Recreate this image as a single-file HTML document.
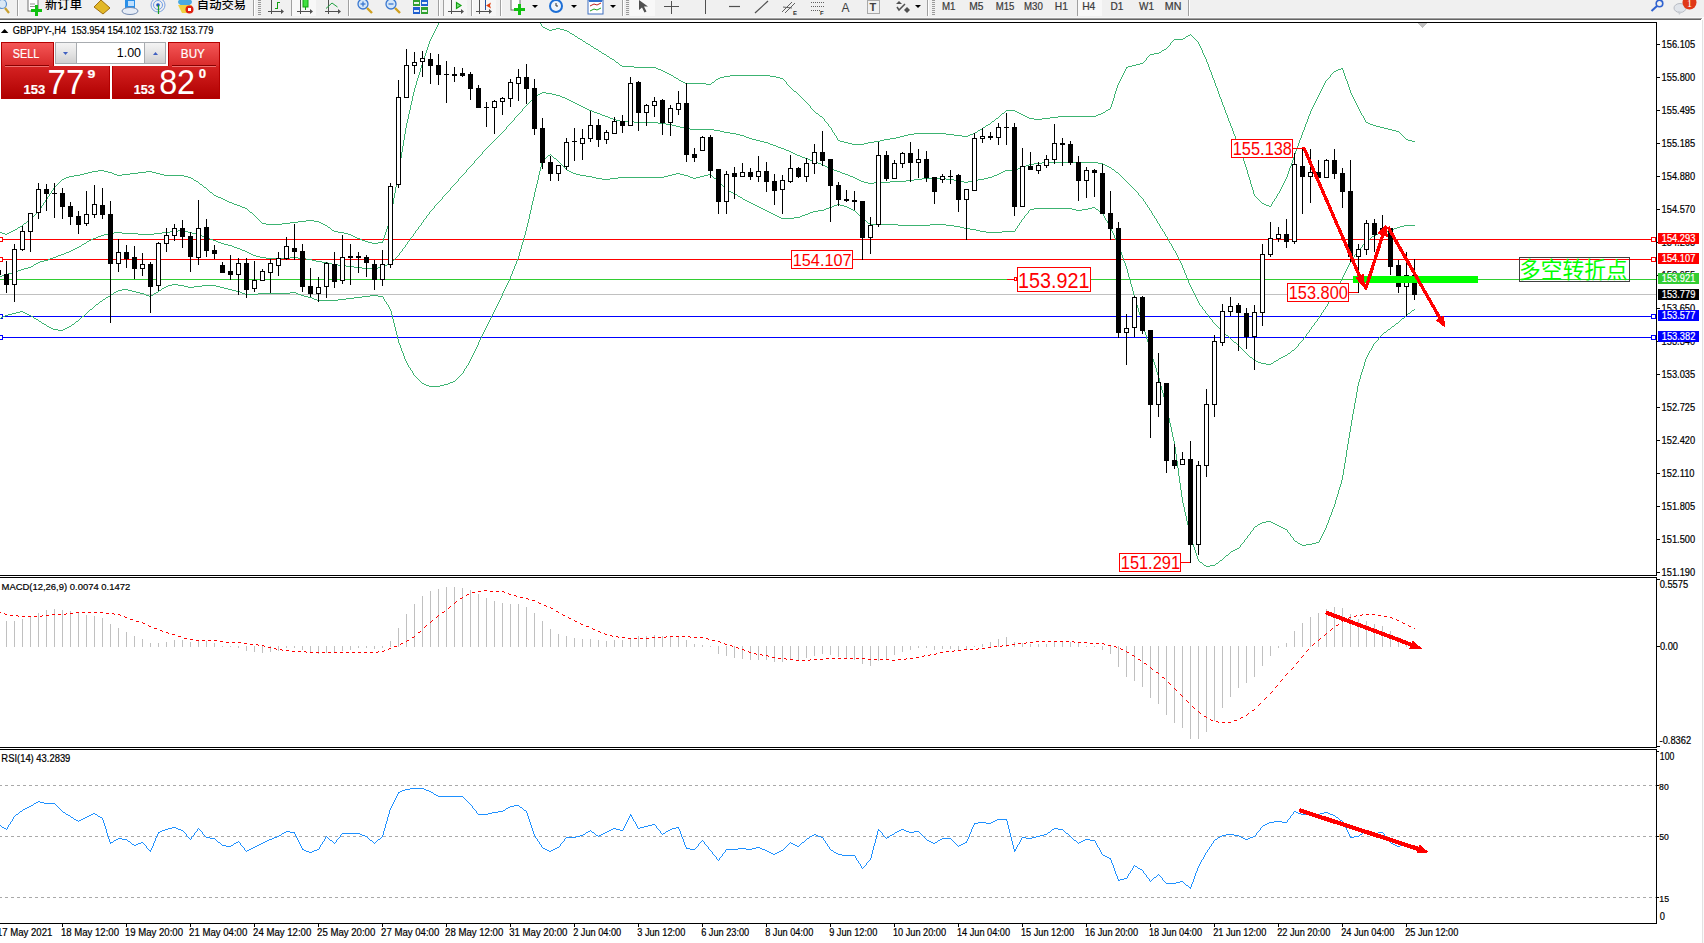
<!DOCTYPE html>
<html><head><meta charset="utf-8"><title>GBPJPY H4</title>
<style>html,body{margin:0;padding:0;background:#fff;width:1704px;height:943px;overflow:hidden}</style>
</head><body>
<svg width="1704" height="943" viewBox="0 0 1704 943" style="display:block">
<rect x="0" y="0" width="1704" height="943" fill="#ffffff"/>
<defs><clipPath id="cm"><rect x="0" y="23" width="1656" height="552"/></clipPath><clipPath id="cmacd"><rect x="0" y="578" width="1656" height="169"/></clipPath><clipPath id="crsi"><rect x="0" y="750" width="1656" height="173"/></clipPath></defs>
<g clip-path="url(#cm)" shape-rendering="crispEdges">
<rect x="0" y="239" width="1656" height="1" fill="#ff0000"/>
<rect x="0" y="259" width="1656" height="1" fill="#ff0000"/>
<rect x="0" y="279" width="1656" height="1" fill="#32cd32"/>
<rect x="0" y="294" width="1656" height="1" fill="#c0c0c0"/>
<rect x="0" y="316" width="1656" height="1" fill="#0000ff"/>
<rect x="0" y="337" width="1656" height="1" fill="#0000ff"/>
<rect x="-2.5" y="237.5" width="5" height="4" fill="#fff" stroke="#ff0000" stroke-width="1"/>
<rect x="-2.5" y="257.5" width="5" height="4" fill="#fff" stroke="#ff0000" stroke-width="1"/>
<rect x="-2.5" y="314.5" width="5" height="4" fill="#fff" stroke="#0000ff" stroke-width="1"/>
<rect x="-2.5" y="335.5" width="5" height="4" fill="#fff" stroke="#0000ff" stroke-width="1"/>
<rect x="1651.5" y="237.5" width="4" height="4" fill="#fff" stroke="#ff0000" stroke-width="1"/>
<rect x="1651.5" y="257.5" width="4" height="4" fill="#fff" stroke="#ff0000" stroke-width="1"/>
<rect x="1651.5" y="314.5" width="4" height="4" fill="#fff" stroke="#0000ff" stroke-width="1"/>
<rect x="1651.5" y="335.5" width="4" height="4" fill="#fff" stroke="#0000ff" stroke-width="1"/>
<polygon points="1418,23 1427,23 1422.5,28" fill="#c0c0c0"/>
<path d="M438 23h1v1h-1zM540 23h1v1h-1zM438 24h1v1h-1zM541 24h1v1h-1zM437 25h1v1h-1zM541 25h1v1h-1zM437 26h1v1h-1zM542 26h1v1h-1zM436 27h1v1h-1zM543 27h2v1h-2zM436 28h1v1h-1zM545 28h2v1h-2zM556 28h4v1h-4zM435 29h1v1h-1zM547 29h2v1h-2zM552 29h4v1h-4zM560 29h4v1h-4zM435 30h1v1h-1zM549 30h3v1h-3zM564 30h3v1h-3zM434 31h1v1h-1zM567 31h2v1h-2zM434 32h1v1h-1zM569 32h1v1h-1zM433 33h1v1h-1zM570 33h2v1h-2zM433 34h1v1h-1zM572 34h2v1h-2zM1190 34h1v1h-1zM432 35h1v1h-1zM574 35h1v1h-1zM1188 35h2v1h-2zM1191 35h1v1h-1zM432 36h1v1h-1zM575 36h2v1h-2zM1186 36h2v1h-2zM1192 36h1v1h-1zM431 37h1v1h-1zM577 37h1v1h-1zM1185 37h1v1h-1zM1193 37h1v1h-1zM431 38h1v1h-1zM578 38h2v1h-2zM1183 38h2v1h-2zM1194 38h1v1h-1zM430 39h1v1h-1zM580 39h2v1h-2zM1174 39h9v1h-9zM1195 39h1v1h-1zM430 40h1v1h-1zM582 40h1v1h-1zM1173 40h1v1h-1zM1196 40h1v1h-1zM429 41h1v1h-1zM583 41h2v1h-2zM1172 41h1v1h-1zM1197 41h1v1h-1zM429 42h1v1h-1zM585 42h1v1h-1zM1171 42h1v1h-1zM1198 42h1v1h-1zM429 43h1v1h-1zM586 43h2v1h-2zM1170 43h1v1h-1zM1198 43h1v1h-1zM428 44h1v1h-1zM588 44h2v1h-2zM1170 44h1v1h-1zM1199 44h1v1h-1zM428 45h1v1h-1zM590 45h1v1h-1zM1169 45h1v1h-1zM1199 45h1v1h-1zM428 46h1v1h-1zM591 46h2v1h-2zM1168 46h1v1h-1zM1200 46h1v1h-1zM427 47h1v1h-1zM593 47h1v1h-1zM1167 47h1v1h-1zM1200 47h1v1h-1zM427 48h1v1h-1zM594 48h2v1h-2zM1166 48h1v1h-1zM1201 48h1v1h-1zM427 49h1v1h-1zM596 49h2v1h-2zM1164 49h2v1h-2zM1201 49h1v1h-1zM426 50h1v1h-1zM598 50h1v1h-1zM1162 50h2v1h-2zM1202 50h1v1h-1zM426 51h1v1h-1zM599 51h2v1h-2zM1161 51h1v1h-1zM1202 51h1v1h-1zM426 52h1v1h-1zM601 52h1v1h-1zM1159 52h2v1h-2zM1202 52h1v1h-1zM425 53h1v1h-1zM602 53h2v1h-2zM1154 53h5v1h-5zM1203 53h1v1h-1zM425 54h1v1h-1zM604 54h2v1h-2zM1150 54h4v1h-4zM1203 54h1v1h-1zM425 55h1v1h-1zM606 55h1v1h-1zM1149 55h1v1h-1zM1204 55h1v1h-1zM424 56h1v1h-1zM607 56h2v1h-2zM1148 56h1v1h-1zM1204 56h1v1h-1zM424 57h1v1h-1zM609 57h1v1h-1zM1147 57h1v1h-1zM1205 57h1v1h-1zM424 58h1v1h-1zM610 58h2v1h-2zM1146 58h1v1h-1zM1205 58h1v1h-1zM423 59h1v1h-1zM612 59h2v1h-2zM1146 59h1v1h-1zM1206 59h1v1h-1zM423 60h1v1h-1zM614 60h1v1h-1zM1145 60h1v1h-1zM1206 60h1v1h-1zM423 61h1v1h-1zM615 61h1v1h-1zM1144 61h1v1h-1zM1206 61h1v1h-1zM422 62h1v1h-1zM616 62h2v1h-2zM1143 62h1v1h-1zM1207 62h1v1h-1zM422 63h1v1h-1zM618 63h1v1h-1zM1140 63h3v1h-3zM1207 63h1v1h-1zM422 64h1v1h-1zM619 64h1v1h-1zM1136 64h4v1h-4zM1208 64h1v1h-1zM421 65h1v1h-1zM620 65h2v1h-2zM1132 65h4v1h-4zM1208 65h1v1h-1zM421 66h1v1h-1zM622 66h12v1h-12zM1128 66h4v1h-4zM1208 66h1v1h-1zM421 67h1v1h-1zM634 67h22v1h-22zM1126 67h2v1h-2zM1209 67h1v1h-1zM420 68h1v1h-1zM656 68h2v1h-2zM1126 68h1v1h-1zM1209 68h1v1h-1zM1341 68h2v1h-2zM420 69h1v1h-1zM658 69h3v1h-3zM1125 69h1v1h-1zM1209 69h1v1h-1zM1338 69h3v1h-3zM1342 69h1v1h-1zM420 70h1v1h-1zM661 70h2v1h-2zM1125 70h1v1h-1zM1210 70h1v1h-1zM1336 70h2v1h-2zM1343 70h1v1h-1zM420 71h1v1h-1zM663 71h2v1h-2zM1124 71h1v1h-1zM1210 71h1v1h-1zM1334 71h2v1h-2zM1343 71h1v1h-1zM419 72h1v1h-1zM665 72h2v1h-2zM1124 72h1v1h-1zM1211 72h1v1h-1zM1333 72h1v1h-1zM1343 72h1v1h-1zM419 73h1v1h-1zM667 73h2v1h-2zM1123 73h1v1h-1zM1211 73h1v1h-1zM1332 73h1v1h-1zM1344 73h1v1h-1zM419 74h1v1h-1zM669 74h2v1h-2zM1123 74h1v1h-1zM1211 74h1v1h-1zM1331 74h1v1h-1zM1344 74h1v1h-1zM418 75h1v1h-1zM671 75h2v1h-2zM730 75h40v1h-40zM1122 75h1v1h-1zM1212 75h1v1h-1zM1330 75h1v1h-1zM1344 75h1v1h-1zM418 76h1v1h-1zM673 76h1v1h-1zM724 76h6v1h-6zM770 76h6v1h-6zM1122 76h1v1h-1zM1212 76h1v1h-1zM1330 76h1v1h-1zM1345 76h1v1h-1zM418 77h1v1h-1zM674 77h2v1h-2zM720 77h4v1h-4zM776 77h4v1h-4zM1121 77h1v1h-1zM1212 77h1v1h-1zM1329 77h1v1h-1zM1345 77h1v1h-1zM417 78h1v1h-1zM676 78h2v1h-2zM718 78h2v1h-2zM780 78h3v1h-3zM1121 78h1v1h-1zM1213 78h1v1h-1zM1328 78h1v1h-1zM1345 78h1v1h-1zM417 79h1v1h-1zM678 79h1v1h-1zM716 79h2v1h-2zM783 79h1v1h-1zM1120 79h1v1h-1zM1213 79h1v1h-1zM1327 79h1v1h-1zM1346 79h1v1h-1zM417 80h1v1h-1zM679 80h2v1h-2zM715 80h1v1h-1zM784 80h1v1h-1zM1120 80h1v1h-1zM1214 80h1v1h-1zM1326 80h1v1h-1zM1346 80h1v1h-1zM416 81h1v1h-1zM681 81h2v1h-2zM714 81h1v1h-1zM785 81h1v1h-1zM1119 81h1v1h-1zM1214 81h1v1h-1zM1325 81h1v1h-1zM1347 81h1v1h-1zM416 82h1v1h-1zM683 82h2v1h-2zM712 82h2v1h-2zM786 82h1v1h-1zM1119 82h1v1h-1zM1214 82h1v1h-1zM1325 82h1v1h-1zM1347 82h1v1h-1zM416 83h1v1h-1zM685 83h21v1h-21zM711 83h1v1h-1zM786 83h1v1h-1zM1118 83h1v1h-1zM1215 83h1v1h-1zM1324 83h1v1h-1zM1347 83h1v1h-1zM416 84h1v1h-1zM706 84h5v1h-5zM787 84h1v1h-1zM1118 84h1v1h-1zM1215 84h1v1h-1zM1324 84h1v1h-1zM1348 84h1v1h-1zM415 85h1v1h-1zM788 85h1v1h-1zM1117 85h1v1h-1zM1215 85h1v1h-1zM1323 85h1v1h-1zM1348 85h1v1h-1zM415 86h1v1h-1zM789 86h1v1h-1zM1117 86h1v1h-1zM1216 86h1v1h-1zM1323 86h1v1h-1zM1348 86h1v1h-1zM415 87h1v1h-1zM790 87h1v1h-1zM1117 87h1v1h-1zM1216 87h1v1h-1zM1322 87h1v1h-1zM1349 87h1v1h-1zM414 88h1v1h-1zM791 88h1v1h-1zM1116 88h1v1h-1zM1217 88h1v1h-1zM1322 88h1v1h-1zM1349 88h1v1h-1zM414 89h1v1h-1zM792 89h1v1h-1zM1116 89h1v1h-1zM1217 89h1v1h-1zM1321 89h1v1h-1zM1349 89h1v1h-1zM414 90h1v1h-1zM793 90h1v1h-1zM1116 90h1v1h-1zM1217 90h1v1h-1zM1321 90h1v1h-1zM1350 90h1v1h-1zM414 91h1v1h-1zM794 91h2v1h-2zM1115 91h1v1h-1zM1218 91h1v1h-1zM1320 91h1v1h-1zM1350 91h1v1h-1zM413 92h1v1h-1zM796 92h1v1h-1zM1115 92h1v1h-1zM1218 92h1v1h-1zM1320 92h1v1h-1zM1350 92h1v1h-1zM413 93h1v1h-1zM797 93h1v1h-1zM1115 93h1v1h-1zM1218 93h1v1h-1zM1319 93h1v1h-1zM1351 93h1v1h-1zM413 94h1v1h-1zM798 94h1v1h-1zM1114 94h1v1h-1zM1219 94h1v1h-1zM1319 94h1v1h-1zM1351 94h1v1h-1zM413 95h1v1h-1zM799 95h1v1h-1zM1114 95h1v1h-1zM1219 95h1v1h-1zM1318 95h1v1h-1zM1352 95h1v1h-1zM412 96h1v1h-1zM800 96h1v1h-1zM1114 96h1v1h-1zM1219 96h1v1h-1zM1318 96h1v1h-1zM1352 96h1v1h-1zM412 97h1v1h-1zM801 97h1v1h-1zM1114 97h1v1h-1zM1220 97h1v1h-1zM1317 97h1v1h-1zM1353 97h1v1h-1zM412 98h1v1h-1zM802 98h1v1h-1zM1113 98h1v1h-1zM1220 98h1v1h-1zM1317 98h1v1h-1zM1353 98h1v1h-1zM412 99h1v1h-1zM803 99h1v1h-1zM1113 99h1v1h-1zM1221 99h1v1h-1zM1316 99h1v1h-1zM1354 99h1v1h-1zM412 100h1v1h-1zM804 100h1v1h-1zM1113 100h1v1h-1zM1221 100h1v1h-1zM1316 100h1v1h-1zM1354 100h1v1h-1zM411 101h1v1h-1zM805 101h1v1h-1zM1112 101h1v1h-1zM1221 101h1v1h-1zM1315 101h1v1h-1zM1355 101h1v1h-1zM411 102h1v1h-1zM806 102h1v1h-1zM1112 102h1v1h-1zM1222 102h1v1h-1zM1315 102h1v1h-1zM1355 102h1v1h-1zM411 103h1v1h-1zM807 103h1v1h-1zM1112 103h1v1h-1zM1222 103h1v1h-1zM1314 103h1v1h-1zM1356 103h1v1h-1zM411 104h1v1h-1zM808 104h1v1h-1zM1111 104h1v1h-1zM1222 104h1v1h-1zM1314 104h1v1h-1zM1356 104h1v1h-1zM410 105h1v1h-1zM809 105h1v1h-1zM1111 105h1v1h-1zM1223 105h1v1h-1zM1313 105h1v1h-1zM1357 105h1v1h-1zM410 106h1v1h-1zM810 106h1v1h-1zM1111 106h1v1h-1zM1223 106h1v1h-1zM1313 106h1v1h-1zM1357 106h1v1h-1zM410 107h1v1h-1zM810 107h1v1h-1zM1110 107h1v1h-1zM1224 107h1v1h-1zM1312 107h1v1h-1zM1358 107h1v1h-1zM410 108h1v1h-1zM811 108h1v1h-1zM1110 108h1v1h-1zM1224 108h1v1h-1zM1312 108h1v1h-1zM1358 108h1v1h-1zM410 109h1v1h-1zM812 109h1v1h-1zM1108 109h2v1h-2zM1224 109h1v1h-1zM1311 109h1v1h-1zM1359 109h1v1h-1zM409 110h1v1h-1zM813 110h1v1h-1zM1006 110h9v1h-9zM1106 110h2v1h-2zM1225 110h1v1h-1zM1311 110h1v1h-1zM1359 110h1v1h-1zM409 111h1v1h-1zM814 111h1v1h-1zM1005 111h1v1h-1zM1015 111h2v1h-2zM1105 111h1v1h-1zM1225 111h1v1h-1zM1310 111h1v1h-1zM1360 111h1v1h-1zM409 112h1v1h-1zM815 112h1v1h-1zM1004 112h1v1h-1zM1017 112h2v1h-2zM1103 112h2v1h-2zM1225 112h1v1h-1zM1310 112h1v1h-1zM1360 112h1v1h-1zM409 113h1v1h-1zM816 113h2v1h-2zM1002 113h2v1h-2zM1019 113h2v1h-2zM1101 113h2v1h-2zM1226 113h1v1h-1zM1310 113h1v1h-1zM1361 113h1v1h-1zM408 114h1v1h-1zM818 114h1v1h-1zM1001 114h1v1h-1zM1021 114h2v1h-2zM1098 114h3v1h-3zM1226 114h1v1h-1zM1309 114h1v1h-1zM1361 114h1v1h-1zM408 115h1v1h-1zM819 115h1v1h-1zM1000 115h1v1h-1zM1023 115h2v1h-2zM1096 115h2v1h-2zM1227 115h1v1h-1zM1309 115h1v1h-1zM1362 115h1v1h-1zM408 116h1v1h-1zM820 116h2v1h-2zM999 116h1v1h-1zM1025 116h2v1h-2zM1058 116h38v1h-38zM1227 116h1v1h-1zM1308 116h1v1h-1zM1363 116h1v1h-1zM408 117h1v1h-1zM822 117h1v1h-1zM998 117h1v1h-1zM1027 117h2v1h-2zM1050 117h8v1h-8zM1227 117h1v1h-1zM1308 117h1v1h-1zM1363 117h1v1h-1zM408 118h1v1h-1zM823 118h1v1h-1zM996 118h2v1h-2zM1029 118h5v1h-5zM1042 118h8v1h-8zM1228 118h1v1h-1zM1308 118h1v1h-1zM1364 118h1v1h-1zM407 119h1v1h-1zM824 119h1v1h-1zM995 119h1v1h-1zM1034 119h8v1h-8zM1228 119h1v1h-1zM1307 119h1v1h-1zM1364 119h1v1h-1zM407 120h1v1h-1zM824 120h1v1h-1zM994 120h1v1h-1zM1228 120h1v1h-1zM1307 120h1v1h-1zM1365 120h1v1h-1zM407 121h1v1h-1zM825 121h1v1h-1zM992 121h2v1h-2zM1229 121h1v1h-1zM1307 121h1v1h-1zM1365 121h1v1h-1zM407 122h1v1h-1zM826 122h1v1h-1zM991 122h1v1h-1zM1229 122h1v1h-1zM1306 122h1v1h-1zM1366 122h2v1h-2zM406 123h1v1h-1zM827 123h1v1h-1zM990 123h1v1h-1zM1230 123h1v1h-1zM1306 123h1v1h-1zM1368 123h2v1h-2zM406 124h1v1h-1zM828 124h1v1h-1zM988 124h2v1h-2zM1230 124h1v1h-1zM1305 124h1v1h-1zM1370 124h3v1h-3zM406 125h1v1h-1zM828 125h1v1h-1zM986 125h2v1h-2zM1230 125h1v1h-1zM1305 125h1v1h-1zM1373 125h3v1h-3zM406 126h1v1h-1zM829 126h1v1h-1zM985 126h1v1h-1zM1231 126h1v1h-1zM1305 126h1v1h-1zM1376 126h4v1h-4zM406 127h1v1h-1zM830 127h1v1h-1zM983 127h2v1h-2zM1231 127h1v1h-1zM1304 127h1v1h-1zM1380 127h4v1h-4zM405 128h1v1h-1zM831 128h1v1h-1zM982 128h1v1h-1zM1232 128h1v1h-1zM1304 128h1v1h-1zM1384 128h4v1h-4zM405 129h1v1h-1zM831 129h1v1h-1zM980 129h2v1h-2zM1232 129h1v1h-1zM1304 129h1v1h-1zM1388 129h4v1h-4zM405 130h1v1h-1zM832 130h1v1h-1zM978 130h2v1h-2zM1232 130h1v1h-1zM1303 130h1v1h-1zM1392 130h4v1h-4zM405 131h1v1h-1zM832 131h1v1h-1zM977 131h1v1h-1zM1233 131h1v1h-1zM1303 131h1v1h-1zM1396 131h3v1h-3zM405 132h1v1h-1zM833 132h1v1h-1zM975 132h2v1h-2zM1233 132h1v1h-1zM1302 132h1v1h-1zM1399 132h1v1h-1zM405 133h1v1h-1zM834 133h1v1h-1zM914 133h32v1h-32zM973 133h2v1h-2zM1233 133h1v1h-1zM1302 133h1v1h-1zM1400 133h1v1h-1zM404 134h1v1h-1zM834 134h1v1h-1zM908 134h6v1h-6zM946 134h8v1h-8zM970 134h3v1h-3zM1234 134h1v1h-1zM1302 134h1v1h-1zM1401 134h1v1h-1zM404 135h1v1h-1zM835 135h1v1h-1zM904 135h4v1h-4zM954 135h8v1h-8zM968 135h2v1h-2zM1234 135h1v1h-1zM1301 135h1v1h-1zM1402 135h1v1h-1zM404 136h1v1h-1zM836 136h1v1h-1zM900 136h4v1h-4zM962 136h6v1h-6zM1235 136h1v1h-1zM1301 136h1v1h-1zM1403 136h1v1h-1zM404 137h1v1h-1zM836 137h1v1h-1zM896 137h4v1h-4zM1235 137h1v1h-1zM1301 137h1v1h-1zM1404 137h1v1h-1zM404 138h1v1h-1zM837 138h1v1h-1zM890 138h6v1h-6zM1235 138h1v1h-1zM1300 138h1v1h-1zM1405 138h1v1h-1zM404 139h1v1h-1zM837 139h1v1h-1zM884 139h6v1h-6zM1236 139h1v1h-1zM1300 139h1v1h-1zM1406 139h2v1h-2zM403 140h1v1h-1zM838 140h2v1h-2zM880 140h4v1h-4zM1236 140h1v1h-1zM1299 140h1v1h-1zM1408 140h4v1h-4zM403 141h1v1h-1zM840 141h4v1h-4zM874 141h6v1h-6zM1236 141h1v1h-1zM1299 141h1v1h-1zM1412 141h3v1h-3zM403 142h1v1h-1zM844 142h4v1h-4zM868 142h6v1h-6zM1237 142h1v1h-1zM1299 142h1v1h-1zM403 143h1v1h-1zM848 143h4v1h-4zM864 143h4v1h-4zM1237 143h1v1h-1zM1298 143h1v1h-1zM403 144h1v1h-1zM852 144h12v1h-12zM1238 144h1v1h-1zM1298 144h1v1h-1zM403 145h1v1h-1zM1238 145h1v1h-1zM1298 145h1v1h-1zM402 146h1v1h-1zM1238 146h1v1h-1zM1297 146h1v1h-1zM402 147h1v1h-1zM1239 147h1v1h-1zM1297 147h1v1h-1zM402 148h1v1h-1zM1239 148h1v1h-1zM1297 148h1v1h-1zM402 149h1v1h-1zM1239 149h1v1h-1zM1296 149h1v1h-1zM402 150h1v1h-1zM1240 150h1v1h-1zM1296 150h1v1h-1zM402 151h1v1h-1zM1240 151h1v1h-1zM1295 151h1v1h-1zM401 152h1v1h-1zM1240 152h1v1h-1zM1295 152h1v1h-1zM401 153h1v1h-1zM1241 153h1v1h-1zM1295 153h1v1h-1zM401 154h1v1h-1zM1241 154h1v1h-1zM1294 154h1v1h-1zM401 155h1v1h-1zM1241 155h1v1h-1zM1294 155h1v1h-1zM401 156h1v1h-1zM1242 156h1v1h-1zM1294 156h1v1h-1zM401 157h1v1h-1zM1242 157h1v1h-1zM1293 157h1v1h-1zM400 158h1v1h-1zM1243 158h1v1h-1zM1293 158h1v1h-1zM400 159h1v1h-1zM1243 159h1v1h-1zM1293 159h1v1h-1zM400 160h1v1h-1zM1243 160h1v1h-1zM1292 160h1v1h-1zM400 161h1v1h-1zM1244 161h1v1h-1zM1292 161h1v1h-1zM400 162h1v1h-1zM1244 162h1v1h-1zM1292 162h1v1h-1zM400 163h1v1h-1zM1244 163h1v1h-1zM1291 163h1v1h-1zM399 164h1v1h-1zM1245 164h1v1h-1zM1291 164h1v1h-1zM399 165h1v1h-1zM1245 165h1v1h-1zM1291 165h1v1h-1zM399 166h1v1h-1zM1245 166h1v1h-1zM1290 166h1v1h-1zM399 167h1v1h-1zM1246 167h1v1h-1zM1290 167h1v1h-1zM399 168h1v1h-1zM1246 168h1v1h-1zM1289 168h1v1h-1zM399 169h1v1h-1zM1246 169h1v1h-1zM1289 169h1v1h-1zM98 170h6v1h-6zM398 170h1v1h-1zM1247 170h1v1h-1zM1289 170h1v1h-1zM92 171h6v1h-6zM104 171h4v1h-4zM146 171h6v1h-6zM398 171h1v1h-1zM1247 171h1v1h-1zM1288 171h1v1h-1zM88 172h4v1h-4zM108 172h4v1h-4zM138 172h8v1h-8zM152 172h4v1h-4zM398 172h1v1h-1zM1247 172h1v1h-1zM1288 172h1v1h-1zM84 173h4v1h-4zM112 173h2v1h-2zM130 173h8v1h-8zM156 173h4v1h-4zM398 173h1v1h-1zM1247 173h1v1h-1zM1288 173h1v1h-1zM80 174h4v1h-4zM114 174h3v1h-3zM122 174h8v1h-8zM160 174h4v1h-4zM398 174h1v1h-1zM1248 174h1v1h-1zM1287 174h1v1h-1zM74 175h6v1h-6zM117 175h5v1h-5zM164 175h20v1h-20zM397 175h1v1h-1zM1248 175h1v1h-1zM1287 175h1v1h-1zM69 176h5v1h-5zM184 176h4v1h-4zM397 176h1v1h-1zM1248 176h1v1h-1zM1287 176h1v1h-1zM66 177h3v1h-3zM188 177h3v1h-3zM397 177h1v1h-1zM1249 177h1v1h-1zM1286 177h1v1h-1zM64 178h2v1h-2zM191 178h2v1h-2zM397 178h1v1h-1zM1249 178h1v1h-1zM1286 178h1v1h-1zM62 179h2v1h-2zM193 179h1v1h-1zM397 179h1v1h-1zM1249 179h1v1h-1zM1285 179h1v1h-1zM61 180h1v1h-1zM194 180h2v1h-2zM397 180h1v1h-1zM1250 180h1v1h-1zM1285 180h1v1h-1zM60 181h1v1h-1zM196 181h2v1h-2zM396 181h1v1h-1zM1250 181h1v1h-1zM1284 181h1v1h-1zM59 182h1v1h-1zM198 182h1v1h-1zM396 182h1v1h-1zM1250 182h1v1h-1zM1284 182h1v1h-1zM58 183h1v1h-1zM199 183h1v1h-1zM396 183h1v1h-1zM1250 183h1v1h-1zM1283 183h1v1h-1zM57 184h1v1h-1zM200 184h2v1h-2zM396 184h1v1h-1zM1251 184h1v1h-1zM1283 184h1v1h-1zM56 185h1v1h-1zM202 185h1v1h-1zM396 185h1v1h-1zM1251 185h1v1h-1zM1282 185h1v1h-1zM55 186h1v1h-1zM203 186h1v1h-1zM396 186h1v1h-1zM1251 186h1v1h-1zM1282 186h1v1h-1zM54 187h1v1h-1zM204 187h2v1h-2zM395 187h1v1h-1zM1252 187h1v1h-1zM1281 187h1v1h-1zM53 188h1v1h-1zM206 188h1v1h-1zM395 188h1v1h-1zM1252 188h1v1h-1zM1281 188h1v1h-1zM53 189h1v1h-1zM207 189h1v1h-1zM395 189h1v1h-1zM1252 189h1v1h-1zM1280 189h1v1h-1zM52 190h1v1h-1zM208 190h1v1h-1zM395 190h1v1h-1zM1253 190h1v1h-1zM1280 190h1v1h-1zM51 191h1v1h-1zM209 191h1v1h-1zM395 191h1v1h-1zM1253 191h1v1h-1zM1279 191h1v1h-1zM51 192h1v1h-1zM210 192h2v1h-2zM395 192h1v1h-1zM1253 192h1v1h-1zM1279 192h1v1h-1zM50 193h1v1h-1zM212 193h1v1h-1zM394 193h1v1h-1zM1253 193h1v1h-1zM1278 193h1v1h-1zM49 194h1v1h-1zM213 194h1v1h-1zM394 194h1v1h-1zM1254 194h1v1h-1zM1277 194h1v1h-1zM49 195h1v1h-1zM214 195h2v1h-2zM394 195h1v1h-1zM1254 195h1v1h-1zM1277 195h1v1h-1zM48 196h1v1h-1zM216 196h2v1h-2zM394 196h1v1h-1zM1255 196h1v1h-1zM1276 196h1v1h-1zM47 197h1v1h-1zM218 197h3v1h-3zM394 197h1v1h-1zM1256 197h1v1h-1zM1276 197h1v1h-1zM47 198h1v1h-1zM221 198h2v1h-2zM393 198h1v1h-1zM1257 198h1v1h-1zM1275 198h1v1h-1zM46 199h1v1h-1zM223 199h2v1h-2zM393 199h1v1h-1zM1258 199h1v1h-1zM1274 199h1v1h-1zM45 200h1v1h-1zM225 200h2v1h-2zM393 200h1v1h-1zM1259 200h1v1h-1zM1274 200h1v1h-1zM45 201h1v1h-1zM227 201h2v1h-2zM393 201h1v1h-1zM1260 201h1v1h-1zM1273 201h1v1h-1zM44 202h1v1h-1zM229 202h3v1h-3zM393 202h1v1h-1zM1261 202h1v1h-1zM1272 202h1v1h-1zM43 203h1v1h-1zM232 203h2v1h-2zM393 203h1v1h-1zM1262 203h2v1h-2zM1272 203h1v1h-1zM43 204h1v1h-1zM234 204h3v1h-3zM392 204h1v1h-1zM1264 204h2v1h-2zM1271 204h1v1h-1zM42 205h1v1h-1zM237 205h3v1h-3zM392 205h1v1h-1zM1266 205h3v1h-3zM1271 205h1v1h-1zM41 206h1v1h-1zM240 206h2v1h-2zM392 206h1v1h-1zM1269 206h2v1h-2zM41 207h1v1h-1zM242 207h3v1h-3zM392 207h1v1h-1zM40 208h1v1h-1zM245 208h2v1h-2zM392 208h1v1h-1zM39 209h1v1h-1zM247 209h1v1h-1zM392 209h1v1h-1zM39 210h1v1h-1zM248 210h1v1h-1zM391 210h1v1h-1zM38 211h1v1h-1zM249 211h1v1h-1zM391 211h1v1h-1zM37 212h1v1h-1zM250 212h2v1h-2zM391 212h1v1h-1zM36 213h1v1h-1zM252 213h1v1h-1zM391 213h1v1h-1zM35 214h1v1h-1zM253 214h1v1h-1zM391 214h1v1h-1zM34 215h1v1h-1zM254 215h1v1h-1zM391 215h1v1h-1zM33 216h1v1h-1zM255 216h1v1h-1zM390 216h1v1h-1zM32 217h1v1h-1zM256 217h1v1h-1zM390 217h1v1h-1zM31 218h1v1h-1zM257 218h1v1h-1zM390 218h1v1h-1zM30 219h1v1h-1zM258 219h1v1h-1zM390 219h1v1h-1zM28 220h2v1h-2zM259 220h1v1h-1zM306 220h8v1h-8zM389 220h1v1h-1zM27 221h1v1h-1zM260 221h1v1h-1zM298 221h8v1h-8zM314 221h5v1h-5zM389 221h1v1h-1zM26 222h1v1h-1zM261 222h1v1h-1zM290 222h8v1h-8zM319 222h2v1h-2zM389 222h1v1h-1zM24 223h2v1h-2zM262 223h4v1h-4zM282 223h8v1h-8zM321 223h2v1h-2zM388 223h1v1h-1zM23 224h1v1h-1zM266 224h16v1h-16zM323 224h2v1h-2zM388 224h1v1h-1zM22 225h1v1h-1zM325 225h2v1h-2zM388 225h1v1h-1zM20 226h2v1h-2zM327 226h1v1h-1zM387 226h1v1h-1zM18 227h2v1h-2zM328 227h2v1h-2zM387 227h1v1h-1zM17 228h1v1h-1zM330 228h1v1h-1zM387 228h1v1h-1zM15 229h2v1h-2zM331 229h1v1h-1zM386 229h1v1h-1zM13 230h2v1h-2zM332 230h2v1h-2zM386 230h1v1h-1zM11 231h2v1h-2zM334 231h4v1h-4zM386 231h1v1h-1zM0 232h2v1h-2zM9 232h2v1h-2zM338 232h6v1h-6zM385 232h1v1h-1zM2 233h3v1h-3zM7 233h2v1h-2zM344 233h4v1h-4zM385 233h1v1h-1zM5 234h2v1h-2zM348 234h3v1h-3zM385 234h1v1h-1zM351 235h2v1h-2zM384 235h1v1h-1zM353 236h2v1h-2zM384 236h1v1h-1zM355 237h2v1h-2zM384 237h1v1h-1zM357 238h3v1h-3zM383 238h1v1h-1zM360 239h2v1h-2zM383 239h1v1h-1zM362 240h3v1h-3zM383 240h1v1h-1zM365 241h3v1h-3zM382 241h1v1h-1zM368 242h4v1h-4zM378 242h5v1h-5zM372 243h6v1h-6zM542 92h4v1h-4zM540 93h2v1h-2zM546 93h6v1h-6zM538 94h2v1h-2zM552 94h4v1h-4zM537 95h1v1h-1zM556 95h4v1h-4zM535 96h2v1h-2zM560 96h2v1h-2zM534 97h1v1h-1zM562 97h3v1h-3zM533 98h1v1h-1zM565 98h2v1h-2zM532 99h1v1h-1zM567 99h2v1h-2zM531 100h1v1h-1zM569 100h2v1h-2zM530 101h1v1h-1zM571 101h2v1h-2zM529 102h1v1h-1zM573 102h2v1h-2zM528 103h1v1h-1zM575 103h2v1h-2zM527 104h1v1h-1zM577 104h2v1h-2zM526 105h1v1h-1zM579 105h2v1h-2zM525 106h1v1h-1zM581 106h2v1h-2zM524 107h1v1h-1zM583 107h2v1h-2zM523 108h1v1h-1zM585 108h2v1h-2zM522 109h1v1h-1zM587 109h2v1h-2zM522 110h1v1h-1zM589 110h3v1h-3zM521 111h1v1h-1zM592 111h2v1h-2zM520 112h1v1h-1zM594 112h3v1h-3zM519 113h1v1h-1zM597 113h3v1h-3zM518 114h1v1h-1zM600 114h2v1h-2zM517 115h1v1h-1zM602 115h3v1h-3zM516 116h1v1h-1zM605 116h3v1h-3zM515 117h1v1h-1zM608 117h2v1h-2zM514 118h1v1h-1zM610 118h3v1h-3zM514 119h1v1h-1zM613 119h3v1h-3zM513 120h1v1h-1zM616 120h4v1h-4zM512 121h1v1h-1zM620 121h14v1h-14zM511 122h1v1h-1zM634 122h24v1h-24zM510 123h1v1h-1zM658 123h8v1h-8zM509 124h1v1h-1zM666 124h6v1h-6zM508 125h1v1h-1zM672 125h4v1h-4zM507 126h1v1h-1zM676 126h4v1h-4zM506 127h1v1h-1zM680 127h4v1h-4zM506 128h1v1h-1zM684 128h6v1h-6zM505 129h1v1h-1zM690 129h24v1h-24zM504 130h1v1h-1zM714 130h6v1h-6zM503 131h1v1h-1zM720 131h4v1h-4zM502 132h1v1h-1zM724 132h6v1h-6zM501 133h1v1h-1zM730 133h6v1h-6zM500 134h1v1h-1zM736 134h4v1h-4zM499 135h1v1h-1zM740 135h4v1h-4zM498 136h1v1h-1zM744 136h2v1h-2zM497 137h1v1h-1zM746 137h3v1h-3zM496 138h1v1h-1zM749 138h3v1h-3zM495 139h1v1h-1zM752 139h4v1h-4zM494 140h1v1h-1zM756 140h4v1h-4zM493 141h1v1h-1zM760 141h4v1h-4zM492 142h1v1h-1zM764 142h4v1h-4zM491 143h1v1h-1zM768 143h2v1h-2zM490 144h1v1h-1zM770 144h3v1h-3zM489 145h1v1h-1zM773 145h3v1h-3zM488 146h1v1h-1zM776 146h2v1h-2zM487 147h1v1h-1zM778 147h3v1h-3zM486 148h1v1h-1zM781 148h3v1h-3zM485 149h1v1h-1zM784 149h2v1h-2zM484 150h1v1h-1zM786 150h3v1h-3zM483 151h1v1h-1zM789 151h2v1h-2zM482 152h1v1h-1zM791 152h2v1h-2zM482 153h1v1h-1zM793 153h2v1h-2zM481 154h1v1h-1zM795 154h2v1h-2zM480 155h1v1h-1zM797 155h3v1h-3zM479 156h1v1h-1zM800 156h2v1h-2zM478 157h1v1h-1zM802 157h3v1h-3zM477 158h1v1h-1zM805 158h3v1h-3zM476 159h1v1h-1zM808 159h2v1h-2zM475 160h1v1h-1zM810 160h3v1h-3zM474 161h1v1h-1zM813 161h3v1h-3zM474 162h1v1h-1zM816 162h2v1h-2zM1042 162h56v1h-56zM473 163h1v1h-1zM818 163h3v1h-3zM1034 163h8v1h-8zM1098 163h5v1h-5zM472 164h1v1h-1zM821 164h2v1h-2zM1029 164h5v1h-5zM1103 164h2v1h-2zM471 165h1v1h-1zM823 165h2v1h-2zM1026 165h3v1h-3zM1105 165h2v1h-2zM470 166h1v1h-1zM825 166h2v1h-2zM1024 166h2v1h-2zM1107 166h2v1h-2zM469 167h1v1h-1zM827 167h2v1h-2zM1021 167h3v1h-3zM1109 167h2v1h-2zM468 168h1v1h-1zM829 168h3v1h-3zM1018 168h3v1h-3zM1111 168h1v1h-1zM467 169h1v1h-1zM832 169h2v1h-2zM1016 169h2v1h-2zM1112 169h2v1h-2zM466 170h1v1h-1zM834 170h3v1h-3zM1005 170h11v1h-11zM1114 170h1v1h-1zM466 171h1v1h-1zM837 171h3v1h-3zM1003 171h2v1h-2zM1115 171h1v1h-1zM465 172h1v1h-1zM840 172h2v1h-2zM1001 172h2v1h-2zM1116 172h2v1h-2zM464 173h1v1h-1zM842 173h3v1h-3zM999 173h2v1h-2zM1118 173h1v1h-1zM463 174h1v1h-1zM845 174h3v1h-3zM997 174h2v1h-2zM1119 174h1v1h-1zM462 175h1v1h-1zM848 175h2v1h-2zM994 175h3v1h-3zM1120 175h1v1h-1zM461 176h1v1h-1zM850 176h3v1h-3zM992 176h2v1h-2zM1121 176h1v1h-1zM460 177h1v1h-1zM853 177h2v1h-2zM988 177h4v1h-4zM1122 177h1v1h-1zM459 178h1v1h-1zM855 178h2v1h-2zM922 178h24v1h-24zM984 178h4v1h-4zM1123 178h1v1h-1zM458 179h1v1h-1zM857 179h2v1h-2zM914 179h8v1h-8zM946 179h8v1h-8zM978 179h6v1h-6zM1124 179h1v1h-1zM458 180h1v1h-1zM859 180h2v1h-2zM906 180h8v1h-8zM954 180h6v1h-6zM972 180h6v1h-6zM1125 180h1v1h-1zM457 181h1v1h-1zM861 181h3v1h-3zM890 181h16v1h-16zM960 181h4v1h-4zM968 181h4v1h-4zM1126 181h1v1h-1zM456 182h1v1h-1zM864 182h4v1h-4zM874 182h16v1h-16zM964 182h4v1h-4zM1127 182h1v1h-1zM455 183h1v1h-1zM868 183h6v1h-6zM1128 183h1v1h-1zM454 184h1v1h-1zM1129 184h1v1h-1zM453 185h1v1h-1zM1130 185h1v1h-1zM452 186h1v1h-1zM1131 186h1v1h-1zM451 187h1v1h-1zM1132 187h1v1h-1zM450 188h1v1h-1zM1133 188h1v1h-1zM450 189h1v1h-1zM1134 189h1v1h-1zM449 190h1v1h-1zM1135 190h1v1h-1zM448 191h1v1h-1zM1136 191h1v1h-1zM447 192h1v1h-1zM1137 192h1v1h-1zM446 193h1v1h-1zM1138 193h1v1h-1zM445 194h1v1h-1zM1138 194h1v1h-1zM444 195h1v1h-1zM1139 195h1v1h-1zM443 196h1v1h-1zM1140 196h1v1h-1zM442 197h1v1h-1zM1141 197h1v1h-1zM442 198h1v1h-1zM1142 198h1v1h-1zM441 199h1v1h-1zM1143 199h1v1h-1zM440 200h1v1h-1zM1143 200h1v1h-1zM439 201h1v1h-1zM1144 201h1v1h-1zM438 202h1v1h-1zM1145 202h1v1h-1zM437 203h1v1h-1zM1145 203h1v1h-1zM436 204h1v1h-1zM1146 204h1v1h-1zM435 205h1v1h-1zM1147 205h1v1h-1zM434 206h1v1h-1zM1147 206h1v1h-1zM434 207h1v1h-1zM1148 207h1v1h-1zM433 208h1v1h-1zM1149 208h1v1h-1zM432 209h1v1h-1zM1149 209h1v1h-1zM431 210h1v1h-1zM1150 210h1v1h-1zM430 211h1v1h-1zM1151 211h1v1h-1zM429 212h1v1h-1zM1151 212h1v1h-1zM429 213h1v1h-1zM1152 213h1v1h-1zM428 214h1v1h-1zM1152 214h1v1h-1zM427 215h1v1h-1zM1153 215h1v1h-1zM426 216h1v1h-1zM1154 216h1v1h-1zM426 217h1v1h-1zM1154 217h1v1h-1zM425 218h1v1h-1zM1155 218h1v1h-1zM424 219h1v1h-1zM1156 219h1v1h-1zM423 220h1v1h-1zM1156 220h1v1h-1zM423 221h1v1h-1zM1157 221h1v1h-1zM422 222h1v1h-1zM1157 222h1v1h-1zM421 223h1v1h-1zM1158 223h1v1h-1zM421 224h1v1h-1zM1159 224h1v1h-1zM420 225h1v1h-1zM1159 225h1v1h-1zM1404 225h11v1h-11zM419 226h1v1h-1zM1160 226h1v1h-1zM1400 226h4v1h-4zM418 227h1v1h-1zM1160 227h1v1h-1zM1397 227h3v1h-3zM418 228h1v1h-1zM1161 228h1v1h-1zM1394 228h3v1h-3zM417 229h1v1h-1zM1162 229h1v1h-1zM1392 229h2v1h-2zM178 230h6v1h-6zM416 230h1v1h-1zM1162 230h1v1h-1zM1388 230h4v1h-4zM170 231h8v1h-8zM184 231h4v1h-4zM415 231h1v1h-1zM1163 231h1v1h-1zM1384 231h4v1h-4zM114 232h8v1h-8zM162 232h8v1h-8zM188 232h4v1h-4zM415 232h1v1h-1zM1164 232h1v1h-1zM1381 232h3v1h-3zM108 233h6v1h-6zM122 233h16v1h-16zM154 233h8v1h-8zM192 233h4v1h-4zM414 233h1v1h-1zM1164 233h1v1h-1zM1378 233h3v1h-3zM104 234h4v1h-4zM138 234h16v1h-16zM196 234h4v1h-4zM413 234h1v1h-1zM1165 234h1v1h-1zM1376 234h2v1h-2zM101 235h3v1h-3zM200 235h2v1h-2zM413 235h1v1h-1zM1165 235h1v1h-1zM1374 235h2v1h-2zM98 236h3v1h-3zM202 236h3v1h-3zM412 236h1v1h-1zM1166 236h1v1h-1zM1372 236h2v1h-2zM96 237h2v1h-2zM205 237h3v1h-3zM411 237h1v1h-1zM1167 237h1v1h-1zM1371 237h1v1h-1zM93 238h3v1h-3zM208 238h2v1h-2zM410 238h1v1h-1zM1167 238h1v1h-1zM1370 238h1v1h-1zM91 239h2v1h-2zM210 239h3v1h-3zM410 239h1v1h-1zM1168 239h1v1h-1zM1368 239h2v1h-2zM89 240h2v1h-2zM213 240h3v1h-3zM409 240h1v1h-1zM1168 240h1v1h-1zM1367 240h1v1h-1zM87 241h2v1h-2zM216 241h2v1h-2zM408 241h1v1h-1zM1169 241h1v1h-1zM1366 241h1v1h-1zM86 242h1v1h-1zM218 242h3v1h-3zM407 242h1v1h-1zM1169 242h1v1h-1zM1365 242h1v1h-1zM84 243h2v1h-2zM221 243h3v1h-3zM407 243h1v1h-1zM1170 243h1v1h-1zM1364 243h1v1h-1zM82 244h2v1h-2zM224 244h4v1h-4zM406 244h1v1h-1zM1171 244h1v1h-1zM1363 244h1v1h-1zM81 245h1v1h-1zM228 245h4v1h-4zM405 245h1v1h-1zM1171 245h1v1h-1zM1362 245h1v1h-1zM79 246h2v1h-2zM232 246h2v1h-2zM405 246h1v1h-1zM1172 246h1v1h-1zM1362 246h1v1h-1zM77 247h2v1h-2zM234 247h3v1h-3zM404 247h1v1h-1zM1172 247h1v1h-1zM1361 247h1v1h-1zM75 248h2v1h-2zM237 248h3v1h-3zM403 248h1v1h-1zM1173 248h1v1h-1zM1360 248h1v1h-1zM73 249h2v1h-2zM240 249h2v1h-2zM402 249h1v1h-1zM1173 249h1v1h-1zM1359 249h1v1h-1zM71 250h2v1h-2zM242 250h3v1h-3zM402 250h1v1h-1zM1174 250h1v1h-1zM1358 250h1v1h-1zM69 251h2v1h-2zM245 251h2v1h-2zM401 251h1v1h-1zM1175 251h1v1h-1zM1357 251h1v1h-1zM66 252h3v1h-3zM247 252h2v1h-2zM400 252h1v1h-1zM1175 252h1v1h-1zM1357 252h1v1h-1zM64 253h2v1h-2zM249 253h2v1h-2zM399 253h1v1h-1zM1176 253h1v1h-1zM1356 253h1v1h-1zM61 254h3v1h-3zM251 254h2v1h-2zM399 254h1v1h-1zM1176 254h1v1h-1zM1355 254h1v1h-1zM58 255h3v1h-3zM253 255h3v1h-3zM398 255h1v1h-1zM1177 255h1v1h-1zM1354 255h1v1h-1zM56 256h2v1h-2zM256 256h4v1h-4zM397 256h1v1h-1zM1177 256h1v1h-1zM1354 256h1v1h-1zM53 257h3v1h-3zM260 257h6v1h-6zM290 257h8v1h-8zM396 257h1v1h-1zM1178 257h1v1h-1zM1353 257h1v1h-1zM50 258h3v1h-3zM266 258h24v1h-24zM298 258h8v1h-8zM395 258h1v1h-1zM1178 258h1v1h-1zM1352 258h1v1h-1zM48 259h2v1h-2zM306 259h6v1h-6zM394 259h1v1h-1zM1179 259h1v1h-1zM1351 259h1v1h-1zM44 260h4v1h-4zM312 260h4v1h-4zM393 260h1v1h-1zM1179 260h1v1h-1zM1351 260h1v1h-1zM40 261h4v1h-4zM316 261h6v1h-6zM392 261h1v1h-1zM1180 261h1v1h-1zM1350 261h1v1h-1zM38 262h2v1h-2zM322 262h6v1h-6zM391 262h1v1h-1zM1180 262h1v1h-1zM1350 262h1v1h-1zM36 263h2v1h-2zM328 263h4v1h-4zM389 263h2v1h-2zM1181 263h1v1h-1zM1349 263h1v1h-1zM34 264h2v1h-2zM332 264h6v1h-6zM387 264h2v1h-2zM1181 264h1v1h-1zM1349 264h1v1h-1zM33 265h1v1h-1zM338 265h8v1h-8zM385 265h2v1h-2zM1182 265h1v1h-1zM1348 265h1v1h-1zM31 266h2v1h-2zM346 266h8v1h-8zM383 266h2v1h-2zM1182 266h1v1h-1zM1348 266h1v1h-1zM28 267h3v1h-3zM354 267h8v1h-8zM378 267h5v1h-5zM1182 267h1v1h-1zM1347 267h1v1h-1zM24 268h4v1h-4zM362 268h16v1h-16zM1183 268h1v1h-1zM1347 268h1v1h-1zM21 269h3v1h-3zM1183 269h1v1h-1zM1346 269h1v1h-1zM18 270h3v1h-3zM1184 270h1v1h-1zM1346 270h1v1h-1zM16 271h2v1h-2zM1184 271h1v1h-1zM1345 271h1v1h-1zM12 272h4v1h-4zM1184 272h1v1h-1zM1345 272h1v1h-1zM8 273h4v1h-4zM1185 273h1v1h-1zM1344 273h1v1h-1zM5 274h3v1h-3zM1185 274h1v1h-1zM1344 274h1v1h-1zM2 275h3v1h-3zM1186 275h1v1h-1zM1343 275h1v1h-1zM0 276h2v1h-2zM1186 276h1v1h-1zM1343 276h1v1h-1zM1186 277h1v1h-1zM1342 277h1v1h-1zM1187 278h1v1h-1zM1342 278h1v1h-1zM1187 279h1v1h-1zM1341 279h1v1h-1zM1188 280h1v1h-1zM1341 280h1v1h-1zM1188 281h1v1h-1zM1340 281h1v1h-1zM1188 282h1v1h-1zM1340 282h1v1h-1zM1189 283h1v1h-1zM1339 283h1v1h-1zM1189 284h1v1h-1zM1339 284h1v1h-1zM1190 285h1v1h-1zM1338 285h1v1h-1zM1190 286h1v1h-1zM1338 286h1v1h-1zM1191 287h1v1h-1zM1337 287h1v1h-1zM1191 288h1v1h-1zM1337 288h1v1h-1zM1192 289h1v1h-1zM1336 289h1v1h-1zM1192 290h1v1h-1zM1336 290h1v1h-1zM1193 291h1v1h-1zM1335 291h1v1h-1zM1193 292h1v1h-1zM1335 292h1v1h-1zM1194 293h1v1h-1zM1334 293h1v1h-1zM1194 294h1v1h-1zM1333 294h1v1h-1zM1195 295h1v1h-1zM1333 295h1v1h-1zM1195 296h1v1h-1zM1332 296h1v1h-1zM1196 297h1v1h-1zM1332 297h1v1h-1zM1196 298h1v1h-1zM1331 298h1v1h-1zM1197 299h1v1h-1zM1330 299h1v1h-1zM1197 300h1v1h-1zM1330 300h1v1h-1zM1198 301h1v1h-1zM1329 301h1v1h-1zM1198 302h1v1h-1zM1328 302h1v1h-1zM1199 303h1v1h-1zM1328 303h1v1h-1zM1199 304h1v1h-1zM1327 304h1v1h-1zM1200 305h1v1h-1zM1327 305h1v1h-1zM1201 306h1v1h-1zM1326 306h1v1h-1zM1202 307h1v1h-1zM1325 307h1v1h-1zM1202 308h1v1h-1zM1325 308h1v1h-1zM1203 309h1v1h-1zM1324 309h1v1h-1zM1204 310h1v1h-1zM1323 310h1v1h-1zM1205 311h1v1h-1zM1323 311h1v1h-1zM1205 312h1v1h-1zM1322 312h1v1h-1zM1206 313h1v1h-1zM1321 313h1v1h-1zM1207 314h1v1h-1zM1321 314h1v1h-1zM1208 315h1v1h-1zM1320 315h1v1h-1zM1208 316h1v1h-1zM1319 316h1v1h-1zM1209 317h1v1h-1zM1319 317h1v1h-1zM1210 318h1v1h-1zM1318 318h1v1h-1zM1211 319h1v1h-1zM1317 319h1v1h-1zM1212 320h1v1h-1zM1317 320h1v1h-1zM1212 321h1v1h-1zM1316 321h1v1h-1zM1213 322h1v1h-1zM1315 322h1v1h-1zM1214 323h1v1h-1zM1314 323h1v1h-1zM1215 324h1v1h-1zM1314 324h1v1h-1zM1216 325h1v1h-1zM1313 325h1v1h-1zM1217 326h1v1h-1zM1312 326h1v1h-1zM1218 327h1v1h-1zM1311 327h1v1h-1zM1219 328h1v1h-1zM1311 328h1v1h-1zM1220 329h1v1h-1zM1310 329h1v1h-1zM1221 330h1v1h-1zM1309 330h1v1h-1zM1222 331h1v1h-1zM1309 331h1v1h-1zM1223 332h1v1h-1zM1308 332h1v1h-1zM1224 333h1v1h-1zM1307 333h1v1h-1zM1225 334h1v1h-1zM1306 334h1v1h-1zM1226 335h2v1h-2zM1306 335h1v1h-1zM1228 336h1v1h-1zM1305 336h1v1h-1zM1229 337h1v1h-1zM1304 337h1v1h-1zM1230 338h1v1h-1zM1303 338h1v1h-1zM1231 339h1v1h-1zM1303 339h1v1h-1zM1232 340h1v1h-1zM1302 340h1v1h-1zM1233 341h1v1h-1zM1301 341h1v1h-1zM1234 342h2v1h-2zM1300 342h1v1h-1zM1236 343h1v1h-1zM1299 343h1v1h-1zM1237 344h1v1h-1zM1298 344h1v1h-1zM1238 345h1v1h-1zM1298 345h1v1h-1zM1239 346h1v1h-1zM1297 346h1v1h-1zM1240 347h1v1h-1zM1296 347h1v1h-1zM1241 348h1v1h-1zM1295 348h1v1h-1zM1242 349h1v1h-1zM1294 349h1v1h-1zM1243 350h1v1h-1zM1292 350h2v1h-2zM1244 351h1v1h-1zM1291 351h1v1h-1zM1245 352h1v1h-1zM1290 352h1v1h-1zM1246 353h1v1h-1zM1288 353h2v1h-2zM1247 354h1v1h-1zM1287 354h1v1h-1zM1248 355h1v1h-1zM1285 355h2v1h-2zM1249 356h1v1h-1zM1283 356h2v1h-2zM1250 357h2v1h-2zM1281 357h2v1h-2zM1252 358h1v1h-1zM1279 358h2v1h-2zM1253 359h1v1h-1zM1278 359h1v1h-1zM1254 360h2v1h-2zM1276 360h2v1h-2zM1256 361h2v1h-2zM1274 361h2v1h-2zM1258 362h3v1h-3zM1273 362h1v1h-1zM1261 363h5v1h-5zM1271 363h2v1h-2zM1266 364h5v1h-5zM550 154h1v1h-1zM548 155h2v1h-2zM551 155h1v1h-1zM547 156h1v1h-1zM552 156h1v1h-1zM546 157h1v1h-1zM553 157h1v1h-1zM544 158h2v1h-2zM554 158h2v1h-2zM543 159h1v1h-1zM556 159h1v1h-1zM542 160h1v1h-1zM557 160h1v1h-1zM542 161h1v1h-1zM558 161h1v1h-1zM542 162h1v1h-1zM559 162h1v1h-1zM541 163h1v1h-1zM560 163h1v1h-1zM541 164h1v1h-1zM561 164h1v1h-1zM541 165h1v1h-1zM562 165h1v1h-1zM541 166h1v1h-1zM563 166h1v1h-1zM540 167h1v1h-1zM564 167h1v1h-1zM540 168h1v1h-1zM565 168h1v1h-1zM540 169h1v1h-1zM566 169h1v1h-1zM540 170h1v1h-1zM567 170h2v1h-2zM539 171h1v1h-1zM569 171h2v1h-2zM539 172h1v1h-1zM571 172h2v1h-2zM539 173h1v1h-1zM573 173h3v1h-3zM676 173h4v1h-4zM539 174h1v1h-1zM576 174h4v1h-4zM672 174h4v1h-4zM680 174h4v1h-4zM708 174h3v1h-3zM538 175h1v1h-1zM580 175h6v1h-6zM668 175h4v1h-4zM684 175h4v1h-4zM704 175h4v1h-4zM711 175h1v1h-1zM538 176h1v1h-1zM586 176h6v1h-6zM664 176h4v1h-4zM688 176h2v1h-2zM700 176h4v1h-4zM712 176h1v1h-1zM538 177h1v1h-1zM592 177h4v1h-4zM618 177h46v1h-46zM690 177h3v1h-3zM696 177h4v1h-4zM713 177h1v1h-1zM538 178h1v1h-1zM596 178h6v1h-6zM610 178h8v1h-8zM693 178h3v1h-3zM714 178h2v1h-2zM538 179h1v1h-1zM602 179h8v1h-8zM716 179h1v1h-1zM537 180h1v1h-1zM717 180h1v1h-1zM537 181h1v1h-1zM718 181h1v1h-1zM537 182h1v1h-1zM719 182h1v1h-1zM537 183h1v1h-1zM720 183h1v1h-1zM536 184h1v1h-1zM721 184h1v1h-1zM536 185h1v1h-1zM722 185h1v1h-1zM536 186h1v1h-1zM723 186h1v1h-1zM536 187h1v1h-1zM724 187h1v1h-1zM535 188h1v1h-1zM725 188h1v1h-1zM535 189h1v1h-1zM726 189h1v1h-1zM535 190h1v1h-1zM727 190h2v1h-2zM535 191h1v1h-1zM729 191h2v1h-2zM534 192h1v1h-1zM731 192h2v1h-2zM534 193h1v1h-1zM733 193h2v1h-2zM534 194h1v1h-1zM735 194h2v1h-2zM534 195h1v1h-1zM737 195h1v1h-1zM534 196h1v1h-1zM738 196h2v1h-2zM533 197h1v1h-1zM740 197h2v1h-2zM533 198h1v1h-1zM742 198h1v1h-1zM533 199h1v1h-1zM743 199h2v1h-2zM533 200h1v1h-1zM745 200h2v1h-2zM532 201h1v1h-1zM747 201h2v1h-2zM532 202h1v1h-1zM749 202h2v1h-2zM532 203h1v1h-1zM751 203h2v1h-2zM532 204h1v1h-1zM753 204h2v1h-2zM837 204h3v1h-3zM531 205h1v1h-1zM755 205h2v1h-2zM834 205h3v1h-3zM840 205h4v1h-4zM531 206h1v1h-1zM757 206h2v1h-2zM832 206h2v1h-2zM844 206h3v1h-3zM531 207h1v1h-1zM759 207h2v1h-2zM829 207h3v1h-3zM847 207h2v1h-2zM1092 207h3v1h-3zM531 208h1v1h-1zM761 208h2v1h-2zM826 208h3v1h-3zM849 208h2v1h-2zM1034 208h38v1h-38zM1088 208h4v1h-4zM1095 208h1v1h-1zM531 209h1v1h-1zM763 209h2v1h-2zM824 209h2v1h-2zM851 209h2v1h-2zM1030 209h4v1h-4zM1072 209h4v1h-4zM1082 209h6v1h-6zM1096 209h2v1h-2zM530 210h1v1h-1zM765 210h2v1h-2zM818 210h6v1h-6zM853 210h2v1h-2zM1029 210h1v1h-1zM1076 210h6v1h-6zM1098 210h1v1h-1zM530 211h1v1h-1zM767 211h2v1h-2zM813 211h5v1h-5zM855 211h1v1h-1zM1028 211h1v1h-1zM1099 211h1v1h-1zM530 212h1v1h-1zM769 212h2v1h-2zM810 212h3v1h-3zM856 212h1v1h-1zM1028 212h1v1h-1zM1100 212h2v1h-2zM530 213h1v1h-1zM771 213h2v1h-2zM808 213h2v1h-2zM857 213h1v1h-1zM1027 213h1v1h-1zM1102 213h1v1h-1zM529 214h1v1h-1zM773 214h2v1h-2zM805 214h3v1h-3zM858 214h1v1h-1zM1026 214h1v1h-1zM1103 214h1v1h-1zM529 215h1v1h-1zM775 215h2v1h-2zM802 215h3v1h-3zM859 215h1v1h-1zM1025 215h1v1h-1zM1103 215h1v1h-1zM529 216h1v1h-1zM777 216h2v1h-2zM800 216h2v1h-2zM860 216h1v1h-1zM1024 216h1v1h-1zM1104 216h1v1h-1zM529 217h1v1h-1zM779 217h2v1h-2zM794 217h6v1h-6zM861 217h1v1h-1zM1024 217h1v1h-1zM1104 217h1v1h-1zM529 218h1v1h-1zM781 218h13v1h-13zM862 218h1v1h-1zM1023 218h1v1h-1zM1105 218h1v1h-1zM528 219h1v1h-1zM863 219h1v1h-1zM1022 219h1v1h-1zM1105 219h1v1h-1zM528 220h1v1h-1zM864 220h2v1h-2zM1021 220h1v1h-1zM1106 220h1v1h-1zM528 221h1v1h-1zM866 221h1v1h-1zM1021 221h1v1h-1zM1107 221h1v1h-1zM528 222h1v1h-1zM867 222h1v1h-1zM1020 222h1v1h-1zM1107 222h1v1h-1zM527 223h1v1h-1zM868 223h2v1h-2zM1019 223h1v1h-1zM1108 223h1v1h-1zM527 224h1v1h-1zM870 224h28v1h-28zM930 224h16v1h-16zM1019 224h1v1h-1zM1108 224h1v1h-1zM527 225h1v1h-1zM898 225h32v1h-32zM946 225h8v1h-8zM1018 225h1v1h-1zM1109 225h1v1h-1zM527 226h1v1h-1zM954 226h6v1h-6zM1017 226h1v1h-1zM1109 226h1v1h-1zM526 227h1v1h-1zM960 227h4v1h-4zM1017 227h1v1h-1zM1110 227h1v1h-1zM526 228h1v1h-1zM964 228h6v1h-6zM1016 228h1v1h-1zM1110 228h1v1h-1zM526 229h1v1h-1zM970 229h6v1h-6zM1015 229h1v1h-1zM1111 229h1v1h-1zM526 230h1v1h-1zM976 230h4v1h-4zM1015 230h1v1h-1zM1111 230h1v1h-1zM525 231h1v1h-1zM980 231h6v1h-6zM1002 231h13v1h-13zM1112 231h1v1h-1zM525 232h1v1h-1zM986 232h16v1h-16zM1112 232h1v1h-1zM525 233h1v1h-1zM1113 233h1v1h-1zM525 234h1v1h-1zM1113 234h1v1h-1zM524 235h1v1h-1zM1114 235h1v1h-1zM524 236h1v1h-1zM1114 236h1v1h-1zM524 237h1v1h-1zM1114 237h1v1h-1zM523 238h1v1h-1zM1115 238h1v1h-1zM523 239h1v1h-1zM1115 239h1v1h-1zM523 240h1v1h-1zM1116 240h1v1h-1zM523 241h1v1h-1zM1116 241h1v1h-1zM522 242h1v1h-1zM1117 242h1v1h-1zM522 243h1v1h-1zM1117 243h1v1h-1zM522 244h1v1h-1zM1118 244h1v1h-1zM521 245h1v1h-1zM1118 245h1v1h-1zM521 246h1v1h-1zM1118 246h1v1h-1zM521 247h1v1h-1zM1119 247h1v1h-1zM521 248h1v1h-1zM1119 248h1v1h-1zM520 249h1v1h-1zM1119 249h1v1h-1zM520 250h1v1h-1zM1120 250h1v1h-1zM520 251h1v1h-1zM1120 251h1v1h-1zM519 252h1v1h-1zM1121 252h1v1h-1zM519 253h1v1h-1zM1121 253h1v1h-1zM519 254h1v1h-1zM1121 254h1v1h-1zM519 255h1v1h-1zM1122 255h1v1h-1zM518 256h1v1h-1zM1122 256h1v1h-1zM518 257h1v1h-1zM1122 257h1v1h-1zM518 258h1v1h-1zM1123 258h1v1h-1zM517 259h1v1h-1zM1123 259h1v1h-1zM517 260h1v1h-1zM1123 260h1v1h-1zM516 261h1v1h-1zM1124 261h1v1h-1zM516 262h1v1h-1zM1124 262h1v1h-1zM516 263h1v1h-1zM1125 263h1v1h-1zM515 264h1v1h-1zM1125 264h1v1h-1zM515 265h1v1h-1zM1125 265h1v1h-1zM514 266h1v1h-1zM1126 266h1v1h-1zM514 267h1v1h-1zM1126 267h1v1h-1zM514 268h1v1h-1zM1126 268h1v1h-1zM513 269h1v1h-1zM1127 269h1v1h-1zM513 270h1v1h-1zM1127 270h1v1h-1zM512 271h1v1h-1zM1127 271h1v1h-1zM512 272h1v1h-1zM1127 272h1v1h-1zM512 273h1v1h-1zM1128 273h1v1h-1zM511 274h1v1h-1zM1128 274h1v1h-1zM511 275h1v1h-1zM1128 275h1v1h-1zM510 276h1v1h-1zM1128 276h1v1h-1zM510 277h1v1h-1zM1129 277h1v1h-1zM510 278h1v1h-1zM1129 278h1v1h-1zM509 279h1v1h-1zM1129 279h1v1h-1zM509 280h1v1h-1zM1130 280h1v1h-1zM508 281h1v1h-1zM1130 281h1v1h-1zM508 282h1v1h-1zM1130 282h1v1h-1zM507 283h1v1h-1zM1130 283h1v1h-1zM172 284h6v1h-6zM507 284h1v1h-1zM1131 284h1v1h-1zM168 285h4v1h-4zM178 285h6v1h-6zM202 285h14v1h-14zM506 285h1v1h-1zM1131 285h1v1h-1zM166 286h2v1h-2zM184 286h4v1h-4zM194 286h8v1h-8zM216 286h4v1h-4zM506 286h1v1h-1zM1131 286h1v1h-1zM164 287h2v1h-2zM188 287h6v1h-6zM220 287h4v1h-4zM505 287h1v1h-1zM1132 287h1v1h-1zM162 288h2v1h-2zM224 288h4v1h-4zM505 288h1v1h-1zM1132 288h1v1h-1zM122 289h6v1h-6zM161 289h1v1h-1zM228 289h4v1h-4zM504 289h1v1h-1zM1132 289h1v1h-1zM118 290h4v1h-4zM128 290h4v1h-4zM159 290h2v1h-2zM232 290h4v1h-4zM504 290h1v1h-1zM1132 290h1v1h-1zM116 291h2v1h-2zM132 291h4v1h-4zM158 291h1v1h-1zM236 291h4v1h-4zM503 291h1v1h-1zM1133 291h1v1h-1zM114 292h2v1h-2zM136 292h4v1h-4zM156 292h2v1h-2zM240 292h2v1h-2zM290 292h6v1h-6zM503 292h1v1h-1zM1133 292h1v1h-1zM113 293h1v1h-1zM140 293h4v1h-4zM154 293h2v1h-2zM242 293h3v1h-3zM258 293h32v1h-32zM296 293h2v1h-2zM502 293h1v1h-1zM1133 293h1v1h-1zM111 294h2v1h-2zM144 294h2v1h-2zM153 294h1v1h-1zM245 294h13v1h-13zM298 294h3v1h-3zM502 294h1v1h-1zM1133 294h1v1h-1zM110 295h1v1h-1zM146 295h3v1h-3zM151 295h2v1h-2zM301 295h3v1h-3zM370 295h8v1h-8zM502 295h1v1h-1zM1134 295h1v1h-1zM108 296h2v1h-2zM149 296h2v1h-2zM304 296h4v1h-4zM362 296h8v1h-8zM378 296h5v1h-5zM501 296h1v1h-1zM1134 296h1v1h-1zM106 297h2v1h-2zM308 297h4v1h-4zM354 297h8v1h-8zM383 297h1v1h-1zM501 297h1v1h-1zM1134 297h1v1h-1zM105 298h1v1h-1zM312 298h2v1h-2zM346 298h8v1h-8zM383 298h1v1h-1zM500 298h1v1h-1zM1135 298h1v1h-1zM103 299h2v1h-2zM314 299h3v1h-3zM338 299h8v1h-8zM384 299h1v1h-1zM500 299h1v1h-1zM1135 299h1v1h-1zM102 300h1v1h-1zM317 300h21v1h-21zM384 300h1v1h-1zM499 300h1v1h-1zM1135 300h1v1h-1zM100 301h2v1h-2zM385 301h1v1h-1zM499 301h1v1h-1zM1135 301h1v1h-1zM99 302h1v1h-1zM386 302h1v1h-1zM498 302h1v1h-1zM1136 302h1v1h-1zM98 303h1v1h-1zM386 303h1v1h-1zM498 303h1v1h-1zM1136 303h1v1h-1zM96 304h2v1h-2zM387 304h1v1h-1zM497 304h1v1h-1zM1136 304h1v1h-1zM95 305h1v1h-1zM388 305h1v1h-1zM497 305h1v1h-1zM1137 305h1v1h-1zM94 306h1v1h-1zM388 306h1v1h-1zM496 306h1v1h-1zM1137 306h1v1h-1zM93 307h1v1h-1zM389 307h1v1h-1zM496 307h1v1h-1zM1137 307h1v1h-1zM92 308h1v1h-1zM389 308h1v1h-1zM495 308h1v1h-1zM1138 308h1v1h-1zM90 309h2v1h-2zM390 309h1v1h-1zM495 309h1v1h-1zM1138 309h1v1h-1zM1414 309h1v1h-1zM89 310h1v1h-1zM390 310h1v1h-1zM494 310h1v1h-1zM1138 310h1v1h-1zM1412 310h2v1h-2zM20 311h3v1h-3zM88 311h1v1h-1zM391 311h1v1h-1zM494 311h1v1h-1zM1138 311h1v1h-1zM1411 311h1v1h-1zM16 312h4v1h-4zM23 312h2v1h-2zM87 312h1v1h-1zM391 312h1v1h-1zM493 312h1v1h-1zM1139 312h1v1h-1zM1410 312h1v1h-1zM12 313h4v1h-4zM25 313h2v1h-2zM86 313h1v1h-1zM391 313h1v1h-1zM493 313h1v1h-1zM1139 313h1v1h-1zM1408 313h2v1h-2zM8 314h4v1h-4zM27 314h2v1h-2zM85 314h1v1h-1zM391 314h1v1h-1zM492 314h1v1h-1zM1139 314h1v1h-1zM1407 314h1v1h-1zM5 315h3v1h-3zM29 315h2v1h-2zM84 315h1v1h-1zM392 315h1v1h-1zM492 315h1v1h-1zM1140 315h1v1h-1zM1406 315h1v1h-1zM3 316h2v1h-2zM31 316h2v1h-2zM82 316h2v1h-2zM392 316h1v1h-1zM491 316h1v1h-1zM1140 316h1v1h-1zM1405 316h1v1h-1zM1 317h2v1h-2zM33 317h1v1h-1zM81 317h1v1h-1zM392 317h1v1h-1zM491 317h1v1h-1zM1140 317h1v1h-1zM1404 317h1v1h-1zM0 318h1v1h-1zM34 318h2v1h-2zM80 318h1v1h-1zM392 318h1v1h-1zM490 318h1v1h-1zM1141 318h1v1h-1zM1402 318h2v1h-2zM36 319h2v1h-2zM79 319h1v1h-1zM393 319h1v1h-1zM490 319h1v1h-1zM1141 319h1v1h-1zM1401 319h1v1h-1zM38 320h1v1h-1zM78 320h1v1h-1zM393 320h1v1h-1zM489 320h1v1h-1zM1141 320h1v1h-1zM1400 320h1v1h-1zM39 321h2v1h-2zM76 321h2v1h-2zM393 321h1v1h-1zM489 321h1v1h-1zM1141 321h1v1h-1zM1399 321h1v1h-1zM41 322h1v1h-1zM75 322h1v1h-1zM393 322h1v1h-1zM488 322h1v1h-1zM1142 322h1v1h-1zM1398 322h1v1h-1zM42 323h2v1h-2zM74 323h1v1h-1zM394 323h1v1h-1zM488 323h1v1h-1zM1142 323h1v1h-1zM1396 323h2v1h-2zM44 324h2v1h-2zM72 324h2v1h-2zM394 324h1v1h-1zM487 324h1v1h-1zM1142 324h1v1h-1zM1395 324h1v1h-1zM46 325h1v1h-1zM71 325h1v1h-1zM394 325h1v1h-1zM487 325h1v1h-1zM1143 325h1v1h-1zM1394 325h1v1h-1zM47 326h2v1h-2zM69 326h2v1h-2zM394 326h1v1h-1zM486 326h1v1h-1zM1143 326h1v1h-1zM1392 326h2v1h-2zM49 327h2v1h-2zM67 327h2v1h-2zM395 327h1v1h-1zM486 327h1v1h-1zM1143 327h1v1h-1zM1391 327h1v1h-1zM51 328h2v1h-2zM65 328h2v1h-2zM395 328h1v1h-1zM485 328h1v1h-1zM1143 328h1v1h-1zM1390 328h1v1h-1zM53 329h5v1h-5zM63 329h2v1h-2zM395 329h1v1h-1zM485 329h1v1h-1zM1144 329h1v1h-1zM1388 329h2v1h-2zM58 330h5v1h-5zM395 330h1v1h-1zM484 330h1v1h-1zM1144 330h1v1h-1zM1387 330h1v1h-1zM396 331h1v1h-1zM484 331h1v1h-1zM1144 331h1v1h-1zM1386 331h1v1h-1zM396 332h1v1h-1zM483 332h1v1h-1zM1145 332h1v1h-1zM1384 332h2v1h-2zM396 333h1v1h-1zM483 333h1v1h-1zM1145 333h1v1h-1zM1383 333h1v1h-1zM396 334h1v1h-1zM482 334h1v1h-1zM1145 334h1v1h-1zM1382 334h1v1h-1zM397 335h1v1h-1zM482 335h1v1h-1zM1146 335h1v1h-1zM1381 335h1v1h-1zM397 336h1v1h-1zM481 336h1v1h-1zM1146 336h1v1h-1zM1380 336h1v1h-1zM397 337h1v1h-1zM481 337h1v1h-1zM1146 337h1v1h-1zM1379 337h1v1h-1zM397 338h1v1h-1zM480 338h1v1h-1zM1146 338h1v1h-1zM1378 338h1v1h-1zM398 339h1v1h-1zM480 339h1v1h-1zM1147 339h1v1h-1zM1378 339h1v1h-1zM398 340h1v1h-1zM479 340h1v1h-1zM1147 340h1v1h-1zM1377 340h1v1h-1zM398 341h1v1h-1zM479 341h1v1h-1zM1147 341h1v1h-1zM1376 341h1v1h-1zM398 342h1v1h-1zM478 342h1v1h-1zM1148 342h1v1h-1zM1375 342h1v1h-1zM399 343h1v1h-1zM478 343h1v1h-1zM1148 343h1v1h-1zM1374 343h1v1h-1zM399 344h1v1h-1zM478 344h1v1h-1zM1148 344h1v1h-1zM1373 344h1v1h-1zM400 345h1v1h-1zM477 345h1v1h-1zM1149 345h1v1h-1zM1373 345h1v1h-1zM400 346h1v1h-1zM477 346h1v1h-1zM1149 346h1v1h-1zM1372 346h1v1h-1zM400 347h1v1h-1zM476 347h1v1h-1zM1149 347h1v1h-1zM1372 347h1v1h-1zM401 348h1v1h-1zM476 348h1v1h-1zM1149 348h1v1h-1zM1371 348h1v1h-1zM401 349h1v1h-1zM475 349h1v1h-1zM1150 349h1v1h-1zM1371 349h1v1h-1zM401 350h1v1h-1zM475 350h1v1h-1zM1150 350h1v1h-1zM1370 350h1v1h-1zM402 351h1v1h-1zM474 351h1v1h-1zM1150 351h1v1h-1zM1369 351h1v1h-1zM402 352h1v1h-1zM474 352h1v1h-1zM1151 352h1v1h-1zM1369 352h1v1h-1zM403 353h1v1h-1zM473 353h1v1h-1zM1151 353h1v1h-1zM1368 353h1v1h-1zM403 354h1v1h-1zM473 354h1v1h-1zM1151 354h1v1h-1zM1368 354h1v1h-1zM403 355h1v1h-1zM472 355h1v1h-1zM1152 355h1v1h-1zM1367 355h1v1h-1zM404 356h1v1h-1zM472 356h1v1h-1zM1152 356h1v1h-1zM1367 356h1v1h-1zM404 357h1v1h-1zM471 357h1v1h-1zM1152 357h1v1h-1zM1366 357h1v1h-1zM404 358h1v1h-1zM471 358h1v1h-1zM1152 358h1v1h-1zM1366 358h1v1h-1zM405 359h1v1h-1zM470 359h1v1h-1zM1153 359h1v1h-1zM1365 359h1v1h-1zM405 360h1v1h-1zM470 360h1v1h-1zM1153 360h1v1h-1zM1365 360h1v1h-1zM406 361h1v1h-1zM469 361h1v1h-1zM1153 361h1v1h-1zM1365 361h1v1h-1zM406 362h1v1h-1zM469 362h1v1h-1zM1154 362h1v1h-1zM1364 362h1v1h-1zM407 363h1v1h-1zM468 363h1v1h-1zM1154 363h1v1h-1zM1364 363h1v1h-1zM407 364h1v1h-1zM468 364h1v1h-1zM1154 364h1v1h-1zM1364 364h1v1h-1zM408 365h1v1h-1zM467 365h1v1h-1zM1155 365h1v1h-1zM1364 365h1v1h-1zM408 366h1v1h-1zM466 366h1v1h-1zM1155 366h1v1h-1zM1363 366h1v1h-1zM409 367h1v1h-1zM466 367h1v1h-1zM1155 367h1v1h-1zM1363 367h1v1h-1zM410 368h1v1h-1zM465 368h1v1h-1zM1156 368h1v1h-1zM1363 368h1v1h-1zM410 369h1v1h-1zM464 369h1v1h-1zM1156 369h1v1h-1zM1362 369h1v1h-1zM411 370h1v1h-1zM464 370h1v1h-1zM1156 370h1v1h-1zM1362 370h1v1h-1zM412 371h1v1h-1zM463 371h1v1h-1zM1156 371h1v1h-1zM1362 371h1v1h-1zM412 372h1v1h-1zM463 372h1v1h-1zM1157 372h1v1h-1zM1361 372h1v1h-1zM413 373h1v1h-1zM462 373h1v1h-1zM1157 373h1v1h-1zM1361 373h1v1h-1zM413 374h1v1h-1zM461 374h1v1h-1zM1157 374h1v1h-1zM1361 374h1v1h-1zM414 375h1v1h-1zM460 375h1v1h-1zM1158 375h1v1h-1zM1360 375h1v1h-1zM415 376h1v1h-1zM459 376h1v1h-1zM1158 376h1v1h-1zM1360 376h1v1h-1zM416 377h1v1h-1zM458 377h1v1h-1zM1158 377h1v1h-1zM1360 377h1v1h-1zM417 378h1v1h-1zM457 378h1v1h-1zM1159 378h1v1h-1zM1360 378h1v1h-1zM418 379h1v1h-1zM456 379h1v1h-1zM1159 379h1v1h-1zM1359 379h1v1h-1zM419 380h1v1h-1zM455 380h1v1h-1zM1159 380h1v1h-1zM1359 380h1v1h-1zM420 381h1v1h-1zM453 381h2v1h-2zM1159 381h1v1h-1zM1359 381h1v1h-1zM421 382h1v1h-1zM450 382h3v1h-3zM1160 382h1v1h-1zM1358 382h1v1h-1zM422 383h2v1h-2zM448 383h2v1h-2zM1160 383h1v1h-1zM1358 383h1v1h-1zM424 384h2v1h-2zM444 384h4v1h-4zM1160 384h1v1h-1zM1358 384h1v1h-1zM426 385h3v1h-3zM440 385h4v1h-4zM1160 385h1v1h-1zM1358 385h1v1h-1zM429 386h11v1h-11zM1161 386h1v1h-1zM1357 386h1v1h-1zM1161 387h1v1h-1zM1357 387h1v1h-1zM1161 388h1v1h-1zM1357 388h1v1h-1zM1161 389h1v1h-1zM1357 389h1v1h-1zM1162 390h1v1h-1zM1357 390h1v1h-1zM1162 391h1v1h-1zM1357 391h1v1h-1zM1162 392h1v1h-1zM1356 392h1v1h-1zM1163 393h1v1h-1zM1356 393h1v1h-1zM1163 394h1v1h-1zM1356 394h1v1h-1zM1163 395h1v1h-1zM1356 395h1v1h-1zM1163 396h1v1h-1zM1356 396h1v1h-1zM1164 397h1v1h-1zM1356 397h1v1h-1zM1164 398h1v1h-1zM1355 398h1v1h-1zM1164 399h1v1h-1zM1355 399h1v1h-1zM1164 400h1v1h-1zM1355 400h1v1h-1zM1165 401h1v1h-1zM1355 401h1v1h-1zM1165 402h1v1h-1zM1355 402h1v1h-1zM1165 403h1v1h-1zM1354 403h1v1h-1zM1165 404h1v1h-1zM1354 404h1v1h-1zM1166 405h1v1h-1zM1354 405h1v1h-1zM1166 406h1v1h-1zM1354 406h1v1h-1zM1166 407h1v1h-1zM1354 407h1v1h-1zM1166 408h1v1h-1zM1354 408h1v1h-1zM1167 409h1v1h-1zM1353 409h1v1h-1zM1167 410h1v1h-1zM1353 410h1v1h-1zM1167 411h1v1h-1zM1353 411h1v1h-1zM1167 412h1v1h-1zM1353 412h1v1h-1zM1168 413h1v1h-1zM1353 413h1v1h-1zM1168 414h1v1h-1zM1352 414h1v1h-1zM1168 415h1v1h-1zM1352 415h1v1h-1zM1168 416h1v1h-1zM1352 416h1v1h-1zM1168 417h1v1h-1zM1352 417h1v1h-1zM1169 418h1v1h-1zM1352 418h1v1h-1zM1169 419h1v1h-1zM1352 419h1v1h-1zM1169 420h1v1h-1zM1351 420h1v1h-1zM1169 421h1v1h-1zM1351 421h1v1h-1zM1169 422h1v1h-1zM1351 422h1v1h-1zM1170 423h1v1h-1zM1351 423h1v1h-1zM1170 424h1v1h-1zM1351 424h1v1h-1zM1170 425h1v1h-1zM1351 425h1v1h-1zM1170 426h1v1h-1zM1350 426h1v1h-1zM1171 427h1v1h-1zM1350 427h1v1h-1zM1171 428h1v1h-1zM1350 428h1v1h-1zM1171 429h1v1h-1zM1350 429h1v1h-1zM1171 430h1v1h-1zM1350 430h1v1h-1zM1171 431h1v1h-1zM1350 431h1v1h-1zM1172 432h1v1h-1zM1349 432h1v1h-1zM1172 433h1v1h-1zM1349 433h1v1h-1zM1172 434h1v1h-1zM1349 434h1v1h-1zM1172 435h1v1h-1zM1349 435h1v1h-1zM1172 436h1v1h-1zM1349 436h1v1h-1zM1173 437h1v1h-1zM1349 437h1v1h-1zM1173 438h1v1h-1zM1348 438h1v1h-1zM1173 439h1v1h-1zM1348 439h1v1h-1zM1173 440h1v1h-1zM1348 440h1v1h-1zM1174 441h1v1h-1zM1348 441h1v1h-1zM1174 442h1v1h-1zM1348 442h1v1h-1zM1174 443h1v1h-1zM1348 443h1v1h-1zM1174 444h1v1h-1zM1347 444h1v1h-1zM1174 445h1v1h-1zM1347 445h1v1h-1zM1174 446h1v1h-1zM1347 446h1v1h-1zM1175 447h1v1h-1zM1347 447h1v1h-1zM1175 448h1v1h-1zM1347 448h1v1h-1zM1175 449h1v1h-1zM1347 449h1v1h-1zM1175 450h1v1h-1zM1346 450h1v1h-1zM1175 451h1v1h-1zM1346 451h1v1h-1zM1175 452h1v1h-1zM1346 452h1v1h-1zM1175 453h1v1h-1zM1346 453h1v1h-1zM1176 454h1v1h-1zM1346 454h1v1h-1zM1176 455h1v1h-1zM1346 455h1v1h-1zM1176 456h1v1h-1zM1346 456h1v1h-1zM1176 457h1v1h-1zM1345 457h1v1h-1zM1176 458h1v1h-1zM1345 458h1v1h-1zM1176 459h1v1h-1zM1345 459h1v1h-1zM1176 460h1v1h-1zM1345 460h1v1h-1zM1177 461h1v1h-1zM1345 461h1v1h-1zM1177 462h1v1h-1zM1345 462h1v1h-1zM1177 463h1v1h-1zM1344 463h1v1h-1zM1177 464h1v1h-1zM1344 464h1v1h-1zM1177 465h1v1h-1zM1344 465h1v1h-1zM1177 466h1v1h-1zM1344 466h1v1h-1zM1177 467h1v1h-1zM1344 467h1v1h-1zM1178 468h1v1h-1zM1344 468h1v1h-1zM1178 469h1v1h-1zM1343 469h1v1h-1zM1178 470h1v1h-1zM1343 470h1v1h-1zM1178 471h1v1h-1zM1343 471h1v1h-1zM1178 472h1v1h-1zM1343 472h1v1h-1zM1178 473h1v1h-1zM1343 473h1v1h-1zM1178 474h1v1h-1zM1343 474h1v1h-1zM1178 475h1v1h-1zM1342 475h1v1h-1zM1179 476h1v1h-1zM1342 476h1v1h-1zM1179 477h1v1h-1zM1342 477h1v1h-1zM1179 478h1v1h-1zM1342 478h1v1h-1zM1179 479h1v1h-1zM1342 479h1v1h-1zM1179 480h1v1h-1zM1341 480h1v1h-1zM1179 481h1v1h-1zM1341 481h1v1h-1zM1179 482h1v1h-1zM1341 482h1v1h-1zM1180 483h1v1h-1zM1341 483h1v1h-1zM1180 484h1v1h-1zM1340 484h1v1h-1zM1180 485h1v1h-1zM1340 485h1v1h-1zM1180 486h1v1h-1zM1340 486h1v1h-1zM1180 487h1v1h-1zM1339 487h1v1h-1zM1180 488h1v1h-1zM1339 488h1v1h-1zM1180 489h1v1h-1zM1339 489h1v1h-1zM1181 490h1v1h-1zM1338 490h1v1h-1zM1181 491h1v1h-1zM1338 491h1v1h-1zM1181 492h1v1h-1zM1338 492h1v1h-1zM1181 493h1v1h-1zM1338 493h1v1h-1zM1181 494h1v1h-1zM1337 494h1v1h-1zM1181 495h1v1h-1zM1337 495h1v1h-1zM1181 496h1v1h-1zM1337 496h1v1h-1zM1182 497h1v1h-1zM1336 497h1v1h-1zM1182 498h1v1h-1zM1336 498h1v1h-1zM1182 499h1v1h-1zM1336 499h1v1h-1zM1182 500h1v1h-1zM1335 500h1v1h-1zM1182 501h1v1h-1zM1335 501h1v1h-1zM1182 502h1v1h-1zM1335 502h1v1h-1zM1183 503h1v1h-1zM1335 503h1v1h-1zM1183 504h1v1h-1zM1334 504h1v1h-1zM1183 505h1v1h-1zM1334 505h1v1h-1zM1183 506h1v1h-1zM1334 506h1v1h-1zM1184 507h1v1h-1zM1333 507h1v1h-1zM1184 508h1v1h-1zM1333 508h1v1h-1zM1184 509h1v1h-1zM1332 509h1v1h-1zM1184 510h1v1h-1zM1332 510h1v1h-1zM1184 511h1v1h-1zM1332 511h1v1h-1zM1185 512h1v1h-1zM1331 512h1v1h-1zM1185 513h1v1h-1zM1331 513h1v1h-1zM1185 514h1v1h-1zM1331 514h1v1h-1zM1185 515h1v1h-1zM1330 515h1v1h-1zM1186 516h1v1h-1zM1330 516h1v1h-1zM1186 517h1v1h-1zM1329 517h1v1h-1zM1186 518h1v1h-1zM1329 518h1v1h-1zM1186 519h1v1h-1zM1329 519h1v1h-1zM1186 520h1v1h-1zM1328 520h1v1h-1zM1187 521h1v1h-1zM1266 521h5v1h-5zM1328 521h1v1h-1zM1187 522h1v1h-1zM1262 522h4v1h-4zM1271 522h2v1h-2zM1328 522h1v1h-1zM1187 523h1v1h-1zM1260 523h2v1h-2zM1273 523h2v1h-2zM1327 523h1v1h-1zM1187 524h1v1h-1zM1258 524h2v1h-2zM1275 524h2v1h-2zM1327 524h1v1h-1zM1188 525h1v1h-1zM1257 525h1v1h-1zM1277 525h2v1h-2zM1326 525h1v1h-1zM1188 526h1v1h-1zM1255 526h2v1h-2zM1279 526h2v1h-2zM1326 526h1v1h-1zM1188 527h1v1h-1zM1254 527h1v1h-1zM1281 527h2v1h-2zM1326 527h1v1h-1zM1188 528h1v1h-1zM1253 528h1v1h-1zM1283 528h2v1h-2zM1325 528h1v1h-1zM1188 529h1v1h-1zM1253 529h1v1h-1zM1285 529h2v1h-2zM1325 529h1v1h-1zM1189 530h1v1h-1zM1252 530h1v1h-1zM1287 530h1v1h-1zM1324 530h1v1h-1zM1189 531h1v1h-1zM1251 531h1v1h-1zM1287 531h1v1h-1zM1324 531h1v1h-1zM1189 532h1v1h-1zM1250 532h1v1h-1zM1288 532h1v1h-1zM1323 532h1v1h-1zM1189 533h1v1h-1zM1250 533h1v1h-1zM1289 533h1v1h-1zM1323 533h1v1h-1zM1190 534h1v1h-1zM1249 534h1v1h-1zM1290 534h1v1h-1zM1322 534h1v1h-1zM1190 535h1v1h-1zM1248 535h1v1h-1zM1290 535h1v1h-1zM1322 535h1v1h-1zM1190 536h1v1h-1zM1247 536h1v1h-1zM1291 536h1v1h-1zM1321 536h1v1h-1zM1190 537h1v1h-1zM1247 537h1v1h-1zM1292 537h1v1h-1zM1321 537h1v1h-1zM1191 538h1v1h-1zM1246 538h1v1h-1zM1293 538h1v1h-1zM1320 538h1v1h-1zM1191 539h1v1h-1zM1245 539h1v1h-1zM1293 539h1v1h-1zM1320 539h1v1h-1zM1191 540h1v1h-1zM1244 540h1v1h-1zM1294 540h1v1h-1zM1319 540h1v1h-1zM1192 541h1v1h-1zM1244 541h1v1h-1zM1295 541h2v1h-2zM1319 541h1v1h-1zM1192 542h1v1h-1zM1243 542h1v1h-1zM1297 542h1v1h-1zM1316 542h3v1h-3zM1192 543h1v1h-1zM1242 543h1v1h-1zM1298 543h2v1h-2zM1312 543h4v1h-4zM1193 544h1v1h-1zM1241 544h1v1h-1zM1300 544h2v1h-2zM1306 544h6v1h-6zM1193 545h1v1h-1zM1240 545h1v1h-1zM1302 545h4v1h-4zM1193 546h1v1h-1zM1240 546h1v1h-1zM1194 547h1v1h-1zM1239 547h1v1h-1zM1194 548h1v1h-1zM1237 548h2v1h-2zM1194 549h1v1h-1zM1235 549h2v1h-2zM1195 550h1v1h-1zM1233 550h2v1h-2zM1195 551h1v1h-1zM1231 551h2v1h-2zM1195 552h1v1h-1zM1230 552h1v1h-1zM1196 553h1v1h-1zM1229 553h1v1h-1zM1196 554h1v1h-1zM1228 554h1v1h-1zM1196 555h1v1h-1zM1226 555h2v1h-2zM1197 556h1v1h-1zM1225 556h1v1h-1zM1197 557h1v1h-1zM1224 557h1v1h-1zM1197 558h1v1h-1zM1223 558h1v1h-1zM1198 559h1v1h-1zM1222 559h1v1h-1zM1198 560h1v1h-1zM1220 560h2v1h-2zM1199 561h1v1h-1zM1219 561h1v1h-1zM1200 562h2v1h-2zM1218 562h1v1h-1zM1202 563h1v1h-1zM1216 563h2v1h-2zM1203 564h1v1h-1zM1215 564h1v1h-1zM1204 565h2v1h-2zM1210 565h5v1h-5zM1206 566h4v1h-4z" fill="#3cb371"/>
<rect x="-2" y="266" width="1" height="14" fill="#000"/>
<rect x="-4" y="270" width="5" height="5" fill="#000"/>
<rect x="6" y="261" width="1" height="32" fill="#000"/>
<rect x="4" y="274" width="5" height="11" fill="#000"/>
<rect x="14" y="244" width="1" height="58" fill="#000"/>
<rect x="12" y="249" width="5" height="36" fill="#000"/>
<rect x="13" y="250" width="3" height="34" fill="#fff"/>
<rect x="22" y="226" width="1" height="25" fill="#000"/>
<rect x="20" y="231" width="5" height="19" fill="#000"/>
<rect x="21" y="232" width="3" height="17" fill="#fff"/>
<rect x="30" y="213" width="1" height="39" fill="#000"/>
<rect x="28" y="213" width="5" height="19" fill="#000"/>
<rect x="29" y="214" width="3" height="17" fill="#fff"/>
<rect x="38" y="183" width="1" height="36" fill="#000"/>
<rect x="36" y="189" width="5" height="24" fill="#000"/>
<rect x="37" y="190" width="3" height="22" fill="#fff"/>
<rect x="46" y="184" width="1" height="27" fill="#000"/>
<rect x="44" y="189" width="5" height="5" fill="#000"/>
<rect x="54" y="183" width="1" height="35" fill="#000"/>
<rect x="52" y="193" width="5" height="1" fill="#000"/>
<rect x="62" y="188" width="1" height="31" fill="#000"/>
<rect x="60" y="193" width="5" height="14" fill="#000"/>
<rect x="70" y="202" width="1" height="23" fill="#000"/>
<rect x="68" y="206" width="5" height="11" fill="#000"/>
<rect x="78" y="211" width="1" height="23" fill="#000"/>
<rect x="76" y="216" width="5" height="9" fill="#000"/>
<rect x="86" y="191" width="1" height="35" fill="#000"/>
<rect x="84" y="214" width="5" height="10" fill="#000"/>
<rect x="85" y="215" width="3" height="8" fill="#fff"/>
<rect x="94" y="185" width="1" height="33" fill="#000"/>
<rect x="92" y="204" width="5" height="11" fill="#000"/>
<rect x="93" y="205" width="3" height="9" fill="#fff"/>
<rect x="102" y="188" width="1" height="31" fill="#000"/>
<rect x="100" y="205" width="5" height="10" fill="#000"/>
<rect x="110" y="201" width="1" height="122" fill="#000"/>
<rect x="108" y="214" width="5" height="50" fill="#000"/>
<rect x="118" y="239" width="1" height="33" fill="#000"/>
<rect x="116" y="252" width="5" height="12" fill="#000"/>
<rect x="117" y="253" width="3" height="10" fill="#fff"/>
<rect x="126" y="245" width="1" height="23" fill="#000"/>
<rect x="124" y="252" width="5" height="7" fill="#000"/>
<rect x="134" y="246" width="1" height="33" fill="#000"/>
<rect x="132" y="257" width="5" height="12" fill="#000"/>
<rect x="142" y="253" width="1" height="23" fill="#000"/>
<rect x="140" y="264" width="5" height="5" fill="#000"/>
<rect x="141" y="265" width="3" height="3" fill="#fff"/>
<rect x="150" y="262" width="1" height="51" fill="#000"/>
<rect x="148" y="264" width="5" height="23" fill="#000"/>
<rect x="158" y="242" width="1" height="49" fill="#000"/>
<rect x="156" y="243" width="5" height="43" fill="#000"/>
<rect x="157" y="244" width="3" height="41" fill="#fff"/>
<rect x="166" y="228" width="1" height="24" fill="#000"/>
<rect x="164" y="235" width="5" height="9" fill="#000"/>
<rect x="165" y="236" width="3" height="7" fill="#fff"/>
<rect x="174" y="224" width="1" height="17" fill="#000"/>
<rect x="172" y="228" width="5" height="8" fill="#000"/>
<rect x="173" y="229" width="3" height="6" fill="#fff"/>
<rect x="182" y="220" width="1" height="28" fill="#000"/>
<rect x="180" y="228" width="5" height="9" fill="#000"/>
<rect x="190" y="232" width="1" height="40" fill="#000"/>
<rect x="188" y="236" width="5" height="21" fill="#000"/>
<rect x="198" y="200" width="1" height="65" fill="#000"/>
<rect x="196" y="228" width="5" height="30" fill="#000"/>
<rect x="197" y="229" width="3" height="28" fill="#fff"/>
<rect x="206" y="219" width="1" height="38" fill="#000"/>
<rect x="204" y="227" width="5" height="24" fill="#000"/>
<rect x="214" y="245" width="1" height="14" fill="#000"/>
<rect x="212" y="250" width="5" height="4" fill="#000"/>
<rect x="222" y="262" width="1" height="11" fill="#000"/>
<rect x="220" y="265" width="5" height="8" fill="#000"/>
<rect x="230" y="255" width="1" height="25" fill="#000"/>
<rect x="228" y="271" width="5" height="4" fill="#000"/>
<rect x="238" y="258" width="1" height="37" fill="#000"/>
<rect x="236" y="263" width="5" height="12" fill="#000"/>
<rect x="237" y="264" width="3" height="10" fill="#fff"/>
<rect x="246" y="258" width="1" height="40" fill="#000"/>
<rect x="244" y="263" width="5" height="27" fill="#000"/>
<rect x="254" y="261" width="1" height="31" fill="#000"/>
<rect x="252" y="280" width="5" height="9" fill="#000"/>
<rect x="253" y="281" width="3" height="7" fill="#fff"/>
<rect x="262" y="269" width="1" height="12" fill="#000"/>
<rect x="260" y="271" width="5" height="10" fill="#000"/>
<rect x="261" y="272" width="3" height="8" fill="#fff"/>
<rect x="270" y="259" width="1" height="34" fill="#000"/>
<rect x="268" y="263" width="5" height="10" fill="#000"/>
<rect x="269" y="264" width="3" height="8" fill="#fff"/>
<rect x="278" y="252" width="1" height="24" fill="#000"/>
<rect x="276" y="258" width="5" height="8" fill="#000"/>
<rect x="277" y="259" width="3" height="6" fill="#fff"/>
<rect x="286" y="237" width="1" height="23" fill="#000"/>
<rect x="284" y="246" width="5" height="13" fill="#000"/>
<rect x="285" y="247" width="3" height="11" fill="#fff"/>
<rect x="294" y="224" width="1" height="36" fill="#000"/>
<rect x="292" y="248" width="5" height="4" fill="#000"/>
<rect x="302" y="244" width="1" height="48" fill="#000"/>
<rect x="300" y="251" width="5" height="36" fill="#000"/>
<rect x="310" y="268" width="1" height="29" fill="#000"/>
<rect x="308" y="286" width="5" height="8" fill="#000"/>
<rect x="318" y="277" width="1" height="25" fill="#000"/>
<rect x="316" y="287" width="5" height="7" fill="#000"/>
<rect x="317" y="288" width="3" height="5" fill="#fff"/>
<rect x="326" y="262" width="1" height="36" fill="#000"/>
<rect x="324" y="263" width="5" height="24" fill="#000"/>
<rect x="325" y="264" width="3" height="22" fill="#fff"/>
<rect x="334" y="252" width="1" height="36" fill="#000"/>
<rect x="332" y="264" width="5" height="18" fill="#000"/>
<rect x="342" y="235" width="1" height="49" fill="#000"/>
<rect x="340" y="257" width="5" height="24" fill="#000"/>
<rect x="341" y="258" width="3" height="22" fill="#fff"/>
<rect x="350" y="244" width="1" height="41" fill="#000"/>
<rect x="348" y="256" width="5" height="2" fill="#000"/>
<rect x="358" y="252" width="1" height="21" fill="#000"/>
<rect x="356" y="256" width="5" height="2" fill="#000"/>
<rect x="366" y="255" width="1" height="22" fill="#000"/>
<rect x="364" y="257" width="5" height="6" fill="#000"/>
<rect x="374" y="260" width="1" height="30" fill="#000"/>
<rect x="372" y="264" width="5" height="16" fill="#000"/>
<rect x="382" y="250" width="1" height="36" fill="#000"/>
<rect x="380" y="264" width="5" height="16" fill="#000"/>
<rect x="381" y="265" width="3" height="14" fill="#fff"/>
<rect x="390" y="183" width="1" height="85" fill="#000"/>
<rect x="388" y="186" width="5" height="79" fill="#000"/>
<rect x="389" y="187" width="3" height="77" fill="#fff"/>
<rect x="398" y="80" width="1" height="108" fill="#000"/>
<rect x="396" y="97" width="5" height="88" fill="#000"/>
<rect x="397" y="98" width="3" height="86" fill="#fff"/>
<rect x="406" y="49" width="1" height="49" fill="#000"/>
<rect x="404" y="65" width="5" height="33" fill="#000"/>
<rect x="405" y="66" width="3" height="31" fill="#fff"/>
<rect x="414" y="52" width="1" height="22" fill="#000"/>
<rect x="412" y="62" width="5" height="4" fill="#000"/>
<rect x="413" y="63" width="3" height="2" fill="#fff"/>
<rect x="422" y="51" width="1" height="26" fill="#000"/>
<rect x="420" y="58" width="5" height="4" fill="#000"/>
<rect x="421" y="59" width="3" height="2" fill="#fff"/>
<rect x="430" y="53" width="1" height="31" fill="#000"/>
<rect x="428" y="59" width="5" height="7" fill="#000"/>
<rect x="438" y="54" width="1" height="31" fill="#000"/>
<rect x="436" y="65" width="5" height="10" fill="#000"/>
<rect x="446" y="61" width="1" height="42" fill="#000"/>
<rect x="444" y="74" width="5" height="1" fill="#000"/>
<rect x="454" y="67" width="1" height="15" fill="#000"/>
<rect x="452" y="74" width="5" height="2" fill="#000"/>
<rect x="462" y="68" width="1" height="9" fill="#000"/>
<rect x="460" y="73" width="5" height="3" fill="#000"/>
<rect x="470" y="72" width="1" height="28" fill="#000"/>
<rect x="468" y="74" width="5" height="15" fill="#000"/>
<rect x="478" y="85" width="1" height="23" fill="#000"/>
<rect x="476" y="88" width="5" height="20" fill="#000"/>
<rect x="486" y="102" width="1" height="25" fill="#000"/>
<rect x="484" y="107" width="5" height="1" fill="#000"/>
<rect x="494" y="100" width="1" height="34" fill="#000"/>
<rect x="492" y="101" width="5" height="7" fill="#000"/>
<rect x="493" y="102" width="3" height="5" fill="#fff"/>
<rect x="502" y="97" width="1" height="18" fill="#000"/>
<rect x="500" y="98" width="5" height="4" fill="#000"/>
<rect x="501" y="99" width="3" height="2" fill="#fff"/>
<rect x="510" y="79" width="1" height="28" fill="#000"/>
<rect x="508" y="82" width="5" height="17" fill="#000"/>
<rect x="509" y="83" width="3" height="15" fill="#fff"/>
<rect x="518" y="69" width="1" height="32" fill="#000"/>
<rect x="516" y="77" width="5" height="7" fill="#000"/>
<rect x="517" y="78" width="3" height="5" fill="#fff"/>
<rect x="526" y="64" width="1" height="40" fill="#000"/>
<rect x="524" y="77" width="5" height="12" fill="#000"/>
<rect x="534" y="79" width="1" height="56" fill="#000"/>
<rect x="532" y="88" width="5" height="41" fill="#000"/>
<rect x="542" y="118" width="1" height="51" fill="#000"/>
<rect x="540" y="128" width="5" height="35" fill="#000"/>
<rect x="550" y="156" width="1" height="25" fill="#000"/>
<rect x="548" y="162" width="5" height="12" fill="#000"/>
<rect x="558" y="165" width="1" height="16" fill="#000"/>
<rect x="556" y="165" width="5" height="9" fill="#000"/>
<rect x="557" y="166" width="3" height="7" fill="#fff"/>
<rect x="566" y="138" width="1" height="32" fill="#000"/>
<rect x="564" y="142" width="5" height="25" fill="#000"/>
<rect x="565" y="143" width="3" height="23" fill="#fff"/>
<rect x="574" y="128" width="1" height="33" fill="#000"/>
<rect x="572" y="141" width="5" height="1" fill="#000"/>
<rect x="582" y="129" width="1" height="31" fill="#000"/>
<rect x="580" y="138" width="5" height="6" fill="#000"/>
<rect x="581" y="139" width="3" height="4" fill="#fff"/>
<rect x="590" y="111" width="1" height="31" fill="#000"/>
<rect x="588" y="125" width="5" height="14" fill="#000"/>
<rect x="589" y="126" width="3" height="12" fill="#fff"/>
<rect x="598" y="119" width="1" height="28" fill="#000"/>
<rect x="596" y="125" width="5" height="15" fill="#000"/>
<rect x="606" y="130" width="1" height="14" fill="#000"/>
<rect x="604" y="132" width="5" height="8" fill="#000"/>
<rect x="605" y="133" width="3" height="6" fill="#fff"/>
<rect x="614" y="117" width="1" height="17" fill="#000"/>
<rect x="612" y="121" width="5" height="13" fill="#000"/>
<rect x="613" y="122" width="3" height="11" fill="#fff"/>
<rect x="622" y="115" width="1" height="18" fill="#000"/>
<rect x="620" y="121" width="5" height="5" fill="#000"/>
<rect x="630" y="77" width="1" height="49" fill="#000"/>
<rect x="628" y="83" width="5" height="43" fill="#000"/>
<rect x="629" y="84" width="3" height="41" fill="#fff"/>
<rect x="638" y="81" width="1" height="50" fill="#000"/>
<rect x="636" y="82" width="5" height="31" fill="#000"/>
<rect x="646" y="104" width="1" height="22" fill="#000"/>
<rect x="644" y="105" width="5" height="8" fill="#000"/>
<rect x="645" y="106" width="3" height="6" fill="#fff"/>
<rect x="654" y="97" width="1" height="20" fill="#000"/>
<rect x="652" y="101" width="5" height="5" fill="#000"/>
<rect x="653" y="102" width="3" height="3" fill="#fff"/>
<rect x="662" y="99" width="1" height="36" fill="#000"/>
<rect x="660" y="100" width="5" height="23" fill="#000"/>
<rect x="670" y="105" width="1" height="31" fill="#000"/>
<rect x="668" y="108" width="5" height="15" fill="#000"/>
<rect x="669" y="109" width="3" height="13" fill="#fff"/>
<rect x="678" y="91" width="1" height="24" fill="#000"/>
<rect x="676" y="103" width="5" height="7" fill="#000"/>
<rect x="677" y="104" width="3" height="5" fill="#fff"/>
<rect x="686" y="83" width="1" height="79" fill="#000"/>
<rect x="684" y="103" width="5" height="52" fill="#000"/>
<rect x="694" y="148" width="1" height="14" fill="#000"/>
<rect x="692" y="154" width="5" height="4" fill="#000"/>
<rect x="702" y="136" width="1" height="15" fill="#000"/>
<rect x="700" y="137" width="5" height="14" fill="#000"/>
<rect x="701" y="138" width="3" height="12" fill="#fff"/>
<rect x="710" y="135" width="1" height="43" fill="#000"/>
<rect x="708" y="137" width="5" height="34" fill="#000"/>
<rect x="718" y="169" width="1" height="45" fill="#000"/>
<rect x="716" y="169" width="5" height="33" fill="#000"/>
<rect x="726" y="171" width="1" height="43" fill="#000"/>
<rect x="724" y="174" width="5" height="28" fill="#000"/>
<rect x="725" y="175" width="3" height="26" fill="#fff"/>
<rect x="734" y="167" width="1" height="32" fill="#000"/>
<rect x="732" y="173" width="5" height="4" fill="#000"/>
<rect x="742" y="163" width="1" height="14" fill="#000"/>
<rect x="740" y="172" width="5" height="5" fill="#000"/>
<rect x="741" y="173" width="3" height="3" fill="#fff"/>
<rect x="750" y="168" width="1" height="12" fill="#000"/>
<rect x="748" y="172" width="5" height="5" fill="#000"/>
<rect x="758" y="156" width="1" height="26" fill="#000"/>
<rect x="756" y="171" width="5" height="6" fill="#000"/>
<rect x="757" y="172" width="3" height="4" fill="#fff"/>
<rect x="766" y="162" width="1" height="30" fill="#000"/>
<rect x="764" y="171" width="5" height="11" fill="#000"/>
<rect x="774" y="174" width="1" height="31" fill="#000"/>
<rect x="772" y="181" width="5" height="10" fill="#000"/>
<rect x="782" y="175" width="1" height="39" fill="#000"/>
<rect x="780" y="180" width="5" height="10" fill="#000"/>
<rect x="781" y="181" width="3" height="8" fill="#fff"/>
<rect x="790" y="155" width="1" height="28" fill="#000"/>
<rect x="788" y="168" width="5" height="14" fill="#000"/>
<rect x="789" y="169" width="3" height="12" fill="#fff"/>
<rect x="798" y="167" width="1" height="11" fill="#000"/>
<rect x="796" y="168" width="5" height="9" fill="#000"/>
<rect x="806" y="158" width="1" height="24" fill="#000"/>
<rect x="804" y="163" width="5" height="14" fill="#000"/>
<rect x="805" y="164" width="3" height="12" fill="#fff"/>
<rect x="814" y="144" width="1" height="30" fill="#000"/>
<rect x="812" y="152" width="5" height="12" fill="#000"/>
<rect x="813" y="153" width="3" height="10" fill="#fff"/>
<rect x="822" y="131" width="1" height="35" fill="#000"/>
<rect x="820" y="152" width="5" height="9" fill="#000"/>
<rect x="830" y="159" width="1" height="63" fill="#000"/>
<rect x="828" y="159" width="5" height="27" fill="#000"/>
<rect x="838" y="182" width="1" height="24" fill="#000"/>
<rect x="836" y="185" width="5" height="15" fill="#000"/>
<rect x="846" y="190" width="1" height="12" fill="#000"/>
<rect x="844" y="199" width="5" height="2" fill="#000"/>
<rect x="854" y="191" width="1" height="19" fill="#000"/>
<rect x="852" y="200" width="5" height="2" fill="#000"/>
<rect x="862" y="201" width="1" height="59" fill="#000"/>
<rect x="860" y="201" width="5" height="37" fill="#000"/>
<rect x="870" y="217" width="1" height="37" fill="#000"/>
<rect x="868" y="225" width="5" height="13" fill="#000"/>
<rect x="869" y="226" width="3" height="11" fill="#fff"/>
<rect x="878" y="142" width="1" height="85" fill="#000"/>
<rect x="876" y="155" width="5" height="70" fill="#000"/>
<rect x="877" y="156" width="3" height="68" fill="#fff"/>
<rect x="886" y="151" width="1" height="30" fill="#000"/>
<rect x="884" y="155" width="5" height="24" fill="#000"/>
<rect x="894" y="160" width="1" height="19" fill="#000"/>
<rect x="892" y="163" width="5" height="16" fill="#000"/>
<rect x="893" y="164" width="3" height="14" fill="#fff"/>
<rect x="902" y="152" width="1" height="16" fill="#000"/>
<rect x="900" y="153" width="5" height="11" fill="#000"/>
<rect x="901" y="154" width="3" height="9" fill="#fff"/>
<rect x="910" y="142" width="1" height="40" fill="#000"/>
<rect x="908" y="153" width="5" height="10" fill="#000"/>
<rect x="918" y="149" width="1" height="29" fill="#000"/>
<rect x="916" y="159" width="5" height="4" fill="#000"/>
<rect x="917" y="160" width="3" height="2" fill="#fff"/>
<rect x="926" y="151" width="1" height="31" fill="#000"/>
<rect x="924" y="159" width="5" height="19" fill="#000"/>
<rect x="934" y="177" width="1" height="27" fill="#000"/>
<rect x="932" y="177" width="5" height="15" fill="#000"/>
<rect x="942" y="174" width="1" height="9" fill="#000"/>
<rect x="940" y="176" width="5" height="4" fill="#000"/>
<rect x="941" y="177" width="3" height="2" fill="#fff"/>
<rect x="950" y="170" width="1" height="14" fill="#000"/>
<rect x="948" y="176" width="5" height="1" fill="#000"/>
<rect x="958" y="174" width="1" height="38" fill="#000"/>
<rect x="956" y="175" width="5" height="25" fill="#000"/>
<rect x="966" y="189" width="1" height="51" fill="#000"/>
<rect x="964" y="189" width="5" height="11" fill="#000"/>
<rect x="965" y="190" width="3" height="9" fill="#fff"/>
<rect x="974" y="133" width="1" height="58" fill="#000"/>
<rect x="972" y="138" width="5" height="53" fill="#000"/>
<rect x="973" y="139" width="3" height="51" fill="#fff"/>
<rect x="982" y="128" width="1" height="15" fill="#000"/>
<rect x="980" y="136" width="5" height="3" fill="#000"/>
<rect x="981" y="137" width="3" height="1" fill="#fff"/>
<rect x="990" y="132" width="1" height="8" fill="#000"/>
<rect x="988" y="136" width="5" height="2" fill="#000"/>
<rect x="998" y="123" width="1" height="22" fill="#000"/>
<rect x="996" y="127" width="5" height="11" fill="#000"/>
<rect x="997" y="128" width="3" height="9" fill="#fff"/>
<rect x="1006" y="113" width="1" height="32" fill="#000"/>
<rect x="1004" y="127" width="5" height="1" fill="#000"/>
<rect x="1014" y="123" width="1" height="93" fill="#000"/>
<rect x="1012" y="127" width="5" height="80" fill="#000"/>
<rect x="1022" y="148" width="1" height="59" fill="#000"/>
<rect x="1020" y="166" width="5" height="41" fill="#000"/>
<rect x="1021" y="167" width="3" height="39" fill="#fff"/>
<rect x="1030" y="152" width="1" height="18" fill="#000"/>
<rect x="1028" y="166" width="5" height="4" fill="#000"/>
<rect x="1038" y="162" width="1" height="12" fill="#000"/>
<rect x="1036" y="165" width="5" height="6" fill="#000"/>
<rect x="1037" y="166" width="3" height="4" fill="#fff"/>
<rect x="1046" y="155" width="1" height="13" fill="#000"/>
<rect x="1044" y="159" width="5" height="7" fill="#000"/>
<rect x="1045" y="160" width="3" height="5" fill="#fff"/>
<rect x="1054" y="124" width="1" height="40" fill="#000"/>
<rect x="1052" y="143" width="5" height="17" fill="#000"/>
<rect x="1053" y="144" width="3" height="15" fill="#fff"/>
<rect x="1062" y="138" width="1" height="28" fill="#000"/>
<rect x="1060" y="143" width="5" height="2" fill="#000"/>
<rect x="1070" y="141" width="1" height="24" fill="#000"/>
<rect x="1068" y="144" width="5" height="19" fill="#000"/>
<rect x="1078" y="156" width="1" height="45" fill="#000"/>
<rect x="1076" y="162" width="5" height="19" fill="#000"/>
<rect x="1086" y="167" width="1" height="31" fill="#000"/>
<rect x="1084" y="170" width="5" height="11" fill="#000"/>
<rect x="1085" y="171" width="3" height="9" fill="#fff"/>
<rect x="1094" y="169" width="1" height="28" fill="#000"/>
<rect x="1092" y="170" width="5" height="3" fill="#000"/>
<rect x="1102" y="164" width="1" height="50" fill="#000"/>
<rect x="1100" y="173" width="5" height="41" fill="#000"/>
<rect x="1110" y="191" width="1" height="49" fill="#000"/>
<rect x="1108" y="213" width="5" height="16" fill="#000"/>
<rect x="1118" y="222" width="1" height="116" fill="#000"/>
<rect x="1116" y="228" width="5" height="105" fill="#000"/>
<rect x="1126" y="314" width="1" height="51" fill="#000"/>
<rect x="1124" y="328" width="5" height="5" fill="#000"/>
<rect x="1125" y="329" width="3" height="3" fill="#fff"/>
<rect x="1134" y="296" width="1" height="41" fill="#000"/>
<rect x="1132" y="297" width="5" height="31" fill="#000"/>
<rect x="1133" y="298" width="3" height="29" fill="#fff"/>
<rect x="1142" y="296" width="1" height="38" fill="#000"/>
<rect x="1140" y="297" width="5" height="34" fill="#000"/>
<rect x="1150" y="330" width="1" height="108" fill="#000"/>
<rect x="1148" y="330" width="5" height="75" fill="#000"/>
<rect x="1158" y="353" width="1" height="64" fill="#000"/>
<rect x="1156" y="382" width="5" height="23" fill="#000"/>
<rect x="1157" y="383" width="3" height="21" fill="#fff"/>
<rect x="1166" y="383" width="1" height="90" fill="#000"/>
<rect x="1164" y="383" width="5" height="78" fill="#000"/>
<rect x="1174" y="444" width="1" height="25" fill="#000"/>
<rect x="1172" y="460" width="5" height="6" fill="#000"/>
<rect x="1182" y="452" width="1" height="13" fill="#000"/>
<rect x="1180" y="459" width="5" height="6" fill="#000"/>
<rect x="1181" y="460" width="3" height="4" fill="#fff"/>
<rect x="1190" y="441" width="1" height="122" fill="#000"/>
<rect x="1188" y="459" width="5" height="86" fill="#000"/>
<rect x="1198" y="461" width="1" height="94" fill="#000"/>
<rect x="1196" y="465" width="5" height="80" fill="#000"/>
<rect x="1197" y="466" width="3" height="78" fill="#fff"/>
<rect x="1206" y="389" width="1" height="88" fill="#000"/>
<rect x="1204" y="404" width="5" height="62" fill="#000"/>
<rect x="1205" y="405" width="3" height="60" fill="#fff"/>
<rect x="1214" y="335" width="1" height="82" fill="#000"/>
<rect x="1212" y="341" width="5" height="64" fill="#000"/>
<rect x="1213" y="342" width="3" height="62" fill="#fff"/>
<rect x="1222" y="304" width="1" height="42" fill="#000"/>
<rect x="1220" y="311" width="5" height="32" fill="#000"/>
<rect x="1221" y="312" width="3" height="30" fill="#fff"/>
<rect x="1230" y="297" width="1" height="19" fill="#000"/>
<rect x="1228" y="306" width="5" height="6" fill="#000"/>
<rect x="1229" y="307" width="3" height="4" fill="#fff"/>
<rect x="1238" y="303" width="1" height="48" fill="#000"/>
<rect x="1236" y="305" width="5" height="8" fill="#000"/>
<rect x="1246" y="308" width="1" height="41" fill="#000"/>
<rect x="1244" y="313" width="5" height="24" fill="#000"/>
<rect x="1254" y="305" width="1" height="65" fill="#000"/>
<rect x="1252" y="312" width="5" height="25" fill="#000"/>
<rect x="1253" y="313" width="3" height="23" fill="#fff"/>
<rect x="1262" y="244" width="1" height="82" fill="#000"/>
<rect x="1260" y="254" width="5" height="59" fill="#000"/>
<rect x="1261" y="255" width="3" height="57" fill="#fff"/>
<rect x="1270" y="222" width="1" height="35" fill="#000"/>
<rect x="1268" y="238" width="5" height="17" fill="#000"/>
<rect x="1269" y="239" width="3" height="15" fill="#fff"/>
<rect x="1278" y="227" width="1" height="15" fill="#000"/>
<rect x="1276" y="234" width="5" height="5" fill="#000"/>
<rect x="1277" y="235" width="3" height="3" fill="#fff"/>
<rect x="1286" y="219" width="1" height="29" fill="#000"/>
<rect x="1284" y="234" width="5" height="8" fill="#000"/>
<rect x="1294" y="153" width="1" height="91" fill="#000"/>
<rect x="1292" y="164" width="5" height="78" fill="#000"/>
<rect x="1293" y="165" width="3" height="76" fill="#fff"/>
<rect x="1302" y="148" width="1" height="66" fill="#000"/>
<rect x="1300" y="166" width="5" height="11" fill="#000"/>
<rect x="1310" y="149" width="1" height="54" fill="#000"/>
<rect x="1308" y="172" width="5" height="5" fill="#000"/>
<rect x="1309" y="173" width="3" height="3" fill="#fff"/>
<rect x="1318" y="160" width="1" height="18" fill="#000"/>
<rect x="1316" y="172" width="5" height="6" fill="#000"/>
<rect x="1326" y="159" width="1" height="19" fill="#000"/>
<rect x="1324" y="160" width="5" height="18" fill="#000"/>
<rect x="1325" y="161" width="3" height="16" fill="#fff"/>
<rect x="1334" y="149" width="1" height="30" fill="#000"/>
<rect x="1332" y="160" width="5" height="14" fill="#000"/>
<rect x="1342" y="168" width="1" height="40" fill="#000"/>
<rect x="1340" y="173" width="5" height="19" fill="#000"/>
<rect x="1350" y="160" width="1" height="102" fill="#000"/>
<rect x="1348" y="191" width="5" height="66" fill="#000"/>
<rect x="1358" y="244" width="1" height="49" fill="#000"/>
<rect x="1356" y="249" width="5" height="8" fill="#000"/>
<rect x="1357" y="250" width="3" height="6" fill="#fff"/>
<rect x="1366" y="220" width="1" height="35" fill="#000"/>
<rect x="1364" y="223" width="5" height="27" fill="#000"/>
<rect x="1365" y="224" width="3" height="25" fill="#fff"/>
<rect x="1374" y="219" width="1" height="33" fill="#000"/>
<rect x="1372" y="223" width="5" height="12" fill="#000"/>
<rect x="1382" y="215" width="1" height="20" fill="#000"/>
<rect x="1380" y="228" width="5" height="7" fill="#000"/>
<rect x="1381" y="229" width="3" height="5" fill="#fff"/>
<rect x="1390" y="228" width="1" height="47" fill="#000"/>
<rect x="1388" y="228" width="5" height="39" fill="#000"/>
<rect x="1398" y="260" width="1" height="33" fill="#000"/>
<rect x="1396" y="265" width="5" height="22" fill="#000"/>
<rect x="1406" y="252" width="1" height="64" fill="#000"/>
<rect x="1404" y="275" width="5" height="12" fill="#000"/>
<rect x="1405" y="276" width="3" height="10" fill="#fff"/>
<rect x="1414" y="259" width="1" height="41" fill="#000"/>
<rect x="1412" y="275" width="5" height="20" fill="#000"/>
</g>
<g>
<rect x="791.5" y="250.5" width="61" height="18" fill="#fff" stroke="#ff0000" stroke-width="1" shape-rendering="crispEdges"/>
<text x="792.78" y="265.8" font-size="17.00" fill="#ff0000" font-weight="normal" font-family='"Liberation Sans", sans-serif' textLength="58.83" lengthAdjust="spacingAndGlyphs">154.107</text>
<rect x="1231.5" y="139.5" width="61" height="18" fill="#fff" stroke="#ff0000" stroke-width="1" shape-rendering="crispEdges"/>
<text x="1232.77" y="155.2" font-size="17.57" fill="#ff0000" font-weight="normal" font-family='"Liberation Sans", sans-serif' textLength="59.18" lengthAdjust="spacingAndGlyphs">155.138</text>
<rect x="1293" y="148" width="10" height="1" fill="#ff0000"/>
<rect x="1287.5" y="283.5" width="61" height="18" fill="#fff" stroke="#ff0000" stroke-width="1" shape-rendering="crispEdges"/>
<text x="1288.77" y="299.2" font-size="17.57" fill="#ff0000" font-weight="normal" font-family='"Liberation Sans", sans-serif' textLength="59.10" lengthAdjust="spacingAndGlyphs">153.800</text>
<rect x="1349" y="292" width="9" height="1" fill="#ff0000"/>
<rect x="1119.5" y="553.5" width="61" height="18" fill="#fff" stroke="#ff0000" stroke-width="1" shape-rendering="crispEdges"/>
<text x="1120.77" y="569.2" font-size="17.57" fill="#ff0000" font-weight="normal" font-family='"Liberation Sans", sans-serif' textLength="59.26" lengthAdjust="spacingAndGlyphs">151.291</text>
<rect x="1181" y="562" width="9" height="1" fill="#ff0000"/>
<rect x="1007" y="279" width="8" height="1" fill="#ff0000"/>
<rect x="1014.5" y="277.5" width="2" height="3" fill="#fff" stroke="#ff0000" stroke-width="1" shape-rendering="crispEdges"/>
<rect x="1017.5" y="267.5" width="73" height="24" fill="#fff" stroke="#ff0000" stroke-width="1" shape-rendering="crispEdges"/>
<text x="1018.12" y="287.9" font-size="22.71" fill="#ff0000" font-weight="normal" font-family='"Liberation Sans", sans-serif' textLength="71.37" lengthAdjust="spacingAndGlyphs">153.921</text>
</g>
<rect x="1353" y="276" width="125" height="7" fill="#00ff00"/>
<rect x="1519.5" y="257.5" width="110" height="24" fill="none" stroke="#404040" stroke-width="1" shape-rendering="crispEdges"/>
<text x="1519.07" y="278.1" font-size="22.47" fill="#00ff00" font-weight="400" font-family='"Liberation Sans", "Noto Sans CJK SC", sans-serif' textLength="108.62" lengthAdjust="spacingAndGlyphs">多空转折点</text>
<g>
<line x1="1303.5" y1="147" x2="1361.8" y2="281.3" stroke="#ff0000" stroke-width="3.3" stroke-linecap="butt" shape-rendering="crispEdges"/>
<polygon points="1365.4,289.6 1355.2,277.7 1363.6,274.0" fill="#ff0000" shape-rendering="crispEdges"/>
<line x1="1365.4" y1="289.6" x2="1384.1" y2="230.8" stroke="#ff0000" stroke-width="3.3" stroke-linecap="butt" shape-rendering="crispEdges"/>
<polygon points="1386.3,223.9 1387.9,237.0 1377.4,233.7" fill="#ff0000" shape-rendering="crispEdges"/>
<line x1="1388" y1="227" x2="1442.1" y2="322.0" stroke="#ff0000" stroke-width="3.3" stroke-linecap="butt" shape-rendering="crispEdges"/>
<polygon points="1445.5,328.0 1435.8,320.3 1443.8,315.7" fill="#ff0000" shape-rendering="crispEdges"/>
</g>
<g shape-rendering="crispEdges">
<rect x="0" y="22" width="1657" height="1" fill="#000"/>
<rect x="1656" y="22" width="1" height="554" fill="#000"/>
<rect x="0" y="575" width="1657" height="1" fill="#000"/>
<rect x="0" y="577" width="1657" height="1" fill="#000"/>
<rect x="1656" y="577" width="1" height="171" fill="#000"/>
<rect x="0" y="747" width="1657" height="1" fill="#000"/>
<rect x="0" y="749" width="1657" height="1" fill="#000"/>
<rect x="1656" y="749" width="1" height="175" fill="#000"/>
<rect x="0" y="923" width="1657" height="1" fill="#000"/>
</g>
<g shape-rendering="crispEdges">
<rect x="1657" y="44" width="3" height="1" fill="#000"/>
<rect x="1657" y="77" width="3" height="1" fill="#000"/>
<rect x="1657" y="110" width="3" height="1" fill="#000"/>
<rect x="1657" y="143" width="3" height="1" fill="#000"/>
<rect x="1657" y="176" width="3" height="1" fill="#000"/>
<rect x="1657" y="209" width="3" height="1" fill="#000"/>
<rect x="1657" y="242" width="3" height="1" fill="#000"/>
<rect x="1657" y="275" width="3" height="1" fill="#000"/>
<rect x="1657" y="308" width="3" height="1" fill="#000"/>
<rect x="1657" y="341" width="3" height="1" fill="#000"/>
<rect x="1657" y="374" width="3" height="1" fill="#000"/>
<rect x="1657" y="407" width="3" height="1" fill="#000"/>
<rect x="1657" y="440" width="3" height="1" fill="#000"/>
<rect x="1657" y="473" width="3" height="1" fill="#000"/>
<rect x="1657" y="506" width="3" height="1" fill="#000"/>
<rect x="1657" y="539" width="3" height="1" fill="#000"/>
<rect x="1657" y="572" width="3" height="1" fill="#000"/>
</g>
<text x="1661.60" y="48" font-size="10.00" fill="#000" stroke="#000" stroke-width="0.2" font-weight="normal" font-family='"Liberation Sans", sans-serif' textLength="33.55" lengthAdjust="spacingAndGlyphs">156.105</text>
<text x="1661.60" y="81" font-size="10.00" fill="#000" stroke="#000" stroke-width="0.2" font-weight="normal" font-family='"Liberation Sans", sans-serif' textLength="33.55" lengthAdjust="spacingAndGlyphs">155.800</text>
<text x="1661.60" y="114" font-size="10.00" fill="#000" stroke="#000" stroke-width="0.2" font-weight="normal" font-family='"Liberation Sans", sans-serif' textLength="33.55" lengthAdjust="spacingAndGlyphs">155.495</text>
<text x="1661.60" y="147" font-size="10.00" fill="#000" stroke="#000" stroke-width="0.2" font-weight="normal" font-family='"Liberation Sans", sans-serif' textLength="33.55" lengthAdjust="spacingAndGlyphs">155.185</text>
<text x="1661.60" y="180" font-size="10.00" fill="#000" stroke="#000" stroke-width="0.2" font-weight="normal" font-family='"Liberation Sans", sans-serif' textLength="33.55" lengthAdjust="spacingAndGlyphs">154.880</text>
<text x="1661.60" y="213" font-size="10.00" fill="#000" stroke="#000" stroke-width="0.2" font-weight="normal" font-family='"Liberation Sans", sans-serif' textLength="33.55" lengthAdjust="spacingAndGlyphs">154.570</text>
<text x="1661.60" y="246" font-size="10.00" fill="#000" stroke="#000" stroke-width="0.2" font-weight="normal" font-family='"Liberation Sans", sans-serif' textLength="33.55" lengthAdjust="spacingAndGlyphs">154.265</text>
<text x="1661.60" y="279" font-size="10.00" fill="#000" stroke="#000" stroke-width="0.2" font-weight="normal" font-family='"Liberation Sans", sans-serif' textLength="33.55" lengthAdjust="spacingAndGlyphs">153.955</text>
<text x="1661.60" y="312" font-size="10.00" fill="#000" stroke="#000" stroke-width="0.2" font-weight="normal" font-family='"Liberation Sans", sans-serif' textLength="33.55" lengthAdjust="spacingAndGlyphs">153.650</text>
<text x="1661.60" y="345" font-size="10.00" fill="#000" stroke="#000" stroke-width="0.2" font-weight="normal" font-family='"Liberation Sans", sans-serif' textLength="33.55" lengthAdjust="spacingAndGlyphs">153.340</text>
<text x="1661.60" y="378" font-size="10.00" fill="#000" stroke="#000" stroke-width="0.2" font-weight="normal" font-family='"Liberation Sans", sans-serif' textLength="33.55" lengthAdjust="spacingAndGlyphs">153.035</text>
<text x="1661.60" y="411" font-size="10.00" fill="#000" stroke="#000" stroke-width="0.2" font-weight="normal" font-family='"Liberation Sans", sans-serif' textLength="33.55" lengthAdjust="spacingAndGlyphs">152.725</text>
<text x="1661.60" y="444" font-size="10.00" fill="#000" stroke="#000" stroke-width="0.2" font-weight="normal" font-family='"Liberation Sans", sans-serif' textLength="33.55" lengthAdjust="spacingAndGlyphs">152.420</text>
<text x="1661.60" y="477" font-size="10.00" fill="#000" stroke="#000" stroke-width="0.2" font-weight="normal" font-family='"Liberation Sans", sans-serif' textLength="32.86" lengthAdjust="spacingAndGlyphs">152.110</text>
<text x="1661.60" y="510" font-size="10.00" fill="#000" stroke="#000" stroke-width="0.2" font-weight="normal" font-family='"Liberation Sans", sans-serif' textLength="33.55" lengthAdjust="spacingAndGlyphs">151.805</text>
<text x="1661.60" y="543" font-size="10.00" fill="#000" stroke="#000" stroke-width="0.2" font-weight="normal" font-family='"Liberation Sans", sans-serif' textLength="33.55" lengthAdjust="spacingAndGlyphs">151.500</text>
<text x="1661.60" y="576" font-size="10.00" fill="#000" stroke="#000" stroke-width="0.2" font-weight="normal" font-family='"Liberation Sans", sans-serif' textLength="33.55" lengthAdjust="spacingAndGlyphs">151.190</text>
<rect x="1658" y="233" width="41" height="11" fill="#ff0000"/>
<text x="1661.80" y="242" font-size="10.00" fill="#fff" stroke="#fff" stroke-width="0.2" font-weight="normal" font-family='"Liberation Sans", sans-serif' textLength="33.55" lengthAdjust="spacingAndGlyphs">154.293</text>
<rect x="1658" y="253" width="41" height="11" fill="#ff0000"/>
<text x="1661.80" y="262" font-size="10.00" fill="#fff" stroke="#fff" stroke-width="0.2" font-weight="normal" font-family='"Liberation Sans", sans-serif' textLength="33.55" lengthAdjust="spacingAndGlyphs">154.107</text>
<rect x="1658" y="273" width="41" height="11" fill="#32cd32"/>
<text x="1661.80" y="282" font-size="10.00" fill="#fff" stroke="#fff" stroke-width="0.2" font-weight="normal" font-family='"Liberation Sans", sans-serif' textLength="33.55" lengthAdjust="spacingAndGlyphs">153.921</text>
<rect x="1658" y="289" width="41" height="11" fill="#000000"/>
<text x="1661.80" y="298" font-size="10.00" fill="#fff" stroke="#fff" stroke-width="0.2" font-weight="normal" font-family='"Liberation Sans", sans-serif' textLength="33.55" lengthAdjust="spacingAndGlyphs">153.779</text>
<rect x="1658" y="310" width="41" height="11" fill="#0000ff"/>
<text x="1661.80" y="319" font-size="10.00" fill="#fff" stroke="#fff" stroke-width="0.2" font-weight="normal" font-family='"Liberation Sans", sans-serif' textLength="33.55" lengthAdjust="spacingAndGlyphs">153.577</text>
<rect x="1658" y="331" width="41" height="11" fill="#0000ff"/>
<text x="1661.80" y="340" font-size="10.00" fill="#fff" stroke="#fff" stroke-width="0.2" font-weight="normal" font-family='"Liberation Sans", sans-serif' textLength="33.55" lengthAdjust="spacingAndGlyphs">153.382</text>
<g clip-path="url(#cmacd)" shape-rendering="crispEdges">
<rect x="6" y="621" width="1" height="26" fill="#c0c0c0"/>
<rect x="14" y="621" width="1" height="26" fill="#c0c0c0"/>
<rect x="22" y="619" width="1" height="28" fill="#c0c0c0"/>
<rect x="30" y="617" width="1" height="30" fill="#c0c0c0"/>
<rect x="38" y="613" width="1" height="34" fill="#c0c0c0"/>
<rect x="46" y="610" width="1" height="37" fill="#c0c0c0"/>
<rect x="54" y="609" width="1" height="38" fill="#c0c0c0"/>
<rect x="62" y="610" width="1" height="37" fill="#c0c0c0"/>
<rect x="70" y="611" width="1" height="36" fill="#c0c0c0"/>
<rect x="78" y="613" width="1" height="34" fill="#c0c0c0"/>
<rect x="86" y="615" width="1" height="32" fill="#c0c0c0"/>
<rect x="94" y="616" width="1" height="31" fill="#c0c0c0"/>
<rect x="102" y="618" width="1" height="29" fill="#c0c0c0"/>
<rect x="110" y="624" width="1" height="23" fill="#c0c0c0"/>
<rect x="118" y="628" width="1" height="19" fill="#c0c0c0"/>
<rect x="126" y="632" width="1" height="15" fill="#c0c0c0"/>
<rect x="134" y="636" width="1" height="11" fill="#c0c0c0"/>
<rect x="142" y="639" width="1" height="8" fill="#c0c0c0"/>
<rect x="150" y="643" width="1" height="4" fill="#c0c0c0"/>
<rect x="158" y="643" width="1" height="4" fill="#c0c0c0"/>
<rect x="166" y="642" width="1" height="5" fill="#c0c0c0"/>
<rect x="174" y="640" width="1" height="7" fill="#c0c0c0"/>
<rect x="182" y="640" width="1" height="7" fill="#c0c0c0"/>
<rect x="190" y="642" width="1" height="5" fill="#c0c0c0"/>
<rect x="198" y="641" width="1" height="6" fill="#c0c0c0"/>
<rect x="206" y="641" width="1" height="6" fill="#c0c0c0"/>
<rect x="214" y="643" width="1" height="4" fill="#c0c0c0"/>
<rect x="222" y="646" width="1" height="1" fill="#c0c0c0"/>
<rect x="230" y="646" width="1" height="1" fill="#c0c0c0"/>
<rect x="238" y="646" width="1" height="2" fill="#c0c0c0"/>
<rect x="246" y="646" width="1" height="5" fill="#c0c0c0"/>
<rect x="254" y="646" width="1" height="6" fill="#c0c0c0"/>
<rect x="262" y="646" width="1" height="7" fill="#c0c0c0"/>
<rect x="270" y="646" width="1" height="6" fill="#c0c0c0"/>
<rect x="278" y="646" width="1" height="5" fill="#c0c0c0"/>
<rect x="286" y="646" width="1" height="2" fill="#c0c0c0"/>
<rect x="294" y="646" width="1" height="2" fill="#c0c0c0"/>
<rect x="302" y="646" width="1" height="4" fill="#c0c0c0"/>
<rect x="310" y="646" width="1" height="7" fill="#c0c0c0"/>
<rect x="318" y="646" width="1" height="8" fill="#c0c0c0"/>
<rect x="326" y="646" width="1" height="7" fill="#c0c0c0"/>
<rect x="334" y="646" width="1" height="7" fill="#c0c0c0"/>
<rect x="342" y="646" width="1" height="5" fill="#c0c0c0"/>
<rect x="350" y="646" width="1" height="4" fill="#c0c0c0"/>
<rect x="358" y="646" width="1" height="2" fill="#c0c0c0"/>
<rect x="366" y="646" width="1" height="2" fill="#c0c0c0"/>
<rect x="374" y="646" width="1" height="3" fill="#c0c0c0"/>
<rect x="382" y="646" width="1" height="2" fill="#c0c0c0"/>
<rect x="390" y="641" width="1" height="6" fill="#c0c0c0"/>
<rect x="398" y="628" width="1" height="19" fill="#c0c0c0"/>
<rect x="406" y="614" width="1" height="33" fill="#c0c0c0"/>
<rect x="414" y="604" width="1" height="43" fill="#c0c0c0"/>
<rect x="422" y="596" width="1" height="51" fill="#c0c0c0"/>
<rect x="430" y="591" width="1" height="56" fill="#c0c0c0"/>
<rect x="438" y="589" width="1" height="58" fill="#c0c0c0"/>
<rect x="446" y="587" width="1" height="60" fill="#c0c0c0"/>
<rect x="454" y="587" width="1" height="60" fill="#c0c0c0"/>
<rect x="462" y="588" width="1" height="59" fill="#c0c0c0"/>
<rect x="470" y="590" width="1" height="57" fill="#c0c0c0"/>
<rect x="478" y="594" width="1" height="53" fill="#c0c0c0"/>
<rect x="486" y="598" width="1" height="49" fill="#c0c0c0"/>
<rect x="494" y="601" width="1" height="46" fill="#c0c0c0"/>
<rect x="502" y="603" width="1" height="44" fill="#c0c0c0"/>
<rect x="510" y="604" width="1" height="43" fill="#c0c0c0"/>
<rect x="518" y="604" width="1" height="43" fill="#c0c0c0"/>
<rect x="526" y="607" width="1" height="40" fill="#c0c0c0"/>
<rect x="534" y="613" width="1" height="34" fill="#c0c0c0"/>
<rect x="542" y="621" width="1" height="26" fill="#c0c0c0"/>
<rect x="550" y="629" width="1" height="18" fill="#c0c0c0"/>
<rect x="558" y="634" width="1" height="13" fill="#c0c0c0"/>
<rect x="566" y="636" width="1" height="11" fill="#c0c0c0"/>
<rect x="574" y="638" width="1" height="9" fill="#c0c0c0"/>
<rect x="582" y="639" width="1" height="8" fill="#c0c0c0"/>
<rect x="590" y="639" width="1" height="8" fill="#c0c0c0"/>
<rect x="598" y="640" width="1" height="7" fill="#c0c0c0"/>
<rect x="606" y="641" width="1" height="6" fill="#c0c0c0"/>
<rect x="614" y="640" width="1" height="7" fill="#c0c0c0"/>
<rect x="622" y="640" width="1" height="7" fill="#c0c0c0"/>
<rect x="630" y="638" width="1" height="9" fill="#c0c0c0"/>
<rect x="638" y="636" width="1" height="11" fill="#c0c0c0"/>
<rect x="646" y="636" width="1" height="11" fill="#c0c0c0"/>
<rect x="654" y="635" width="1" height="12" fill="#c0c0c0"/>
<rect x="662" y="636" width="1" height="11" fill="#c0c0c0"/>
<rect x="670" y="636" width="1" height="11" fill="#c0c0c0"/>
<rect x="678" y="637" width="1" height="10" fill="#c0c0c0"/>
<rect x="686" y="640" width="1" height="7" fill="#c0c0c0"/>
<rect x="694" y="644" width="1" height="3" fill="#c0c0c0"/>
<rect x="702" y="645" width="1" height="2" fill="#c0c0c0"/>
<rect x="710" y="646" width="1" height="1" fill="#c0c0c0"/>
<rect x="718" y="646" width="1" height="8" fill="#c0c0c0"/>
<rect x="726" y="646" width="1" height="10" fill="#c0c0c0"/>
<rect x="734" y="646" width="1" height="12" fill="#c0c0c0"/>
<rect x="742" y="646" width="1" height="13" fill="#c0c0c0"/>
<rect x="750" y="646" width="1" height="14" fill="#c0c0c0"/>
<rect x="758" y="646" width="1" height="14" fill="#c0c0c0"/>
<rect x="766" y="646" width="1" height="14" fill="#c0c0c0"/>
<rect x="774" y="646" width="1" height="16" fill="#c0c0c0"/>
<rect x="782" y="646" width="1" height="16" fill="#c0c0c0"/>
<rect x="790" y="646" width="1" height="14" fill="#c0c0c0"/>
<rect x="798" y="646" width="1" height="15" fill="#c0c0c0"/>
<rect x="806" y="646" width="1" height="12" fill="#c0c0c0"/>
<rect x="814" y="646" width="1" height="10" fill="#c0c0c0"/>
<rect x="822" y="646" width="1" height="8" fill="#c0c0c0"/>
<rect x="830" y="646" width="1" height="9" fill="#c0c0c0"/>
<rect x="838" y="646" width="1" height="11" fill="#c0c0c0"/>
<rect x="846" y="646" width="1" height="12" fill="#c0c0c0"/>
<rect x="854" y="646" width="1" height="14" fill="#c0c0c0"/>
<rect x="862" y="646" width="1" height="18" fill="#c0c0c0"/>
<rect x="870" y="646" width="1" height="20" fill="#c0c0c0"/>
<rect x="878" y="646" width="1" height="15" fill="#c0c0c0"/>
<rect x="886" y="646" width="1" height="14" fill="#c0c0c0"/>
<rect x="894" y="646" width="1" height="9" fill="#c0c0c0"/>
<rect x="902" y="646" width="1" height="6" fill="#c0c0c0"/>
<rect x="910" y="646" width="1" height="4" fill="#c0c0c0"/>
<rect x="918" y="646" width="1" height="2" fill="#c0c0c0"/>
<rect x="926" y="646" width="1" height="2" fill="#c0c0c0"/>
<rect x="934" y="646" width="1" height="4" fill="#c0c0c0"/>
<rect x="942" y="646" width="1" height="3" fill="#c0c0c0"/>
<rect x="950" y="646" width="1" height="3" fill="#c0c0c0"/>
<rect x="958" y="646" width="1" height="4" fill="#c0c0c0"/>
<rect x="966" y="646" width="1" height="4" fill="#c0c0c0"/>
<rect x="974" y="646" width="1" height="1" fill="#c0c0c0"/>
<rect x="982" y="644" width="1" height="3" fill="#c0c0c0"/>
<rect x="990" y="642" width="1" height="5" fill="#c0c0c0"/>
<rect x="998" y="639" width="1" height="8" fill="#c0c0c0"/>
<rect x="1006" y="637" width="1" height="10" fill="#c0c0c0"/>
<rect x="1014" y="642" width="1" height="5" fill="#c0c0c0"/>
<rect x="1022" y="643" width="1" height="4" fill="#c0c0c0"/>
<rect x="1030" y="644" width="1" height="3" fill="#c0c0c0"/>
<rect x="1038" y="644" width="1" height="3" fill="#c0c0c0"/>
<rect x="1046" y="644" width="1" height="3" fill="#c0c0c0"/>
<rect x="1054" y="641" width="1" height="6" fill="#c0c0c0"/>
<rect x="1062" y="641" width="1" height="6" fill="#c0c0c0"/>
<rect x="1070" y="642" width="1" height="5" fill="#c0c0c0"/>
<rect x="1078" y="643" width="1" height="4" fill="#c0c0c0"/>
<rect x="1086" y="646" width="1" height="1" fill="#c0c0c0"/>
<rect x="1094" y="646" width="1" height="1" fill="#c0c0c0"/>
<rect x="1102" y="646" width="1" height="4" fill="#c0c0c0"/>
<rect x="1110" y="646" width="1" height="8" fill="#c0c0c0"/>
<rect x="1118" y="646" width="1" height="21" fill="#c0c0c0"/>
<rect x="1126" y="646" width="1" height="31" fill="#c0c0c0"/>
<rect x="1134" y="646" width="1" height="35" fill="#c0c0c0"/>
<rect x="1142" y="646" width="1" height="41" fill="#c0c0c0"/>
<rect x="1150" y="646" width="1" height="52" fill="#c0c0c0"/>
<rect x="1158" y="646" width="1" height="58" fill="#c0c0c0"/>
<rect x="1166" y="646" width="1" height="69" fill="#c0c0c0"/>
<rect x="1174" y="646" width="1" height="77" fill="#c0c0c0"/>
<rect x="1182" y="646" width="1" height="82" fill="#c0c0c0"/>
<rect x="1190" y="646" width="1" height="93" fill="#c0c0c0"/>
<rect x="1198" y="646" width="1" height="93" fill="#c0c0c0"/>
<rect x="1206" y="646" width="1" height="86" fill="#c0c0c0"/>
<rect x="1214" y="646" width="1" height="75" fill="#c0c0c0"/>
<rect x="1222" y="646" width="1" height="62" fill="#c0c0c0"/>
<rect x="1230" y="646" width="1" height="51" fill="#c0c0c0"/>
<rect x="1238" y="646" width="1" height="42" fill="#c0c0c0"/>
<rect x="1246" y="646" width="1" height="37" fill="#c0c0c0"/>
<rect x="1254" y="646" width="1" height="31" fill="#c0c0c0"/>
<rect x="1262" y="646" width="1" height="20" fill="#c0c0c0"/>
<rect x="1270" y="646" width="1" height="10" fill="#c0c0c0"/>
<rect x="1278" y="646" width="1" height="2" fill="#c0c0c0"/>
<rect x="1286" y="643" width="1" height="4" fill="#c0c0c0"/>
<rect x="1294" y="631" width="1" height="16" fill="#c0c0c0"/>
<rect x="1302" y="623" width="1" height="24" fill="#c0c0c0"/>
<rect x="1310" y="617" width="1" height="30" fill="#c0c0c0"/>
<rect x="1318" y="613" width="1" height="34" fill="#c0c0c0"/>
<rect x="1326" y="609" width="1" height="38" fill="#c0c0c0"/>
<rect x="1334" y="607" width="1" height="40" fill="#c0c0c0"/>
<rect x="1342" y="608" width="1" height="39" fill="#c0c0c0"/>
<rect x="1350" y="614" width="1" height="33" fill="#c0c0c0"/>
<rect x="1358" y="619" width="1" height="28" fill="#c0c0c0"/>
<rect x="1366" y="621" width="1" height="26" fill="#c0c0c0"/>
<rect x="1374" y="624" width="1" height="23" fill="#c0c0c0"/>
<rect x="1382" y="626" width="1" height="21" fill="#c0c0c0"/>
<rect x="1390" y="631" width="1" height="16" fill="#c0c0c0"/>
<rect x="1398" y="637" width="1" height="10" fill="#c0c0c0"/>
<rect x="1406" y="643" width="1" height="4" fill="#c0c0c0"/>
<rect x="1414" y="645" width="1" height="2" fill="#c0c0c0"/>
<path d="M484 590h3v1h-3zM478 591h3v1h-3zM490 591h3v1h-3zM496 591h3v1h-3zM502 591h2v1h-2zM472 592h3v1h-3zM504 592h1v1h-1zM508 593h1v1h-1zM467 594h2v1h-2zM509 594h2v1h-2zM466 595h1v1h-1zM514 595h2v1h-2zM516 596h1v1h-1zM462 597h1v1h-1zM520 597h3v1h-3zM460 598h2v1h-2zM526 598h2v1h-2zM528 599h1v1h-1zM532 600h3v1h-3zM456 601h1v1h-1zM455 602h1v1h-1zM538 602h1v1h-1zM454 603h1v1h-1zM539 603h2v1h-2zM544 605h2v1h-2zM450 606h1v1h-1zM546 606h1v1h-1zM449 607h1v1h-1zM550 607h1v1h-1zM448 608h1v1h-1zM551 608h2v1h-2zM444 611h1v1h-1zM556 611h2v1h-2zM0 612h1v1h-1zM76 612h3v1h-3zM82 612h3v1h-3zM88 612h3v1h-3zM94 612h3v1h-3zM100 612h3v1h-3zM442 612h2v1h-2zM558 612h1v1h-1zM4 613h1v1h-1zM66 613h1v1h-1zM70 613h3v1h-3zM106 613h3v1h-3zM112 613h2v1h-2zM5 614h2v1h-2zM52 614h3v1h-3zM58 614h3v1h-3zM64 614h2v1h-2zM114 614h1v1h-1zM118 614h2v1h-2zM562 614h1v1h-1zM1362 614h1v1h-1zM1366 614h3v1h-3zM1372 614h3v1h-3zM10 615h3v1h-3zM16 615h2v1h-2zM42 615h1v1h-1zM46 615h3v1h-3zM120 615h1v1h-1zM438 615h1v1h-1zM563 615h2v1h-2zM1356 615h1v1h-1zM1360 615h2v1h-2zM1378 615h3v1h-3zM18 616h1v1h-1zM22 616h3v1h-3zM28 616h3v1h-3zM34 616h3v1h-3zM40 616h2v1h-2zM124 616h1v1h-1zM437 616h1v1h-1zM1354 616h2v1h-2zM1384 616h3v1h-3zM125 617h2v1h-2zM436 617h1v1h-1zM568 617h1v1h-1zM1349 617h2v1h-2zM1390 617h2v1h-2zM569 618h2v1h-2zM1348 618h1v1h-1zM1392 618h1v1h-1zM130 619h3v1h-3zM1396 619h1v1h-1zM432 620h1v1h-1zM574 620h1v1h-1zM1343 620h2v1h-2zM1397 620h2v1h-2zM136 621h3v1h-3zM431 621h1v1h-1zM575 621h2v1h-2zM1342 621h1v1h-1zM142 622h1v1h-1zM430 622h1v1h-1zM1402 622h1v1h-1zM143 623h2v1h-2zM580 623h1v1h-1zM1403 623h2v1h-2zM581 624h2v1h-2zM1338 624h1v1h-1zM148 625h1v1h-1zM426 625h1v1h-1zM1336 625h2v1h-2zM1408 625h1v1h-1zM149 626h2v1h-2zM425 626h1v1h-1zM586 626h3v1h-3zM1409 626h2v1h-2zM424 627h1v1h-1zM154 628h3v1h-3zM592 628h1v1h-1zM1332 628h1v1h-1zM1414 628h1v1h-1zM593 629h2v1h-2zM1331 629h1v1h-1zM160 630h2v1h-2zM1330 630h1v1h-1zM162 631h1v1h-1zM420 631h1v1h-1zM598 631h2v1h-2zM166 632h2v1h-2zM418 632h2v1h-2zM600 632h1v1h-1zM168 633h1v1h-1zM604 633h1v1h-1zM1326 633h1v1h-1zM172 634h3v1h-3zM605 634h2v1h-2zM1325 634h1v1h-1zM610 635h2v1h-2zM1324 635h1v1h-1zM178 636h3v1h-3zM414 636h1v1h-1zM612 636h1v1h-1zM616 636h2v1h-2zM666 636h1v1h-1zM670 636h3v1h-3zM676 636h3v1h-3zM682 636h3v1h-3zM688 636h2v1h-2zM412 637h2v1h-2zM618 637h1v1h-1zM622 637h3v1h-3zM652 637h3v1h-3zM658 637h3v1h-3zM664 637h2v1h-2zM690 637h1v1h-1zM694 637h3v1h-3zM700 637h3v1h-3zM184 638h3v1h-3zM628 638h3v1h-3zM634 638h3v1h-3zM640 638h3v1h-3zM646 638h3v1h-3zM706 638h2v1h-2zM1320 638h1v1h-1zM190 639h3v1h-3zM708 639h1v1h-1zM1319 639h1v1h-1zM196 640h3v1h-3zM202 640h3v1h-3zM208 640h3v1h-3zM214 640h3v1h-3zM407 640h2v1h-2zM712 640h3v1h-3zM1318 640h1v1h-1zM220 641h3v1h-3zM406 641h1v1h-1zM718 641h2v1h-2zM1036 641h3v1h-3zM1042 641h3v1h-3zM1048 641h3v1h-3zM1054 641h3v1h-3zM1060 641h3v1h-3zM1066 641h3v1h-3zM1072 641h2v1h-2zM226 642h3v1h-3zM232 642h3v1h-3zM238 642h3v1h-3zM720 642h1v1h-1zM1026 642h1v1h-1zM1030 642h3v1h-3zM1074 642h1v1h-1zM1078 642h3v1h-3zM1084 642h3v1h-3zM244 643h3v1h-3zM401 643h2v1h-2zM724 643h1v1h-1zM1018 643h3v1h-3zM1024 643h2v1h-2zM1090 643h3v1h-3zM1096 643h3v1h-3zM1102 643h2v1h-2zM1314 643h1v1h-1zM250 644h3v1h-3zM256 644h2v1h-2zM400 644h1v1h-1zM725 644h2v1h-2zM1012 644h3v1h-3zM1104 644h1v1h-1zM1313 644h1v1h-1zM258 645h1v1h-1zM262 645h2v1h-2zM730 645h2v1h-2zM1002 645h1v1h-1zM1006 645h3v1h-3zM1108 645h3v1h-3zM1312 645h1v1h-1zM264 646h1v1h-1zM394 646h3v1h-3zM732 646h1v1h-1zM994 646h3v1h-3zM1000 646h2v1h-2zM1114 646h2v1h-2zM268 647h3v1h-3zM736 647h2v1h-2zM988 647h3v1h-3zM1116 647h1v1h-1zM274 648h2v1h-2zM389 648h2v1h-2zM738 648h1v1h-1zM978 648h1v1h-1zM982 648h3v1h-3zM1120 648h1v1h-1zM276 649h1v1h-1zM280 649h2v1h-2zM388 649h1v1h-1zM742 649h2v1h-2zM964 649h3v1h-3zM970 649h3v1h-3zM976 649h2v1h-2zM1121 649h2v1h-2zM1308 649h1v1h-1zM282 650h1v1h-1zM286 650h3v1h-3zM384 650h1v1h-1zM744 650h1v1h-1zM954 650h1v1h-1zM958 650h3v1h-3zM1307 650h1v1h-1zM292 651h3v1h-3zM298 651h3v1h-3zM304 651h2v1h-2zM378 651h1v1h-1zM382 651h2v1h-2zM748 651h1v1h-1zM946 651h3v1h-3zM952 651h2v1h-2zM1126 651h1v1h-1zM1306 651h1v1h-1zM306 652h1v1h-1zM310 652h3v1h-3zM316 652h3v1h-3zM322 652h3v1h-3zM328 652h3v1h-3zM334 652h3v1h-3zM340 652h3v1h-3zM346 652h3v1h-3zM352 652h3v1h-3zM358 652h3v1h-3zM364 652h3v1h-3zM370 652h3v1h-3zM376 652h2v1h-2zM749 652h2v1h-2zM940 652h3v1h-3zM1127 652h2v1h-2zM754 653h2v1h-2zM936 653h1v1h-1zM756 654h1v1h-1zM760 654h2v1h-2zM930 654h1v1h-1zM934 654h2v1h-2zM762 655h1v1h-1zM766 655h2v1h-2zM924 655h1v1h-1zM928 655h2v1h-2zM1132 655h2v1h-2zM1303 655h1v1h-1zM768 656h1v1h-1zM922 656h2v1h-2zM1134 656h1v1h-1zM1302 656h1v1h-1zM772 657h3v1h-3zM916 657h3v1h-3zM1301 657h1v1h-1zM778 658h3v1h-3zM784 658h2v1h-2zM826 658h3v1h-3zM832 658h3v1h-3zM838 658h3v1h-3zM844 658h3v1h-3zM850 658h3v1h-3zM856 658h3v1h-3zM862 658h3v1h-3zM906 658h1v1h-1zM910 658h3v1h-3zM786 659h1v1h-1zM790 659h3v1h-3zM810 659h1v1h-1zM814 659h3v1h-3zM820 659h3v1h-3zM868 659h3v1h-3zM874 659h3v1h-3zM880 659h3v1h-3zM886 659h3v1h-3zM898 659h3v1h-3zM904 659h2v1h-2zM1138 659h2v1h-2zM796 660h3v1h-3zM802 660h3v1h-3zM808 660h2v1h-2zM892 660h3v1h-3zM1140 660h1v1h-1zM1298 661h1v1h-1zM1297 662h1v1h-1zM1144 663h2v1h-2zM1296 663h1v1h-1zM1146 664h1v1h-1zM1150 667h1v1h-1zM1293 667h1v1h-1zM1151 668h1v1h-1zM1292 668h1v1h-1zM1152 669h1v1h-1zM1291 669h1v1h-1zM1156 672h2v1h-2zM1158 673h1v1h-1zM1287 673h1v1h-1zM1286 674h1v1h-1zM1285 675h1v1h-1zM1162 677h2v1h-2zM1164 678h1v1h-1zM1282 679h1v1h-1zM1281 680h1v1h-1zM1280 681h1v1h-1zM1168 682h1v1h-1zM1169 683h1v1h-1zM1170 684h1v1h-1zM1277 685h1v1h-1zM1276 686h1v1h-1zM1275 687h1v1h-1zM1174 688h1v1h-1zM1175 689h1v1h-1zM1176 690h1v1h-1zM1272 691h1v1h-1zM1271 692h1v1h-1zM1270 693h1v1h-1zM1180 694h1v1h-1zM1181 695h1v1h-1zM1182 696h1v1h-1zM1266 697h1v1h-1zM1265 698h1v1h-1zM1264 699h1v1h-1zM1186 700h1v1h-1zM1187 701h1v1h-1zM1188 702h1v1h-1zM1260 703h1v1h-1zM1259 704h1v1h-1zM1258 705h1v1h-1zM1192 706h1v1h-1zM1193 707h1v1h-1zM1194 708h1v1h-1zM1254 709h1v1h-1zM1252 710h2v1h-2zM1198 711h1v1h-1zM1199 712h1v1h-1zM1200 713h1v1h-1zM1248 713h1v1h-1zM1247 714h1v1h-1zM1246 715h1v1h-1zM1204 716h2v1h-2zM1206 717h1v1h-1zM1241 717h2v1h-2zM1240 718h1v1h-1zM1210 719h1v1h-1zM1211 720h2v1h-2zM1234 720h3v1h-3zM1216 721h2v1h-2zM1218 722h1v1h-1zM1222 722h3v1h-3zM1228 722h3v1h-3z" fill="#ff0000"/>
</g>
<line x1="1325.6" y1="612.4" x2="1415.3" y2="646.2" stroke="#ff0000" stroke-width="4" stroke-linecap="butt" shape-rendering="crispEdges"/>
<polygon points="1421.8,648.6 1409.3,649.0 1412.7,640.1" fill="#ff0000" shape-rendering="crispEdges"/>
<text x="1.54" y="590" font-size="9.66" fill="#000" stroke="#000" stroke-width="0.2" font-weight="normal" font-family='"Liberation Sans", sans-serif' textLength="128.63" lengthAdjust="spacingAndGlyphs">MACD(12,26,9) 0.0074 0.1472</text>
<g shape-rendering="crispEdges">
<rect x="1657" y="579" width="3" height="1" fill="#000"/>
<rect x="1657" y="646" width="3" height="1" fill="#000"/>
<rect x="1657" y="746" width="3" height="1" fill="#000"/>
</g>
<text x="1659.63" y="588" font-size="10.00" fill="#000" stroke="#000" stroke-width="0.2" font-weight="normal" font-family='"Liberation Sans", sans-serif' textLength="28.53" lengthAdjust="spacingAndGlyphs">0.5575</text>
<text x="1659.93" y="650" font-size="10.00" fill="#000" stroke="#000" stroke-width="0.2" font-weight="normal" font-family='"Liberation Sans", sans-serif' textLength="18.10" lengthAdjust="spacingAndGlyphs">0.00</text>
<text x="1659.58" y="744" font-size="10.00" fill="#000" stroke="#000" stroke-width="0.2" font-weight="normal" font-family='"Liberation Sans", sans-serif' textLength="31.50" lengthAdjust="spacingAndGlyphs">-0.8362</text>
<g clip-path="url(#crsi)" shape-rendering="crispEdges">
<line x1="-1" y1="785.5" x2="1656" y2="785.5" stroke="#a9a9a9" stroke-width="1" stroke-dasharray="3 3"/>
<line x1="-1" y1="836.5" x2="1656" y2="836.5" stroke="#a9a9a9" stroke-width="1" stroke-dasharray="3 3"/>
<line x1="-1" y1="897.5" x2="1656" y2="897.5" stroke="#a9a9a9" stroke-width="1" stroke-dasharray="3 3"/>
<path d="M410 788h14v1h-14zM405 789h5v1h-5zM424 789h2v1h-2zM402 790h3v1h-3zM426 790h3v1h-3zM400 791h2v1h-2zM429 791h2v1h-2zM398 792h2v1h-2zM431 792h2v1h-2zM398 793h1v1h-1zM433 793h1v1h-1zM397 794h1v1h-1zM434 794h2v1h-2zM397 795h1v1h-1zM436 795h2v1h-2zM396 796h1v1h-1zM438 796h25v1h-25zM396 797h1v1h-1zM463 797h1v1h-1zM395 798h1v1h-1zM464 798h1v1h-1zM395 799h1v1h-1zM465 799h1v1h-1zM394 800h1v1h-1zM466 800h1v1h-1zM38 801h2v1h-2zM394 801h1v1h-1zM467 801h1v1h-1zM36 802h2v1h-2zM40 802h4v1h-4zM393 802h1v1h-1zM468 802h1v1h-1zM34 803h2v1h-2zM44 803h11v1h-11zM393 803h1v1h-1zM469 803h1v1h-1zM33 804h1v1h-1zM55 804h1v1h-1zM392 804h1v1h-1zM470 804h1v1h-1zM31 805h2v1h-2zM56 805h1v1h-1zM392 805h1v1h-1zM471 805h1v1h-1zM514 805h5v1h-5zM29 806h2v1h-2zM57 806h1v1h-1zM391 806h1v1h-1zM472 806h1v1h-1zM510 806h4v1h-4zM519 806h1v1h-1zM27 807h2v1h-2zM58 807h1v1h-1zM391 807h1v1h-1zM472 807h1v1h-1zM508 807h2v1h-2zM520 807h2v1h-2zM25 808h2v1h-2zM59 808h1v1h-1zM390 808h1v1h-1zM473 808h1v1h-1zM506 808h2v1h-2zM522 808h1v1h-1zM23 809h2v1h-2zM60 809h1v1h-1zM390 809h1v1h-1zM474 809h1v1h-1zM505 809h1v1h-1zM523 809h1v1h-1zM22 810h1v1h-1zM61 810h1v1h-1zM389 810h1v1h-1zM475 810h1v1h-1zM503 810h2v1h-2zM524 810h2v1h-2zM20 811h2v1h-2zM62 811h1v1h-1zM389 811h1v1h-1zM476 811h1v1h-1zM498 811h5v1h-5zM526 811h1v1h-1zM1294 811h2v1h-2zM19 812h1v1h-1zM63 812h2v1h-2zM389 812h1v1h-1zM476 812h1v1h-1zM492 812h6v1h-6zM526 812h1v1h-1zM1293 812h1v1h-1zM1296 812h2v1h-2zM1324 812h4v1h-4zM18 813h1v1h-1zM65 813h1v1h-1zM93 813h2v1h-2zM389 813h1v1h-1zM477 813h1v1h-1zM488 813h4v1h-4zM527 813h1v1h-1zM1293 813h1v1h-1zM1298 813h3v1h-3zM1320 813h4v1h-4zM1328 813h2v1h-2zM16 814h2v1h-2zM66 814h2v1h-2zM91 814h2v1h-2zM95 814h2v1h-2zM388 814h1v1h-1zM478 814h10v1h-10zM527 814h1v1h-1zM630 814h1v1h-1zM1292 814h1v1h-1zM1301 814h19v1h-19zM1330 814h3v1h-3zM15 815h1v1h-1zM68 815h2v1h-2zM89 815h2v1h-2zM97 815h1v1h-1zM388 815h1v1h-1zM527 815h1v1h-1zM630 815h2v1h-2zM1291 815h1v1h-1zM1333 815h2v1h-2zM14 816h1v1h-1zM70 816h1v1h-1zM87 816h2v1h-2zM98 816h2v1h-2zM388 816h1v1h-1zM528 816h1v1h-1zM629 816h1v1h-1zM631 816h1v1h-1zM1290 816h1v1h-1zM1335 816h1v1h-1zM13 817h1v1h-1zM71 817h2v1h-2zM85 817h2v1h-2zM100 817h2v1h-2zM387 817h1v1h-1zM528 817h1v1h-1zM629 817h1v1h-1zM632 817h1v1h-1zM1290 817h1v1h-1zM1336 817h2v1h-2zM13 818h1v1h-1zM73 818h1v1h-1zM83 818h2v1h-2zM102 818h1v1h-1zM387 818h1v1h-1zM528 818h1v1h-1zM628 818h1v1h-1zM632 818h1v1h-1zM1289 818h1v1h-1zM1338 818h1v1h-1zM12 819h1v1h-1zM74 819h2v1h-2zM81 819h2v1h-2zM102 819h1v1h-1zM387 819h1v1h-1zM529 819h1v1h-1zM628 819h1v1h-1zM633 819h1v1h-1zM997 819h10v1h-10zM1288 819h1v1h-1zM1339 819h1v1h-1zM12 820h1v1h-1zM76 820h2v1h-2zM79 820h2v1h-2zM103 820h1v1h-1zM387 820h1v1h-1zM529 820h1v1h-1zM627 820h1v1h-1zM633 820h1v1h-1zM995 820h2v1h-2zM1006 820h1v1h-1zM1287 820h1v1h-1zM1340 820h2v1h-2zM11 821h1v1h-1zM78 821h1v1h-1zM103 821h1v1h-1zM386 821h1v1h-1zM529 821h1v1h-1zM627 821h1v1h-1zM634 821h1v1h-1zM993 821h2v1h-2zM1007 821h1v1h-1zM1274 821h8v1h-8zM1287 821h1v1h-1zM1342 821h1v1h-1zM10 822h1v1h-1zM103 822h1v1h-1zM386 822h1v1h-1zM530 822h1v1h-1zM626 822h1v1h-1zM635 822h1v1h-1zM978 822h8v1h-8zM991 822h2v1h-2zM1007 822h1v1h-1zM1269 822h5v1h-5zM1282 822h5v1h-5zM1343 822h1v1h-1zM10 823h1v1h-1zM104 823h1v1h-1zM386 823h1v1h-1zM530 823h1v1h-1zM626 823h1v1h-1zM635 823h1v1h-1zM974 823h4v1h-4zM986 823h5v1h-5zM1007 823h1v1h-1zM1267 823h2v1h-2zM1343 823h1v1h-1zM9 824h1v1h-1zM104 824h1v1h-1zM385 824h1v1h-1zM530 824h1v1h-1zM625 824h1v1h-1zM636 824h1v1h-1zM652 824h3v1h-3zM974 824h1v1h-1zM1007 824h1v1h-1zM1265 824h2v1h-2zM1344 824h1v1h-1zM0 825h1v1h-1zM8 825h1v1h-1zM104 825h1v1h-1zM385 825h1v1h-1zM531 825h1v1h-1zM625 825h1v1h-1zM636 825h1v1h-1zM648 825h4v1h-4zM655 825h1v1h-1zM973 825h1v1h-1zM1008 825h1v1h-1zM1263 825h2v1h-2zM1344 825h1v1h-1zM1 826h1v1h-1zM8 826h1v1h-1zM105 826h1v1h-1zM385 826h1v1h-1zM531 826h1v1h-1zM624 826h1v1h-1zM637 826h1v1h-1zM644 826h4v1h-4zM656 826h1v1h-1zM973 826h1v1h-1zM1008 826h1v1h-1zM1262 826h1v1h-1zM1345 826h1v1h-1zM2 827h2v1h-2zM7 827h1v1h-1zM105 827h1v1h-1zM172 827h4v1h-4zM385 827h1v1h-1zM531 827h1v1h-1zM624 827h1v1h-1zM637 827h1v1h-1zM640 827h4v1h-4zM656 827h1v1h-1zM676 827h3v1h-3zM972 827h1v1h-1zM1008 827h1v1h-1zM1261 827h1v1h-1zM1345 827h1v1h-1zM4 828h2v1h-2zM7 828h1v1h-1zM105 828h1v1h-1zM168 828h4v1h-4zM176 828h2v1h-2zM198 828h1v1h-1zM384 828h1v1h-1zM532 828h1v1h-1zM613 828h3v1h-3zM623 828h1v1h-1zM638 828h2v1h-2zM657 828h1v1h-1zM672 828h4v1h-4zM678 828h1v1h-1zM972 828h1v1h-1zM1008 828h1v1h-1zM1054 828h4v1h-4zM1260 828h1v1h-1zM1346 828h1v1h-1zM6 829h1v1h-1zM106 829h1v1h-1zM165 829h3v1h-3zM178 829h3v1h-3zM197 829h1v1h-1zM199 829h1v1h-1zM384 829h1v1h-1zM532 829h1v1h-1zM611 829h2v1h-2zM616 829h4v1h-4zM623 829h1v1h-1zM658 829h1v1h-1zM670 829h2v1h-2zM679 829h1v1h-1zM878 829h1v1h-1zM901 829h3v1h-3zM971 829h1v1h-1zM1009 829h1v1h-1zM1052 829h2v1h-2zM1058 829h5v1h-5zM1260 829h1v1h-1zM1346 829h1v1h-1zM106 830h1v1h-1zM162 830h3v1h-3zM181 830h2v1h-2zM197 830h1v1h-1zM200 830h1v1h-1zM384 830h1v1h-1zM532 830h1v1h-1zM590 830h1v1h-1zM609 830h2v1h-2zM620 830h3v1h-3zM659 830h1v1h-1zM668 830h2v1h-2zM679 830h1v1h-1zM878 830h2v1h-2zM899 830h2v1h-2zM904 830h2v1h-2zM971 830h1v1h-1zM1009 830h1v1h-1zM1051 830h1v1h-1zM1063 830h1v1h-1zM1259 830h1v1h-1zM1347 830h1v1h-1zM1366 830h2v1h-2zM106 831h1v1h-1zM160 831h2v1h-2zM183 831h1v1h-1zM196 831h1v1h-1zM201 831h1v1h-1zM286 831h4v1h-4zM383 831h1v1h-1zM533 831h1v1h-1zM588 831h2v1h-2zM591 831h1v1h-1zM607 831h2v1h-2zM660 831h1v1h-1zM666 831h2v1h-2zM680 831h1v1h-1zM877 831h1v1h-1zM880 831h1v1h-1zM897 831h2v1h-2zM906 831h3v1h-3zM914 831h5v1h-5zM971 831h1v1h-1zM1009 831h1v1h-1zM1050 831h1v1h-1zM1064 831h1v1h-1zM1258 831h1v1h-1zM1347 831h1v1h-1zM1364 831h2v1h-2zM1368 831h2v1h-2zM106 832h1v1h-1zM158 832h2v1h-2zM184 832h1v1h-1zM195 832h1v1h-1zM202 832h1v1h-1zM284 832h2v1h-2zM290 832h5v1h-5zM383 832h1v1h-1zM533 832h1v1h-1zM586 832h2v1h-2zM592 832h2v1h-2zM605 832h2v1h-2zM660 832h1v1h-1zM665 832h1v1h-1zM680 832h1v1h-1zM877 832h1v1h-1zM881 832h1v1h-1zM895 832h2v1h-2zM909 832h5v1h-5zM919 832h1v1h-1zM970 832h1v1h-1zM1009 832h1v1h-1zM1048 832h2v1h-2zM1065 832h1v1h-1zM1257 832h1v1h-1zM1348 832h1v1h-1zM1363 832h1v1h-1zM1370 832h3v1h-3zM1378 832h5v1h-5zM107 833h1v1h-1zM158 833h1v1h-1zM185 833h1v1h-1zM194 833h1v1h-1zM202 833h1v1h-1zM282 833h2v1h-2zM294 833h1v1h-1zM342 833h18v1h-18zM383 833h1v1h-1zM533 833h1v1h-1zM585 833h1v1h-1zM594 833h1v1h-1zM603 833h2v1h-2zM661 833h1v1h-1zM663 833h2v1h-2zM680 833h1v1h-1zM877 833h1v1h-1zM882 833h1v1h-1zM894 833h1v1h-1zM920 833h1v1h-1zM970 833h1v1h-1zM1010 833h1v1h-1zM1047 833h1v1h-1zM1066 833h2v1h-2zM1256 833h1v1h-1zM1348 833h1v1h-1zM1362 833h1v1h-1zM1373 833h5v1h-5zM1383 833h1v1h-1zM107 834h1v1h-1zM157 834h1v1h-1zM186 834h1v1h-1zM194 834h1v1h-1zM203 834h1v1h-1zM281 834h1v1h-1zM295 834h1v1h-1zM341 834h1v1h-1zM360 834h2v1h-2zM383 834h1v1h-1zM534 834h1v1h-1zM583 834h2v1h-2zM595 834h1v1h-1zM601 834h2v1h-2zM662 834h1v1h-1zM681 834h1v1h-1zM814 834h2v1h-2zM877 834h1v1h-1zM882 834h1v1h-1zM892 834h2v1h-2zM921 834h1v1h-1zM969 834h1v1h-1zM1010 834h1v1h-1zM1044 834h3v1h-3zM1068 834h1v1h-1zM1226 834h8v1h-8zM1256 834h1v1h-1zM1349 834h1v1h-1zM1360 834h2v1h-2zM1384 834h1v1h-1zM107 835h1v1h-1zM157 835h1v1h-1zM186 835h1v1h-1zM193 835h1v1h-1zM204 835h1v1h-1zM279 835h2v1h-2zM295 835h1v1h-1zM340 835h1v1h-1zM362 835h3v1h-3zM382 835h1v1h-1zM534 835h1v1h-1zM580 835h3v1h-3zM596 835h2v1h-2zM599 835h2v1h-2zM681 835h1v1h-1zM812 835h2v1h-2zM816 835h2v1h-2zM876 835h1v1h-1zM883 835h1v1h-1zM890 835h2v1h-2zM922 835h1v1h-1zM969 835h1v1h-1zM1010 835h1v1h-1zM1040 835h4v1h-4zM1069 835h1v1h-1zM1222 835h4v1h-4zM1234 835h5v1h-5zM1255 835h1v1h-1zM1349 835h1v1h-1zM1359 835h1v1h-1zM1384 835h1v1h-1zM108 836h1v1h-1zM156 836h1v1h-1zM187 836h1v1h-1zM192 836h1v1h-1zM205 836h1v1h-1zM277 836h2v1h-2zM296 836h1v1h-1zM326 836h1v1h-1zM340 836h1v1h-1zM365 836h2v1h-2zM382 836h1v1h-1zM535 836h1v1h-1zM576 836h4v1h-4zM598 836h1v1h-1zM681 836h1v1h-1zM810 836h2v1h-2zM818 836h3v1h-3zM876 836h1v1h-1zM884 836h1v1h-1zM889 836h1v1h-1zM923 836h1v1h-1zM969 836h1v1h-1zM1010 836h1v1h-1zM1036 836h4v1h-4zM1070 836h1v1h-1zM1220 836h2v1h-2zM1239 836h2v1h-2zM1253 836h2v1h-2zM1350 836h1v1h-1zM1354 836h5v1h-5zM1385 836h1v1h-1zM108 837h1v1h-1zM156 837h1v1h-1zM188 837h1v1h-1zM191 837h1v1h-1zM206 837h4v1h-4zM274 837h3v1h-3zM296 837h1v1h-1zM325 837h1v1h-1zM327 837h1v1h-1zM339 837h1v1h-1zM367 837h1v1h-1zM381 837h1v1h-1zM535 837h1v1h-1zM566 837h10v1h-10zM682 837h1v1h-1zM809 837h1v1h-1zM821 837h2v1h-2zM876 837h1v1h-1zM885 837h1v1h-1zM887 837h2v1h-2zM924 837h1v1h-1zM968 837h1v1h-1zM1011 837h1v1h-1zM1022 837h4v1h-4zM1032 837h4v1h-4zM1071 837h1v1h-1zM1218 837h2v1h-2zM1241 837h2v1h-2zM1250 837h3v1h-3zM1350 837h4v1h-4zM1386 837h1v1h-1zM108 838h1v1h-1zM118 838h4v1h-4zM155 838h1v1h-1zM189 838h1v1h-1zM191 838h1v1h-1zM210 838h5v1h-5zM272 838h2v1h-2zM297 838h1v1h-1zM325 838h1v1h-1zM328 838h1v1h-1zM338 838h1v1h-1zM368 838h1v1h-1zM380 838h1v1h-1zM536 838h1v1h-1zM565 838h1v1h-1zM682 838h1v1h-1zM807 838h2v1h-2zM823 838h1v1h-1zM876 838h1v1h-1zM886 838h1v1h-1zM925 838h1v1h-1zM942 838h9v1h-9zM968 838h1v1h-1zM1011 838h1v1h-1zM1021 838h1v1h-1zM1026 838h6v1h-6zM1072 838h1v1h-1zM1217 838h1v1h-1zM1243 838h2v1h-2zM1248 838h2v1h-2zM1387 838h1v1h-1zM109 839h1v1h-1zM116 839h2v1h-2zM122 839h5v1h-5zM155 839h1v1h-1zM190 839h1v1h-1zM215 839h1v1h-1zM269 839h3v1h-3zM297 839h1v1h-1zM324 839h1v1h-1zM329 839h1v1h-1zM337 839h1v1h-1zM369 839h1v1h-1zM378 839h2v1h-2zM537 839h1v1h-1zM564 839h1v1h-1zM683 839h1v1h-1zM806 839h1v1h-1zM823 839h1v1h-1zM875 839h1v1h-1zM926 839h1v1h-1zM940 839h2v1h-2zM951 839h1v1h-1zM967 839h1v1h-1zM1011 839h1v1h-1zM1021 839h1v1h-1zM1073 839h1v1h-1zM1085 839h5v1h-5zM1215 839h2v1h-2zM1245 839h3v1h-3zM1388 839h1v1h-1zM109 840h1v1h-1zM114 840h2v1h-2zM127 840h1v1h-1zM155 840h1v1h-1zM216 840h1v1h-1zM267 840h2v1h-2zM298 840h1v1h-1zM324 840h1v1h-1zM330 840h2v1h-2zM336 840h1v1h-1zM370 840h2v1h-2zM377 840h1v1h-1zM537 840h1v1h-1zM564 840h1v1h-1zM683 840h1v1h-1zM702 840h1v1h-1zM805 840h1v1h-1zM824 840h1v1h-1zM875 840h1v1h-1zM927 840h2v1h-2zM938 840h2v1h-2zM952 840h1v1h-1zM967 840h1v1h-1zM1011 840h1v1h-1zM1020 840h1v1h-1zM1074 840h2v1h-2zM1083 840h2v1h-2zM1090 840h5v1h-5zM1214 840h1v1h-1zM1388 840h1v1h-1zM109 841h1v1h-1zM113 841h1v1h-1zM128 841h2v1h-2zM154 841h1v1h-1zM217 841h1v1h-1zM238 841h1v1h-1zM265 841h2v1h-2zM298 841h1v1h-1zM323 841h1v1h-1zM332 841h1v1h-1zM336 841h1v1h-1zM372 841h1v1h-1zM376 841h1v1h-1zM538 841h1v1h-1zM563 841h1v1h-1zM683 841h1v1h-1zM701 841h1v1h-1zM703 841h1v1h-1zM804 841h1v1h-1zM825 841h1v1h-1zM875 841h1v1h-1zM929 841h2v1h-2zM937 841h1v1h-1zM953 841h1v1h-1zM966 841h1v1h-1zM1012 841h1v1h-1zM1020 841h1v1h-1zM1076 841h1v1h-1zM1081 841h2v1h-2zM1095 841h1v1h-1zM1213 841h1v1h-1zM1389 841h1v1h-1zM110 842h3v1h-3zM130 842h1v1h-1zM141 842h2v1h-2zM154 842h1v1h-1zM218 842h2v1h-2zM236 842h2v1h-2zM239 842h1v1h-1zM263 842h2v1h-2zM299 842h1v1h-1zM322 842h1v1h-1zM333 842h1v1h-1zM335 842h1v1h-1zM373 842h1v1h-1zM375 842h1v1h-1zM539 842h1v1h-1zM562 842h1v1h-1zM684 842h1v1h-1zM700 842h1v1h-1zM704 842h1v1h-1zM790 842h1v1h-1zM802 842h2v1h-2zM825 842h1v1h-1zM875 842h1v1h-1zM931 842h2v1h-2zM935 842h2v1h-2zM954 842h1v1h-1zM965 842h2v1h-2zM1012 842h1v1h-1zM1019 842h1v1h-1zM1077 842h1v1h-1zM1079 842h2v1h-2zM1095 842h1v1h-1zM1213 842h1v1h-1zM1390 842h1v1h-1zM110 843h1v1h-1zM131 843h1v1h-1zM138 843h3v1h-3zM143 843h1v1h-1zM153 843h1v1h-1zM220 843h1v1h-1zM234 843h2v1h-2zM240 843h1v1h-1zM261 843h2v1h-2zM299 843h1v1h-1zM322 843h1v1h-1zM334 843h1v1h-1zM374 843h1v1h-1zM539 843h1v1h-1zM561 843h1v1h-1zM684 843h1v1h-1zM699 843h1v1h-1zM704 843h1v1h-1zM789 843h1v1h-1zM791 843h2v1h-2zM801 843h1v1h-1zM826 843h1v1h-1zM874 843h1v1h-1zM933 843h2v1h-2zM955 843h1v1h-1zM963 843h2v1h-2zM1012 843h1v1h-1zM1019 843h1v1h-1zM1078 843h1v1h-1zM1096 843h1v1h-1zM1212 843h1v1h-1zM1391 843h2v1h-2zM1405 843h2v1h-2zM132 844h2v1h-2zM136 844h2v1h-2zM144 844h1v1h-1zM153 844h1v1h-1zM221 844h1v1h-1zM233 844h1v1h-1zM240 844h1v1h-1zM259 844h2v1h-2zM300 844h1v1h-1zM321 844h1v1h-1zM540 844h1v1h-1zM560 844h1v1h-1zM684 844h1v1h-1zM698 844h1v1h-1zM705 844h1v1h-1zM788 844h1v1h-1zM793 844h2v1h-2zM800 844h1v1h-1zM827 844h1v1h-1zM874 844h1v1h-1zM956 844h1v1h-1zM961 844h2v1h-2zM1012 844h1v1h-1zM1018 844h1v1h-1zM1096 844h1v1h-1zM1211 844h1v1h-1zM1393 844h2v1h-2zM1402 844h3v1h-3zM1407 844h2v1h-2zM134 845h2v1h-2zM145 845h1v1h-1zM153 845h1v1h-1zM222 845h4v1h-4zM231 845h2v1h-2zM241 845h1v1h-1zM257 845h2v1h-2zM300 845h1v1h-1zM320 845h1v1h-1zM541 845h1v1h-1zM560 845h1v1h-1zM685 845h1v1h-1zM698 845h1v1h-1zM706 845h1v1h-1zM787 845h1v1h-1zM795 845h2v1h-2zM799 845h1v1h-1zM827 845h1v1h-1zM874 845h1v1h-1zM957 845h1v1h-1zM959 845h2v1h-2zM1013 845h1v1h-1zM1017 845h1v1h-1zM1097 845h1v1h-1zM1211 845h1v1h-1zM1395 845h2v1h-2zM1400 845h2v1h-2zM1409 845h1v1h-1zM146 846h1v1h-1zM152 846h1v1h-1zM226 846h5v1h-5zM242 846h1v1h-1zM255 846h2v1h-2zM301 846h1v1h-1zM320 846h1v1h-1zM541 846h1v1h-1zM559 846h1v1h-1zM685 846h1v1h-1zM697 846h1v1h-1zM707 846h1v1h-1zM786 846h1v1h-1zM797 846h2v1h-2zM828 846h1v1h-1zM873 846h1v1h-1zM958 846h1v1h-1zM1013 846h1v1h-1zM1017 846h1v1h-1zM1097 846h1v1h-1zM1210 846h1v1h-1zM1397 846h3v1h-3zM1410 846h2v1h-2zM146 847h1v1h-1zM152 847h1v1h-1zM243 847h1v1h-1zM253 847h2v1h-2zM301 847h1v1h-1zM319 847h1v1h-1zM542 847h1v1h-1zM557 847h2v1h-2zM686 847h1v1h-1zM696 847h1v1h-1zM708 847h1v1h-1zM756 847h4v1h-4zM785 847h1v1h-1zM829 847h1v1h-1zM873 847h1v1h-1zM1013 847h1v1h-1zM1016 847h1v1h-1zM1098 847h1v1h-1zM1209 847h1v1h-1zM1412 847h2v1h-2zM147 848h1v1h-1zM151 848h1v1h-1zM244 848h1v1h-1zM251 848h2v1h-2zM302 848h1v1h-1zM319 848h1v1h-1zM543 848h2v1h-2zM555 848h2v1h-2zM686 848h4v1h-4zM695 848h1v1h-1zM708 848h1v1h-1zM738 848h8v1h-8zM752 848h4v1h-4zM760 848h2v1h-2zM784 848h1v1h-1zM829 848h1v1h-1zM873 848h1v1h-1zM1013 848h1v1h-1zM1016 848h1v1h-1zM1099 848h1v1h-1zM1209 848h1v1h-1zM1414 848h1v1h-1zM148 849h1v1h-1zM151 849h1v1h-1zM244 849h1v1h-1zM249 849h2v1h-2zM302 849h2v1h-2zM317 849h2v1h-2zM545 849h2v1h-2zM553 849h2v1h-2zM690 849h5v1h-5zM709 849h1v1h-1zM726 849h12v1h-12zM746 849h6v1h-6zM762 849h3v1h-3zM783 849h1v1h-1zM830 849h1v1h-1zM873 849h1v1h-1zM1014 849h2v1h-2zM1099 849h1v1h-1zM1208 849h1v1h-1zM149 850h2v1h-2zM245 850h1v1h-1zM247 850h2v1h-2zM304 850h2v1h-2zM314 850h3v1h-3zM547 850h2v1h-2zM551 850h2v1h-2zM710 850h1v1h-1zM725 850h1v1h-1zM765 850h2v1h-2zM781 850h2v1h-2zM831 850h2v1h-2zM872 850h1v1h-1zM1014 850h2v1h-2zM1100 850h1v1h-1zM1207 850h1v1h-1zM150 851h1v1h-1zM246 851h1v1h-1zM306 851h3v1h-3zM312 851h2v1h-2zM549 851h2v1h-2zM711 851h1v1h-1zM725 851h1v1h-1zM767 851h2v1h-2zM779 851h2v1h-2zM833 851h1v1h-1zM872 851h1v1h-1zM1014 851h1v1h-1zM1100 851h1v1h-1zM1207 851h1v1h-1zM309 852h3v1h-3zM712 852h1v1h-1zM724 852h1v1h-1zM769 852h2v1h-2zM777 852h2v1h-2zM834 852h2v1h-2zM872 852h1v1h-1zM1101 852h1v1h-1zM1206 852h1v1h-1zM712 853h1v1h-1zM723 853h1v1h-1zM771 853h2v1h-2zM775 853h2v1h-2zM836 853h2v1h-2zM872 853h1v1h-1zM1101 853h1v1h-1zM1205 853h1v1h-1zM713 854h1v1h-1zM722 854h1v1h-1zM773 854h2v1h-2zM838 854h4v1h-4zM871 854h1v1h-1zM1102 854h1v1h-1zM1205 854h1v1h-1zM714 855h1v1h-1zM722 855h1v1h-1zM842 855h13v1h-13zM871 855h1v1h-1zM1103 855h2v1h-2zM1204 855h1v1h-1zM715 856h1v1h-1zM721 856h1v1h-1zM855 856h1v1h-1zM871 856h1v1h-1zM1105 856h2v1h-2zM1204 856h1v1h-1zM716 857h1v1h-1zM720 857h1v1h-1zM855 857h1v1h-1zM871 857h1v1h-1zM1107 857h2v1h-2zM1203 857h1v1h-1zM716 858h1v1h-1zM719 858h1v1h-1zM856 858h1v1h-1zM870 858h1v1h-1zM1109 858h2v1h-2zM1203 858h1v1h-1zM717 859h1v1h-1zM719 859h1v1h-1zM856 859h1v1h-1zM870 859h1v1h-1zM1110 859h1v1h-1zM1202 859h1v1h-1zM718 860h1v1h-1zM857 860h1v1h-1zM869 860h1v1h-1zM1111 860h1v1h-1zM1201 860h1v1h-1zM858 861h1v1h-1zM868 861h1v1h-1zM1111 861h1v1h-1zM1201 861h1v1h-1zM858 862h1v1h-1zM867 862h1v1h-1zM1111 862h1v1h-1zM1200 862h1v1h-1zM859 863h1v1h-1zM866 863h1v1h-1zM1112 863h1v1h-1zM1200 863h1v1h-1zM860 864h1v1h-1zM866 864h1v1h-1zM1112 864h1v1h-1zM1199 864h1v1h-1zM860 865h1v1h-1zM865 865h1v1h-1zM1113 865h1v1h-1zM1134 865h1v1h-1zM1199 865h1v1h-1zM861 866h1v1h-1zM864 866h1v1h-1zM1113 866h1v1h-1zM1133 866h1v1h-1zM1135 866h2v1h-2zM1198 866h1v1h-1zM861 867h1v1h-1zM863 867h1v1h-1zM1113 867h1v1h-1zM1133 867h1v1h-1zM1137 867h1v1h-1zM1198 867h1v1h-1zM862 868h1v1h-1zM1114 868h1v1h-1zM1132 868h1v1h-1zM1138 868h2v1h-2zM1197 868h1v1h-1zM1114 869h1v1h-1zM1132 869h1v1h-1zM1140 869h2v1h-2zM1197 869h1v1h-1zM1114 870h1v1h-1zM1131 870h1v1h-1zM1142 870h1v1h-1zM1197 870h1v1h-1zM1115 871h1v1h-1zM1130 871h1v1h-1zM1143 871h1v1h-1zM1196 871h1v1h-1zM1115 872h1v1h-1zM1130 872h1v1h-1zM1143 872h1v1h-1zM1196 872h1v1h-1zM1115 873h1v1h-1zM1129 873h1v1h-1zM1144 873h1v1h-1zM1195 873h1v1h-1zM1116 874h1v1h-1zM1128 874h1v1h-1zM1145 874h1v1h-1zM1158 874h1v1h-1zM1195 874h1v1h-1zM1116 875h1v1h-1zM1128 875h1v1h-1zM1146 875h1v1h-1zM1157 875h1v1h-1zM1159 875h1v1h-1zM1195 875h1v1h-1zM1117 876h1v1h-1zM1127 876h1v1h-1zM1146 876h1v1h-1zM1156 876h1v1h-1zM1160 876h1v1h-1zM1194 876h1v1h-1zM1117 877h1v1h-1zM1127 877h1v1h-1zM1147 877h1v1h-1zM1154 877h2v1h-2zM1161 877h1v1h-1zM1194 877h1v1h-1zM1117 878h1v1h-1zM1124 878h3v1h-3zM1148 878h1v1h-1zM1153 878h1v1h-1zM1162 878h1v1h-1zM1194 878h1v1h-1zM1118 879h1v1h-1zM1120 879h4v1h-4zM1149 879h1v1h-1zM1152 879h1v1h-1zM1162 879h1v1h-1zM1193 879h1v1h-1zM1118 880h2v1h-2zM1149 880h1v1h-1zM1151 880h1v1h-1zM1163 880h1v1h-1zM1193 880h1v1h-1zM1150 881h1v1h-1zM1164 881h1v1h-1zM1180 881h3v1h-3zM1193 881h1v1h-1zM1165 882h1v1h-1zM1176 882h4v1h-4zM1183 882h1v1h-1zM1192 882h1v1h-1zM1166 883h10v1h-10zM1184 883h1v1h-1zM1192 883h1v1h-1zM1185 884h1v1h-1zM1191 884h1v1h-1zM1186 885h2v1h-2zM1191 885h1v1h-1zM1188 886h1v1h-1zM1191 886h1v1h-1zM1189 887h2v1h-2zM1190 888h1v1h-1z" fill="#1e90ff"/>
</g>
<line x1="1299.1" y1="810.1" x2="1422.5" y2="850.3" stroke="#ff0000" stroke-width="4.2" stroke-linecap="butt" shape-rendering="crispEdges"/>
<polygon points="1428.9,852.4 1416.7,853.3 1419.6,844.5" fill="#ff0000" shape-rendering="crispEdges"/>
<text x="1.35" y="762.3" font-size="10.07" fill="#000" stroke="#000" stroke-width="0.2" font-weight="normal" font-family='"Liberation Sans", sans-serif' textLength="69.00" lengthAdjust="spacingAndGlyphs">RSI(14) 43.2839</text>
<g shape-rendering="crispEdges">
<rect x="1657" y="751" width="2" height="1" fill="#000"/>
<rect x="1657" y="785" width="2" height="1" fill="#000"/>
<rect x="1657" y="836" width="2" height="1" fill="#000"/>
<rect x="1657" y="897" width="2" height="1" fill="#000"/>
</g>
<text x="1659.85" y="760" font-size="10.00" fill="#000" stroke="#000" stroke-width="0.2" font-weight="normal" font-family='"Liberation Sans", sans-serif' textLength="14.49" lengthAdjust="spacingAndGlyphs">100</text>
<text x="1659.11" y="789.5" font-size="9.29" fill="#000" stroke="#000" stroke-width="0.2" font-weight="normal" font-family='"Liberation Sans", sans-serif' textLength="9.61" lengthAdjust="spacingAndGlyphs">80</text>
<text x="1659.15" y="840" font-size="9.29" fill="#000" stroke="#000" stroke-width="0.2" font-weight="normal" font-family='"Liberation Sans", sans-serif' textLength="9.61" lengthAdjust="spacingAndGlyphs">50</text>
<text x="1659.34" y="901.5" font-size="9.42" fill="#000" stroke="#000" stroke-width="0.2" font-weight="normal" font-family='"Liberation Sans", sans-serif' textLength="9.75" lengthAdjust="spacingAndGlyphs">15</text>
<text x="1659.63" y="920.3" font-size="10.00" fill="#000" stroke="#000" stroke-width="0.2" font-weight="normal" font-family='"Liberation Sans", sans-serif' textLength="5.17" lengthAdjust="spacingAndGlyphs">0</text>
<g shape-rendering="crispEdges">
<rect x="-2" y="924" width="1" height="3" fill="#000"/>
<rect x="62" y="924" width="1" height="3" fill="#000"/>
<rect x="126" y="924" width="1" height="3" fill="#000"/>
<rect x="190" y="924" width="1" height="3" fill="#000"/>
<rect x="254" y="924" width="1" height="3" fill="#000"/>
<rect x="318" y="924" width="1" height="3" fill="#000"/>
<rect x="382" y="924" width="1" height="3" fill="#000"/>
<rect x="446" y="924" width="1" height="3" fill="#000"/>
<rect x="510" y="924" width="1" height="3" fill="#000"/>
<rect x="574" y="924" width="1" height="3" fill="#000"/>
<rect x="638" y="924" width="1" height="3" fill="#000"/>
<rect x="702" y="924" width="1" height="3" fill="#000"/>
<rect x="766" y="924" width="1" height="3" fill="#000"/>
<rect x="830" y="924" width="1" height="3" fill="#000"/>
<rect x="894" y="924" width="1" height="3" fill="#000"/>
<rect x="958" y="924" width="1" height="3" fill="#000"/>
<rect x="1022" y="924" width="1" height="3" fill="#000"/>
<rect x="1086" y="924" width="1" height="3" fill="#000"/>
<rect x="1150" y="924" width="1" height="3" fill="#000"/>
<rect x="1214" y="924" width="1" height="3" fill="#000"/>
<rect x="1278" y="924" width="1" height="3" fill="#000"/>
<rect x="1342" y="924" width="1" height="3" fill="#000"/>
<rect x="1406" y="924" width="1" height="3" fill="#000"/>
</g>
<text x="-3.12" y="936" font-size="10.00" fill="#000" stroke="#000" stroke-width="0.2" font-weight="normal" font-family='"Liberation Sans", sans-serif' textLength="55.51" lengthAdjust="spacingAndGlyphs">17 May 2021</text>
<text x="60.88" y="936" font-size="10.00" fill="#000" stroke="#000" stroke-width="0.2" font-weight="normal" font-family='"Liberation Sans", sans-serif' textLength="58.17" lengthAdjust="spacingAndGlyphs">18 May 12:00</text>
<text x="124.88" y="936" font-size="10.00" fill="#000" stroke="#000" stroke-width="0.2" font-weight="normal" font-family='"Liberation Sans", sans-serif' textLength="58.17" lengthAdjust="spacingAndGlyphs">19 May 20:00</text>
<text x="189.12" y="936" font-size="10.00" fill="#000" stroke="#000" stroke-width="0.2" font-weight="normal" font-family='"Liberation Sans", sans-serif' textLength="58.17" lengthAdjust="spacingAndGlyphs">21 May 04:00</text>
<text x="253.12" y="936" font-size="10.00" fill="#000" stroke="#000" stroke-width="0.2" font-weight="normal" font-family='"Liberation Sans", sans-serif' textLength="58.17" lengthAdjust="spacingAndGlyphs">24 May 12:00</text>
<text x="317.12" y="936" font-size="10.00" fill="#000" stroke="#000" stroke-width="0.2" font-weight="normal" font-family='"Liberation Sans", sans-serif' textLength="58.17" lengthAdjust="spacingAndGlyphs">25 May 20:00</text>
<text x="381.12" y="936" font-size="10.00" fill="#000" stroke="#000" stroke-width="0.2" font-weight="normal" font-family='"Liberation Sans", sans-serif' textLength="58.17" lengthAdjust="spacingAndGlyphs">27 May 04:00</text>
<text x="445.12" y="936" font-size="10.00" fill="#000" stroke="#000" stroke-width="0.2" font-weight="normal" font-family='"Liberation Sans", sans-serif' textLength="58.17" lengthAdjust="spacingAndGlyphs">28 May 12:00</text>
<text x="509.22" y="936" font-size="10.00" fill="#000" stroke="#000" stroke-width="0.2" font-weight="normal" font-family='"Liberation Sans", sans-serif' textLength="58.17" lengthAdjust="spacingAndGlyphs">31 May 20:00</text>
<text x="573.14" y="936" font-size="10.00" fill="#000" stroke="#000" stroke-width="0.2" font-weight="normal" font-family='"Liberation Sans", sans-serif' textLength="48.09" lengthAdjust="spacingAndGlyphs">2 Jun 04:00</text>
<text x="637.23" y="936" font-size="10.00" fill="#000" stroke="#000" stroke-width="0.2" font-weight="normal" font-family='"Liberation Sans", sans-serif' textLength="48.09" lengthAdjust="spacingAndGlyphs">3 Jun 12:00</text>
<text x="701.14" y="936" font-size="10.00" fill="#000" stroke="#000" stroke-width="0.2" font-weight="normal" font-family='"Liberation Sans", sans-serif' textLength="48.09" lengthAdjust="spacingAndGlyphs">6 Jun 23:00</text>
<text x="765.19" y="936" font-size="10.00" fill="#000" stroke="#000" stroke-width="0.2" font-weight="normal" font-family='"Liberation Sans", sans-serif' textLength="48.09" lengthAdjust="spacingAndGlyphs">8 Jun 04:00</text>
<text x="829.19" y="936" font-size="10.00" fill="#000" stroke="#000" stroke-width="0.2" font-weight="normal" font-family='"Liberation Sans", sans-serif' textLength="48.09" lengthAdjust="spacingAndGlyphs">9 Jun 12:00</text>
<text x="892.91" y="936" font-size="10.00" fill="#000" stroke="#000" stroke-width="0.2" font-weight="normal" font-family='"Liberation Sans", sans-serif' textLength="53.20" lengthAdjust="spacingAndGlyphs">10 Jun 20:00</text>
<text x="956.91" y="936" font-size="10.00" fill="#000" stroke="#000" stroke-width="0.2" font-weight="normal" font-family='"Liberation Sans", sans-serif' textLength="53.20" lengthAdjust="spacingAndGlyphs">14 Jun 04:00</text>
<text x="1020.91" y="936" font-size="10.00" fill="#000" stroke="#000" stroke-width="0.2" font-weight="normal" font-family='"Liberation Sans", sans-serif' textLength="53.20" lengthAdjust="spacingAndGlyphs">15 Jun 12:00</text>
<text x="1084.91" y="936" font-size="10.00" fill="#000" stroke="#000" stroke-width="0.2" font-weight="normal" font-family='"Liberation Sans", sans-serif' textLength="53.20" lengthAdjust="spacingAndGlyphs">16 Jun 20:00</text>
<text x="1148.91" y="936" font-size="10.00" fill="#000" stroke="#000" stroke-width="0.2" font-weight="normal" font-family='"Liberation Sans", sans-serif' textLength="53.20" lengthAdjust="spacingAndGlyphs">18 Jun 04:00</text>
<text x="1213.14" y="936" font-size="10.00" fill="#000" stroke="#000" stroke-width="0.2" font-weight="normal" font-family='"Liberation Sans", sans-serif' textLength="53.20" lengthAdjust="spacingAndGlyphs">21 Jun 12:00</text>
<text x="1277.14" y="936" font-size="10.00" fill="#000" stroke="#000" stroke-width="0.2" font-weight="normal" font-family='"Liberation Sans", sans-serif' textLength="53.20" lengthAdjust="spacingAndGlyphs">22 Jun 20:00</text>
<text x="1341.14" y="936" font-size="10.00" fill="#000" stroke="#000" stroke-width="0.2" font-weight="normal" font-family='"Liberation Sans", sans-serif' textLength="53.20" lengthAdjust="spacingAndGlyphs">24 Jun 04:00</text>
<text x="1405.14" y="936" font-size="10.00" fill="#000" stroke="#000" stroke-width="0.2" font-weight="normal" font-family='"Liberation Sans", sans-serif' textLength="53.20" lengthAdjust="spacingAndGlyphs">25 Jun 12:00</text>
<polygon points="0.8,33 4.6,29 8.4,33" fill="#000"/>
<text x="12.74" y="34" font-size="10.00" fill="#000" stroke="#000" stroke-width="0.2" font-weight="normal" font-family='"Liberation Sans", sans-serif' textLength="200.70" lengthAdjust="spacingAndGlyphs">GBPJPY-,H4  153.954 154.102 153.732 153.779</text>
<defs>
<linearGradient id="gt" x1="0" y1="0" x2="0" y2="1"><stop offset="0" stop-color="#f45656"/><stop offset="1" stop-color="#d82a2a"/></linearGradient>
<linearGradient id="gb" x1="0" y1="0" x2="0" y2="1"><stop offset="0" stop-color="#d52222"/><stop offset="1" stop-color="#b00000"/></linearGradient>
<linearGradient id="gbtn" x1="0" y1="0" x2="0" y2="1"><stop offset="0" stop-color="#f4f4f4"/><stop offset="0.5" stop-color="#e4e4e4"/><stop offset="1" stop-color="#d0d0d0"/></linearGradient>
</defs>
<g shape-rendering="crispEdges">
<rect x="1" y="42" width="53" height="24" fill="#b40000"/>
<rect x="2" y="43" width="51" height="23" fill="url(#gt)"/>
<rect x="1" y="66" width="109" height="33" fill="#b40000"/>
<rect x="2" y="66" width="107" height="32" fill="url(#gb)"/>
<rect x="5" y="65" width="44" height="1" fill="#8a0000"/>
<rect x="5" y="66" width="44" height="1" fill="#f07070"/>
<rect x="168" y="42" width="52" height="24" fill="#b40000"/>
<rect x="169" y="43" width="50" height="23" fill="url(#gt)"/>
<rect x="112" y="66" width="108" height="33" fill="#b40000"/>
<rect x="113" y="66" width="106" height="32" fill="url(#gb)"/>
<rect x="172" y="65" width="44" height="1" fill="#8a0000"/>
<rect x="172" y="66" width="44" height="1" fill="#f07070"/>
<rect x="55" y="42" width="111" height="22" fill="#a8acb0"/>
<rect x="56" y="43" width="109" height="20" fill="#ffffff"/>
<rect x="56" y="43" width="20" height="20" fill="url(#gbtn)"/>
<rect x="76" y="43" width="1" height="20" fill="#a8acb0"/>
<rect x="144" y="43" width="1" height="20" fill="#a8acb0"/>
<rect x="145" y="43" width="20" height="20" fill="url(#gbtn)"/>
</g>
<polygon points="63,52 68,52 65.5,55" fill="#4060c0"/>
<polygon points="153,55 158,55 155.5,52" fill="#4060c0"/>
<text x="116.76" y="57" font-size="13.00" fill="#000" font-weight="normal" font-family='"Liberation Sans", sans-serif' textLength="24.29" lengthAdjust="spacingAndGlyphs">1.00</text>
<text x="12.71" y="58" font-size="12.57" fill="#fff" stroke="#fff" stroke-width="0.2" font-weight="normal" font-family='"Liberation Sans", sans-serif' textLength="26.63" lengthAdjust="spacingAndGlyphs">SELL</text>
<text x="180.87" y="58" font-size="12.61" fill="#fff" stroke="#fff" stroke-width="0.2" font-weight="normal" font-family='"Liberation Sans", sans-serif' textLength="23.98" lengthAdjust="spacingAndGlyphs">BUY</text>
<text x="23.62" y="94" font-size="12.57" fill="#fff" stroke="#fff" stroke-width="0.2" font-weight="bold" font-family='"Liberation Sans", sans-serif' textLength="21.68" lengthAdjust="spacingAndGlyphs">153</text>
<text x="47.55" y="94" font-size="34.49" fill="#fff" font-weight="normal" font-family='"Liberation Sans", sans-serif' textLength="36.67" lengthAdjust="spacingAndGlyphs">77</text>
<text x="87.41" y="78" font-size="10.57" fill="#fff" stroke="#fff" stroke-width="0.2" font-weight="bold" font-family='"Liberation Sans", sans-serif' textLength="7.80" lengthAdjust="spacingAndGlyphs">9</text>
<text x="133.85" y="94" font-size="12.57" fill="#fff" stroke="#fff" stroke-width="0.2" font-weight="bold" font-family='"Liberation Sans", sans-serif' textLength="20.94" lengthAdjust="spacingAndGlyphs">153</text>
<text x="159.15" y="94.3" font-size="34.71" fill="#fff" font-weight="normal" font-family='"Liberation Sans", sans-serif' textLength="35.95" lengthAdjust="spacingAndGlyphs">82</text>
<text x="198.87" y="78" font-size="11.86" fill="#fff" stroke="#fff" stroke-width="0.2" font-weight="bold" font-family='"Liberation Sans", sans-serif' textLength="7.38" lengthAdjust="spacingAndGlyphs">0</text>
<g shape-rendering="crispEdges">
<rect x="0" y="0" width="1704" height="17" fill="#f0f0f0"/>
<rect x="0" y="17" width="1703" height="1" fill="#f7f7f7"/>
<rect x="0" y="18" width="1702" height="1" fill="#a0a0a0"/>
<rect x="0" y="19" width="1701" height="1" fill="#646464"/>
<rect x="1702" y="20" width="1" height="923" fill="#e2e2e2"/>
<rect x="1703" y="18" width="1" height="925" fill="#fafafa"/>
<rect x="17" y="0" width="1" height="16" fill="#a0a0a0"/>
<rect x="18" y="0" width="1" height="16" fill="#ffffff"/>
<rect x="253" y="0" width="1" height="16" fill="#a0a0a0"/>
<rect x="254" y="0" width="1" height="16" fill="#ffffff"/>
<rect x="291" y="0" width="1" height="16" fill="#a0a0a0"/>
<rect x="292" y="0" width="1" height="16" fill="#ffffff"/>
<rect x="348" y="0" width="1" height="16" fill="#a0a0a0"/>
<rect x="349" y="0" width="1" height="16" fill="#ffffff"/>
<rect x="438" y="0" width="1" height="16" fill="#a0a0a0"/>
<rect x="439" y="0" width="1" height="16" fill="#ffffff"/>
<rect x="443" y="0" width="1" height="16" fill="#a0a0a0"/>
<rect x="444" y="0" width="1" height="16" fill="#ffffff"/>
<rect x="471" y="0" width="1" height="16" fill="#a0a0a0"/>
<rect x="472" y="0" width="1" height="16" fill="#ffffff"/>
<rect x="500" y="0" width="1" height="16" fill="#a0a0a0"/>
<rect x="501" y="0" width="1" height="16" fill="#ffffff"/>
<rect x="622" y="0" width="1" height="16" fill="#a0a0a0"/>
<rect x="623" y="0" width="1" height="16" fill="#ffffff"/>
<rect x="927" y="0" width="1" height="16" fill="#a0a0a0"/>
<rect x="928" y="0" width="1" height="16" fill="#ffffff"/>
<rect x="1188" y="0" width="1" height="16" fill="#a0a0a0"/>
<rect x="1189" y="0" width="1" height="16" fill="#ffffff"/>
<rect x="258" y="0" width="3" height="1" fill="#9a9a9a"/>
<rect x="258" y="2" width="3" height="1" fill="#9a9a9a"/>
<rect x="258" y="4" width="3" height="1" fill="#9a9a9a"/>
<rect x="258" y="6" width="3" height="1" fill="#9a9a9a"/>
<rect x="258" y="8" width="3" height="1" fill="#9a9a9a"/>
<rect x="258" y="10" width="3" height="1" fill="#9a9a9a"/>
<rect x="258" y="12" width="3" height="1" fill="#9a9a9a"/>
<rect x="258" y="14" width="3" height="1" fill="#9a9a9a"/>
<rect x="626" y="0" width="3" height="1" fill="#9a9a9a"/>
<rect x="626" y="2" width="3" height="1" fill="#9a9a9a"/>
<rect x="626" y="4" width="3" height="1" fill="#9a9a9a"/>
<rect x="626" y="6" width="3" height="1" fill="#9a9a9a"/>
<rect x="626" y="8" width="3" height="1" fill="#9a9a9a"/>
<rect x="626" y="10" width="3" height="1" fill="#9a9a9a"/>
<rect x="626" y="12" width="3" height="1" fill="#9a9a9a"/>
<rect x="626" y="14" width="3" height="1" fill="#9a9a9a"/>
<rect x="932" y="0" width="3" height="1" fill="#9a9a9a"/>
<rect x="932" y="2" width="3" height="1" fill="#9a9a9a"/>
<rect x="932" y="4" width="3" height="1" fill="#9a9a9a"/>
<rect x="932" y="6" width="3" height="1" fill="#9a9a9a"/>
<rect x="932" y="8" width="3" height="1" fill="#9a9a9a"/>
<rect x="932" y="10" width="3" height="1" fill="#9a9a9a"/>
<rect x="932" y="12" width="3" height="1" fill="#9a9a9a"/>
<rect x="932" y="14" width="3" height="1" fill="#9a9a9a"/>
<rect x="292" y="0" width="24" height="16" fill="#f8f8f8"/>
<rect x="630" y="0" width="25" height="16" fill="#f8f8f8"/>
<rect x="444" y="0" width="23" height="16" fill="#f6f6f6"/>
<rect x="473" y="0" width="23" height="16" fill="#f6f6f6"/>
<rect x="1077" y="0" width="25" height="16" fill="#f8f8f8"/>
<rect x="1077" y="0" width="1" height="16" fill="#a0a0a0"/>
</g>
<circle cx="2" cy="4" r="4.5" fill="#dbe8f5" stroke="#5b8fd0" stroke-width="1.2"/><line x1="5" y1="8" x2="9" y2="13" stroke="#c8a030" stroke-width="2.2"/>
<rect x="28" y="-2" width="10" height="13" fill="#fff" stroke="#707070" stroke-width="1"/><line x1="30" y1="4" x2="35" y2="4" stroke="#909090"/><line x1="30" y1="6.5" x2="35" y2="6.5" stroke="#909090"/>
<rect x="35" y="5" width="3" height="11" fill="#10c010"/><rect x="31" y="9" width="11" height="3" fill="#10c010"/>
<text x="45.07" y="8.5" font-size="12.30" fill="#000" font-weight="500" font-family='"Liberation Sans", "Noto Sans CJK SC", sans-serif' textLength="36.95" lengthAdjust="spacingAndGlyphs">新订单</text>
<polygon points="94,7 101,0 110,8 103,14" fill="#e2b828" stroke="#a07010" stroke-width="1"/>
<rect x="125" y="-2" width="10" height="10" fill="#2a8fe8"/><rect x="128" y="1" width="6" height="5" fill="#bfe0ff"/><ellipse cx="130" cy="11" rx="8" ry="3.5" fill="#e6ecf6" stroke="#7088b0" stroke-width="1"/>
<circle cx="158" cy="5" r="7" fill="none" stroke="#7aa0e0" stroke-width="1"/><circle cx="158" cy="5" r="4.5" fill="none" stroke="#6f9ee8" stroke-width="1"/><circle cx="158" cy="5" r="1.8" fill="#2050c0"/><line x1="158.5" y1="5" x2="158.5" y2="14" stroke="#20a020" stroke-width="1.2"/>
<ellipse cx="185" cy="2" rx="7" ry="4" fill="#4aa8e0"/><polygon points="178,5 192,5 188,13 182,13" fill="#f0d040"/><circle cx="189.5" cy="9.5" r="4" fill="#e02010"/><rect x="188" y="8" width="3" height="3" fill="#fff"/>
<text x="196.89" y="9" font-size="11.80" fill="#000" font-weight="500" font-family='"Liberation Sans", "Noto Sans CJK SC", sans-serif' textLength="49.28" lengthAdjust="spacingAndGlyphs">自动交易</text>
<rect x="271" y="0" width="1" height="14" fill="#505050" shape-rendering="crispEdges"/><rect x="268" y="11" width="14" height="1" fill="#505050" shape-rendering="crispEdges"/><polygon points="281,9 284,11.5 281,14" fill="#505050"/><line x1="277.5" y1="2" x2="277.5" y2="9" stroke="#10a010"/><line x1="277" y1="2.5" x2="280" y2="2.5" stroke="#10a010"/><line x1="275" y1="8.5" x2="278" y2="8.5" stroke="#10a010"/>
<rect x="300" y="0" width="1" height="14" fill="#505050" shape-rendering="crispEdges"/><rect x="297" y="11" width="14" height="1" fill="#505050" shape-rendering="crispEdges"/><polygon points="310,9 313,11.5 310,14" fill="#505050"/><rect x="303" y="-1" width="5" height="8" fill="#40e040" stroke="#10a010"/><line x1="305.5" y1="7" x2="305.5" y2="10" stroke="#10a010"/>
<rect x="328" y="0" width="1" height="14" fill="#505050" shape-rendering="crispEdges"/><rect x="325" y="11" width="14" height="1" fill="#505050" shape-rendering="crispEdges"/><polygon points="338,9 341,11.5 338,14" fill="#505050"/><polyline points="326,8.5 332,3 337.5,7" fill="none" stroke="#20a040" stroke-width="1"/>
<circle cx="363" cy="4" r="5" fill="#d4e6f8" stroke="#3a78d0" stroke-width="1.3"/><line x1="360.5" y1="4" x2="365.5" y2="4" stroke="#3a78d0" stroke-width="1.3"/><line x1="363" y1="1.5" x2="363" y2="6.5" stroke="#3a78d0" stroke-width="1.3"/><line x1="367" y1="8" x2="372" y2="13" stroke="#d0a020" stroke-width="2.4"/>
<circle cx="391" cy="4" r="5" fill="#d4e6f8" stroke="#3a78d0" stroke-width="1.3"/><line x1="388.5" y1="4" x2="393.5" y2="4" stroke="#3a78d0" stroke-width="1.3"/><line x1="395" y1="8" x2="400" y2="13" stroke="#d0a020" stroke-width="2.4"/>
<rect x="413" y="-1" width="7" height="7" fill="#30a030"/><rect x="421" y="-1" width="7" height="7" fill="#2060d0"/><rect x="413" y="7" width="7" height="7" fill="#2060d0"/><rect x="421" y="7" width="7" height="7" fill="#30a030"/><rect x="414" y="2" width="5" height="2" fill="#e8f4e8"/><rect x="422" y="2" width="5" height="2" fill="#e8eef8"/><rect x="414" y="10" width="5" height="2" fill="#e8eef8"/><rect x="422" y="10" width="5" height="2" fill="#e8f4e8"/>
<rect x="451" y="0" width="1" height="14" fill="#505050" shape-rendering="crispEdges"/><rect x="448" y="11" width="14" height="1" fill="#505050" shape-rendering="crispEdges"/><polygon points="461,9 464,11.5 461,14" fill="#505050"/><polygon points="456.5,2.5 456.5,8.5 461,5.5" fill="#80e080" stroke="#10a010" stroke-width="1.2"/>
<rect x="479" y="0" width="1" height="14" fill="#505050" shape-rendering="crispEdges"/><rect x="476" y="11" width="14" height="1" fill="#505050" shape-rendering="crispEdges"/><polygon points="489,9 492,11.5 489,14" fill="#505050"/><rect x="485" y="0" width="1" height="10" fill="#2050a0"/><polygon points="486,5.5 491,2.5 490,5.5 491,8.5" fill="#e04010"/>
<rect x="511" y="-2" width="9" height="12" fill="#fff" stroke="#707070"/><rect x="518" y="4" width="3" height="11" fill="#10c010"/><rect x="514" y="8" width="11" height="3" fill="#10c010"/><polygon points="532,5 538,5 535,8" fill="#000"/>
<circle cx="556" cy="6" r="7" fill="#1d6fd6"/><circle cx="556" cy="6" r="5" fill="#eef4fb"/><line x1="556" y1="6" x2="556" y2="3" stroke="#333"/><line x1="556" y1="6" x2="558" y2="6" stroke="#333"/><polygon points="571,5 577,5 574,8" fill="#000"/>
<rect x="588" y="0" width="15" height="14" fill="#fff" stroke="#4070c0"/><rect x="589" y="0" width="13" height="2" fill="#3070d0"/><polyline points="590,6 594,4 597,5 601,3" fill="none" stroke="#c02020"/><polyline points="590,11 594,9 597,10 601,8" fill="none" stroke="#20a020"/><polygon points="610,5 616,5 613,8" fill="#000"/>
<polygon points="639,0 639,10 642,7.5 644.5,12.5 646.5,11.5 644,6.5 648,6.5" fill="#505050"/>
<line x1="671.5" y1="1" x2="671.5" y2="14" stroke="#505050"/><line x1="664" y1="6.5" x2="679" y2="6.5" stroke="#505050"/>
<line x1="705.5" y1="0" x2="705.5" y2="14" stroke="#505050"/>
<line x1="729" y1="6.5" x2="740" y2="6.5" stroke="#505050" stroke-width="1.2"/>
<line x1="755" y1="13" x2="768" y2="1" stroke="#505050" stroke-width="1.2"/>
<line x1="782" y1="12" x2="792" y2="2" stroke="#606060"/><line x1="785" y1="13" x2="795" y2="3" stroke="#606060"/><line x1="783" y1="7" x2="792" y2="8" stroke="#606060"/>
<text x="793" y="15" font-size="6" fill="#303030" text-anchor="start" font-weight="bold" font-family='"Liberation Sans", sans-serif' >E</text>
<line x1="811" y1="2.5" x2="824" y2="2.5" stroke="#606060" stroke-dasharray="1 1"/><line x1="811" y1="6.5" x2="824" y2="6.5" stroke="#606060" stroke-dasharray="1 1"/><line x1="811" y1="10.5" x2="820" y2="10.5" stroke="#606060" stroke-dasharray="1 1"/>
<text x="820" y="15" font-size="6" fill="#303030" text-anchor="start" font-weight="bold" font-family='"Liberation Sans", sans-serif' >F</text>
<text x="841.5" y="12" font-size="12" fill="#404040" text-anchor="start" font-weight="normal" font-family='"Liberation Sans", sans-serif' >A</text>
<rect x="867.5" y="0.5" width="12" height="13" fill="none" stroke="#606060" stroke-dasharray="1 1"/>
<text x="869.5" y="11" font-size="11" fill="#404040" text-anchor="start" font-weight="bold" font-family='"Liberation Sans", sans-serif' >T</text>
<polygon points="896,4 899,1 902,4" fill="#505050"/><polyline points="897,7 899,10 905,4" fill="none" stroke="#505050" stroke-width="1.5"/><polygon points="904,10 907,7 910,10 907,13" fill="#505050"/><polygon points="915,5 921,5 918,8" fill="#000"/>
<circle cx="1659.5" cy="3.5" r="3.3" fill="none" stroke="#2f62d0" stroke-width="1.6"/><line x1="1657" y1="6" x2="1651.5" y2="11" stroke="#2f62d0" stroke-width="2"/>
<ellipse cx="1680" cy="8" rx="6" ry="4.5" fill="#e0e4ea" stroke="#b8bcc4"/><polygon points="1678,11 1679,15 1682,12" fill="#c8ccd2"/><circle cx="1689.5" cy="2.5" r="7" fill="#e03818"/>
<text x="1687" y="7" font-size="10" fill="#fff" text-anchor="start" font-weight="normal" font-family='"Liberation Serif", serif' >1</text>
<text x="941.92" y="10" font-size="10.14" fill="#3a3a3a" stroke="#3a3a3a" stroke-width="0.2" font-weight="normal" font-family='"Liberation Sans", sans-serif' textLength="13.51" lengthAdjust="spacingAndGlyphs">M1</text>
<text x="969.18" y="10" font-size="10.14" fill="#3a3a3a" stroke="#3a3a3a" stroke-width="0.2" font-weight="normal" font-family='"Liberation Sans", sans-serif' textLength="14.22" lengthAdjust="spacingAndGlyphs">M5</text>
<text x="995.73" y="10" font-size="10.14" fill="#3a3a3a" stroke="#3a3a3a" stroke-width="0.2" font-weight="normal" font-family='"Liberation Sans", sans-serif' textLength="18.65" lengthAdjust="spacingAndGlyphs">M15</text>
<text x="1024.03" y="10" font-size="10.00" fill="#3a3a3a" stroke="#3a3a3a" stroke-width="0.2" font-weight="normal" font-family='"Liberation Sans", sans-serif' textLength="18.82" lengthAdjust="spacingAndGlyphs">M30</text>
<text x="1054.88" y="10" font-size="10.14" fill="#3a3a3a" stroke="#3a3a3a" stroke-width="0.2" font-weight="normal" font-family='"Liberation Sans", sans-serif' textLength="13.12" lengthAdjust="spacingAndGlyphs">H1</text>
<text x="1082.18" y="10" font-size="10.14" fill="#3a3a3a" stroke="#3a3a3a" stroke-width="0.2" font-weight="normal" font-family='"Liberation Sans", sans-serif' textLength="13.17" lengthAdjust="spacingAndGlyphs">H4</text>
<text x="1110.59" y="10" font-size="10.14" fill="#3a3a3a" stroke="#3a3a3a" stroke-width="0.2" font-weight="normal" font-family='"Liberation Sans", sans-serif' textLength="12.89" lengthAdjust="spacingAndGlyphs">D1</text>
<text x="1138.95" y="10" font-size="10.14" fill="#3a3a3a" stroke="#3a3a3a" stroke-width="0.2" font-weight="normal" font-family='"Liberation Sans", sans-serif' textLength="15.00" lengthAdjust="spacingAndGlyphs">W1</text>
<text x="1164.75" y="10" font-size="10.14" fill="#3a3a3a" stroke="#3a3a3a" stroke-width="0.2" font-weight="normal" font-family='"Liberation Sans", sans-serif' textLength="16.61" lengthAdjust="spacingAndGlyphs">MN</text>
</svg>
</body></html>
